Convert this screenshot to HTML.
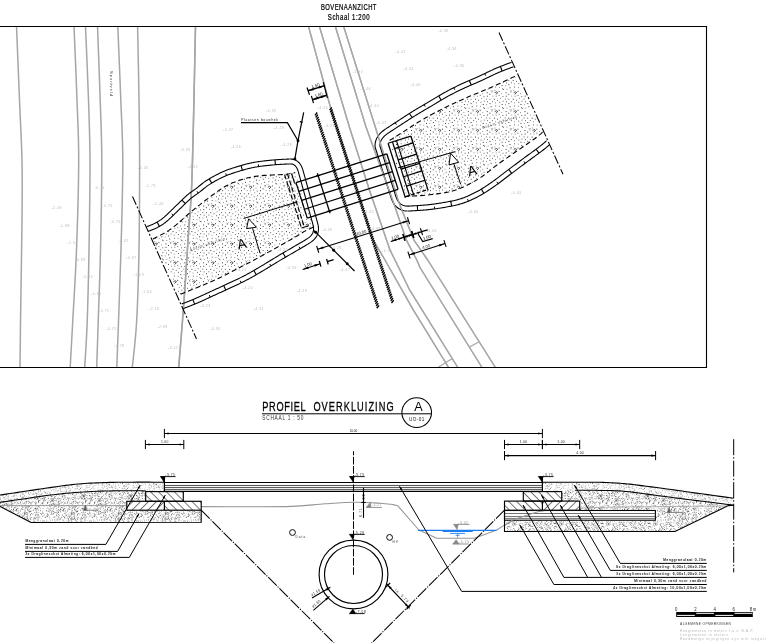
<!DOCTYPE html>
<html lang="nl">
<head>
<meta charset="utf-8">
<title>Bovenaanzicht en profiel overkluizing</title>
<style>
html,body{margin:0;padding:0;background:#fff;}
body{width:766px;height:643px;overflow:hidden;}
svg{display:block;font-family:"Liberation Sans",sans-serif;will-change:transform;}
</style>
</head>
<body>
<svg width="766" height="643" viewBox="0 0 766 643">
<defs>
<pattern id="sand" width="47" height="37" patternUnits="userSpaceOnUse">
<circle cx="7.8" cy="25.5" r=".42" fill="#555"/>
<path d="M10.2 29.3l-0.1 1" stroke="#999" stroke-width=".62"/>
<path d="M0.7 34.5l-0.5 0.4" stroke="#777" stroke-width=".62"/>
<circle cx="10.9" cy="1.6" r=".42" fill="#777"/>
<circle cx="1.6" cy="12.2" r=".42" fill="#777"/>
<path d="M30.5 34.7l-0.5 0.3" stroke="#111" stroke-width=".62"/>
<circle cx="43.6" cy="16.8" r=".42" fill="#999"/>
<circle cx="18.9" cy="5.6" r=".42" fill="#111"/>
<path d="M38.5 2.8l-1 0.1" stroke="#333" stroke-width=".62"/>
<circle cx="35.5" cy="28.2" r=".42" fill="#999"/>
<circle cx="3.3" cy="20.7" r=".42" fill="#999"/>
<circle cx="9.5" cy="34.2" r=".42" fill="#999"/>
<path d="M17.2 16.7l0 0.7" stroke="#777" stroke-width=".62"/>
<path d="M39.2 5.9l0.8 0.2" stroke="#777" stroke-width=".62"/>
<circle cx="24.5" cy="21.1" r=".42" fill="#555"/>
<circle cx="29.3" cy="6.7" r=".42" fill="#333"/>
<circle cx="39.2" cy="12.3" r=".42" fill="#999"/>
<circle cx="11.6" cy="6.2" r=".42" fill="#333"/>
<circle cx="17.6" cy="25.3" r=".42" fill="#999"/>
<circle cx="45" cy="15.1" r=".42" fill="#333"/>
<circle cx="27.8" cy="32.7" r=".42" fill="#777"/>
<circle cx="11.6" cy="20.8" r=".42" fill="#777"/>
<path d="M36.4 17.9l0.5 0.5" stroke="#555" stroke-width=".62"/>
<circle cx="19.7" cy="6.3" r=".42" fill="#111"/>
<circle cx="30.3" cy="5.4" r=".42" fill="#333"/>
<circle cx="22.5" cy="9.3" r=".42" fill="#999"/>
<circle cx="22.5" cy="35.3" r=".42" fill="#555"/>
<circle cx="41.4" cy="22.3" r=".42" fill="#777"/>
<circle cx="42.4" cy="17.6" r=".42" fill="#333"/>
<path d="M13 28.4l0.9 0.4" stroke="#111" stroke-width=".62"/>
<circle cx="12.4" cy="12.1" r=".42" fill="#333"/>
<circle cx="27.5" cy="9.5" r=".42" fill="#777"/>
<path d="M38.2 5.1l0.5 0.1" stroke="#333" stroke-width=".62"/>
<circle cx="21" cy="5.2" r=".42" fill="#111"/>
<path d="M5.9 19.9l-0.8 0.3" stroke="#555" stroke-width=".62"/>
<circle cx="8.5" cy="31.7" r=".42" fill="#333"/>
<circle cx="25.9" cy="1.7" r=".42" fill="#999"/>
<path d="M36.4 29.3l-0.7 0.3" stroke="#111" stroke-width=".62"/>
<path d="M26.6 31.6l-0.4 0.6" stroke="#333" stroke-width=".62"/>
<circle cx="2" cy="14.4" r=".42" fill="#555"/>
<circle cx="46.6" cy="30.3" r=".42" fill="#999"/>
<circle cx="26.9" cy="20.2" r=".42" fill="#111"/>
<path d="M34.5 35.8l-0.4 0.9" stroke="#555" stroke-width=".62"/>
<circle cx="8.9" cy="22.8" r=".42" fill="#555"/>
<path d="M16.7 11.8l0.5 0.1" stroke="#777" stroke-width=".62"/>
<circle cx="38.3" cy="28.1" r=".42" fill="#777"/>
<circle cx="44.5" cy="25.2" r=".42" fill="#777"/>
<path d="M24.1 32.4l0.8 0.1" stroke="#111" stroke-width=".62"/>
<circle cx="11.6" cy="26.1" r=".42" fill="#777"/>
<path d="M21.4 8.7l0.8 0.7" stroke="#777" stroke-width=".62"/>
<circle cx="30.8" cy="1.4" r=".42" fill="#333"/>
<circle cx="33.7" cy="32.9" r=".42" fill="#777"/>
<circle cx="35.7" cy="24.7" r=".42" fill="#999"/>
<path d="M32.1 9.1l-0.4 0.9" stroke="#777" stroke-width=".62"/>
<path d="M45.3 36.6l0.8 0.6" stroke="#111" stroke-width=".62"/>
<path d="M33.7 3.4l0.6 0.9" stroke="#333" stroke-width=".62"/>
<circle cx="34.9" cy="17.1" r=".42" fill="#111"/>
<path d="M7.8 16l-0.2 0.6" stroke="#555" stroke-width=".62"/>
<path d="M3.9 1.1l-0.5 0.3" stroke="#999" stroke-width=".62"/>
<circle cx="32" cy="7.4" r=".42" fill="#999"/>
<circle cx="33.7" cy="5.8" r=".42" fill="#777"/>
<circle cx="20.5" cy="22.8" r=".42" fill="#555"/>
<path d="M31.4 23l-0.5 0.1" stroke="#111" stroke-width=".62"/>
<path d="M38.1 34.6l-0 0.5" stroke="#555" stroke-width=".62"/>
<circle cx="28.6" cy="25.9" r=".42" fill="#333"/>
<path d="M44.3 5.5l0.2 0.5" stroke="#555" stroke-width=".62"/>
<circle cx="7.8" cy="21.1" r=".42" fill="#777"/>
<circle cx="2.3" cy="6.9" r=".42" fill="#777"/>
<circle cx="38.7" cy="21.6" r=".42" fill="#777"/>
<circle cx="0.8" cy="21.5" r=".42" fill="#111"/>
<path d="M39.1 36.6l0 0.8" stroke="#333" stroke-width=".62"/>
<path d="M25.2 18.2l0.6 0.3" stroke="#555" stroke-width=".62"/>
<circle cx="30.1" cy="0.3" r=".42" fill="#111"/>
<path d="M8.8 3.6l0.3 0.5" stroke="#333" stroke-width=".62"/>
<path d="M37.1 14.8l-0.8 0.2" stroke="#111" stroke-width=".62"/>
<circle cx="19.2" cy="25.6" r=".42" fill="#999"/>
<path d="M15.3 8.1l0.4 0.7" stroke="#999" stroke-width=".62"/>
<circle cx="29.5" cy="6.4" r=".42" fill="#555"/>
<path d="M37.9 33.5l-0.8 0.7" stroke="#111" stroke-width=".62"/>
<path d="M25.1 33.6l-1 0.2" stroke="#555" stroke-width=".62"/>
<path d="M37.3 0.4l0.3 0.4" stroke="#555" stroke-width=".62"/>
<circle cx="17.7" cy="27.7" r=".42" fill="#333"/>
<path d="M25.2 32.6l-0 0.7" stroke="#333" stroke-width=".62"/>
<circle cx="21.1" cy="28.4" r=".42" fill="#555"/>
<circle cx="11.3" cy="22.2" r=".42" fill="#555"/>
<circle cx="38.3" cy="13.4" r=".42" fill="#333"/>
<circle cx="42.8" cy="35.3" r=".42" fill="#111"/>
<circle cx="34.8" cy="27.4" r=".42" fill="#333"/>
<circle cx="24.2" cy="4.5" r=".42" fill="#333"/>
<circle cx="28.8" cy="17.2" r=".42" fill="#777"/>
<circle cx="30.6" cy="9.4" r=".42" fill="#777"/>
<circle cx="10.4" cy="17.7" r=".42" fill="#111"/>
<circle cx="21.6" cy="1.3" r=".42" fill="#555"/>
<circle cx="37.7" cy="27.3" r=".42" fill="#333"/>
<circle cx="17.7" cy="14.6" r=".42" fill="#111"/>
<path d="M40.7 11l0.7 0.6" stroke="#777" stroke-width=".62"/>
<path d="M38.2 17.9l-0.6 0.2" stroke="#111" stroke-width=".62"/>
<circle cx="15.7" cy="13.1" r=".42" fill="#999"/>
<circle cx="40.7" cy="27.8" r=".42" fill="#555"/>
<circle cx="5.9" cy="33.1" r=".42" fill="#999"/>
<path d="M41.9 2.9l0.9 0.4" stroke="#555" stroke-width=".62"/>
<path d="M44 3.9l0.5 0.4" stroke="#999" stroke-width=".62"/>
<path d="M23.4 26.4l-1 0.3" stroke="#333" stroke-width=".62"/>
<path d="M24.6 0.3l0.7 0.7" stroke="#333" stroke-width=".62"/>
<circle cx="2.8" cy="28" r=".42" fill="#999"/>
<circle cx="1" cy="26.8" r=".42" fill="#999"/>
<path d="M22.9 19.9l-0.4 0.8" stroke="#999" stroke-width=".62"/>
<circle cx="17.2" cy="12.8" r=".42" fill="#777"/>
<circle cx="21.5" cy="19" r=".42" fill="#333"/>
<circle cx="10.9" cy="31.5" r=".42" fill="#777"/>
<path d="M36.4 33.4l0.4 0.2" stroke="#111" stroke-width=".62"/>
<path d="M12.7 25.6l0.6 0.1" stroke="#555" stroke-width=".62"/>
<path d="M7.1 23.1l0.8 0.3" stroke="#333" stroke-width=".62"/>
<path d="M5.4 15l-0.5 0.7" stroke="#111" stroke-width=".62"/>
<circle cx="4" cy="9" r=".42" fill="#999"/>
<circle cx="11.5" cy="16" r=".42" fill="#999"/>
<circle cx="38.2" cy="14.8" r=".42" fill="#555"/>
<path d="M32.3 32.7l0 1" stroke="#777" stroke-width=".62"/>
<path d="M36.3 21.4l-0.4 0.9" stroke="#333" stroke-width=".62"/>
<circle cx="12.1" cy="17.5" r=".42" fill="#555"/>
<circle cx="7.7" cy="12.6" r=".42" fill="#777"/>
<path d="M18.3 29.6l-0.2 0.8" stroke="#111" stroke-width=".62"/>
<path d="M38.6 5.1l0.2 0.6" stroke="#333" stroke-width=".62"/>
<circle cx="38.9" cy="19" r=".42" fill="#111"/>
<circle cx="17.1" cy="7.3" r=".42" fill="#777"/>
<circle cx="28.6" cy="16.1" r=".42" fill="#111"/>
<path d="M9.4 1.2l-0.5 0.1" stroke="#333" stroke-width=".62"/>
<path d="M36.4 31.5l0.4 0.9" stroke="#777" stroke-width=".62"/>
<circle cx="8.9" cy="25.9" r=".42" fill="#333"/>
<path d="M22.6 12.2l-0.6 0.6" stroke="#333" stroke-width=".62"/>
<path d="M34.5 2.9l-0.7 0" stroke="#111" stroke-width=".62"/>
<circle cx="17.9" cy="36.1" r=".42" fill="#333"/>
<path d="M1.3 21.4l-1 0" stroke="#555" stroke-width=".62"/>
<circle cx="10.8" cy="4.5" r=".42" fill="#111"/>
<circle cx="38.7" cy="36.2" r=".42" fill="#777"/>
<circle cx="31.3" cy="7.8" r=".42" fill="#333"/>
<circle cx="20.2" cy="24.6" r=".42" fill="#555"/>
<circle cx="24.4" cy="1.8" r=".42" fill="#111"/>
<path d="M7.8 4.1l-0.2 0.5" stroke="#777" stroke-width=".62"/>
<circle cx="24" cy="10.9" r=".42" fill="#777"/>
<path d="M13.7 28.4l0.4 0.8" stroke="#999" stroke-width=".62"/>
<circle cx="12.1" cy="23.1" r=".42" fill="#555"/>
<path d="M12.5 12.9l-0.7 0.1" stroke="#999" stroke-width=".62"/>
<circle cx="29.7" cy="30.3" r=".42" fill="#555"/>
<path d="M7.6 35.8l0.3 0.6" stroke="#111" stroke-width=".62"/>
<path d="M1.2 29.7l-0.3 0.5" stroke="#333" stroke-width=".62"/>
<circle cx="6" cy="11.9" r=".42" fill="#333"/>
<circle cx="9.3" cy="6.4" r=".42" fill="#555"/>
<circle cx="15.3" cy="26.9" r=".42" fill="#777"/>
<path d="M34.3 9l-0.8 0.5" stroke="#555" stroke-width=".62"/>
<circle cx="8.9" cy="35.4" r=".42" fill="#999"/>
<path d="M43.2 17.1l-0.4 1" stroke="#333" stroke-width=".62"/>
<circle cx="41.4" cy="33.7" r=".42" fill="#111"/>
<circle cx="26.1" cy="33.5" r=".42" fill="#333"/>
<circle cx="42.7" cy="22.8" r=".42" fill="#111"/>
<circle cx="1.5" cy="11.5" r=".42" fill="#333"/>
<path d="M0.1 32.8l0.3 1" stroke="#777" stroke-width=".62"/>
<circle cx="40.6" cy="29.2" r=".42" fill="#777"/>
<path d="M8.8 11l-0.6 0.1" stroke="#333" stroke-width=".62"/>
<path d="M43.2 24.2l0.4 0.7" stroke="#999" stroke-width=".62"/>
<circle cx="5.5" cy="19.7" r=".42" fill="#111"/>
<path d="M30.1 32.9l0.6 0.8" stroke="#777" stroke-width=".62"/>
<circle cx="30.9" cy="17.5" r=".42" fill="#333"/>
<circle cx="14.8" cy="22.8" r=".42" fill="#777"/>
<path d="M35.4 23.4l0.7 0.4" stroke="#555" stroke-width=".62"/>
<path d="M45.1 6.1l-0.5 0.5" stroke="#333" stroke-width=".62"/>
<path d="M25.1 9.2l-0.3 0.9" stroke="#555" stroke-width=".62"/>
<circle cx="42.8" cy="31.4" r=".42" fill="#999"/>
<circle cx="9.6" cy="19.9" r=".42" fill="#111"/>
<circle cx="26.1" cy="35.9" r=".42" fill="#333"/>
<path d="M32.8 36.9l-0.4 0.6" stroke="#777" stroke-width=".62"/>
<circle cx="31.5" cy="36.7" r=".42" fill="#777"/>
<circle cx="27.6" cy="33.1" r=".42" fill="#111"/>
<circle cx="11.8" cy="35.5" r=".42" fill="#999"/>
<circle cx="2.7" cy="25.1" r=".42" fill="#333"/>
<path d="M4.9 24.2l-0.2 0.7" stroke="#333" stroke-width=".62"/>
<path d="M24.7 34l-1 0.1" stroke="#999" stroke-width=".62"/>
<path d="M22.6 31.8l-0.7 0.1" stroke="#999" stroke-width=".62"/>
<path d="M46.1 5.4l-0.2 0.6" stroke="#999" stroke-width=".62"/>
<circle cx="37.7" cy="14.2" r=".42" fill="#111"/>
<circle cx="15.8" cy="4.3" r=".42" fill="#777"/>
<path d="M15.8 14.8l-0.9 0.6" stroke="#777" stroke-width=".62"/>
<circle cx="2.5" cy="28.3" r=".42" fill="#999"/>
<path d="M6.9 19.1l0.7 0.2" stroke="#111" stroke-width=".62"/>
<circle cx="30.8" cy="30.2" r=".42" fill="#555"/>
<circle cx="37.7" cy="15.2" r=".42" fill="#111"/>
<circle cx="34.8" cy="21.3" r=".42" fill="#333"/>
<path d="M12.8 29.4l-0.9 0.2" stroke="#777" stroke-width=".62"/>
<path d="M20.4 33l-0.6 0.3" stroke="#333" stroke-width=".62"/>
<circle cx="38.7" cy="25.3" r=".42" fill="#111"/>
<circle cx="4.2" cy="10.1" r=".42" fill="#111"/>
<path d="M44.5 17.4l0.5 0.4" stroke="#777" stroke-width=".62"/>
<circle cx="36.8" cy="5.2" r=".42" fill="#999"/>
<circle cx="3.6" cy="13.8" r=".42" fill="#777"/>
<path d="M45.4 19l-0.1 1" stroke="#777" stroke-width=".62"/>
<path d="M4.1 22.9l-0.5 0.4" stroke="#777" stroke-width=".62"/>
<path d="M38.4 0.7l-0.3 0.8" stroke="#333" stroke-width=".62"/>
<circle cx="43.6" cy="10.4" r=".42" fill="#111"/>
<circle cx="43" cy="32.5" r=".42" fill="#111"/>
<circle cx="39.2" cy="9" r=".42" fill="#777"/>
<circle cx="19.9" cy="2.3" r=".42" fill="#777"/>
<path d="M12.8 0.7l0.1 1.1" stroke="#333" stroke-width=".62"/>
<circle cx="18.2" cy="35" r=".42" fill="#777"/>
<circle cx="42.8" cy="21.5" r=".42" fill="#555"/>
<path d="M32.3 9.7l-0.4 0.4" stroke="#555" stroke-width=".62"/>
<circle cx="28.1" cy="6.3" r=".42" fill="#111"/>
<circle cx="24" cy="6" r=".42" fill="#999"/>
<circle cx="37.1" cy="36.2" r=".42" fill="#555"/>
<path d="M30 3.2l0.1 1" stroke="#999" stroke-width=".62"/>
<path d="M11.8 18l-0.3 0.5" stroke="#555" stroke-width=".62"/>
<circle cx="7.4" cy="17.7" r=".42" fill="#777"/>
<path d="M22.6 9.6l0.4 0.4" stroke="#111" stroke-width=".62"/>
<circle cx="30.3" cy="24.3" r=".42" fill="#333"/>
<path d="M9.5 13.5l-0.5 0.2" stroke="#777" stroke-width=".62"/>
<path d="M44.9 11.1l-0.8 0.3" stroke="#777" stroke-width=".62"/>
<path d="M41 32.2l-0.5 0.4" stroke="#999" stroke-width=".62"/>
<path d="M12.2 20.1l-0.2 0.7" stroke="#777" stroke-width=".62"/>
<circle cx="25.9" cy="27.5" r=".42" fill="#111"/>
<circle cx="37.6" cy="5.8" r=".42" fill="#777"/>
<circle cx="24.7" cy="30.8" r=".42" fill="#999"/>
<circle cx="32.2" cy="8.4" r=".42" fill="#999"/>
<path d="M24.3 1.6l-0.1 0.8" stroke="#777" stroke-width=".62"/>
<path d="M15 15.8l0.6 0" stroke="#111" stroke-width=".62"/>
<path d="M22.1 24.9l0.1 0.9" stroke="#111" stroke-width=".62"/>
<path d="M20.8 36.4l-0.5 0.3" stroke="#777" stroke-width=".62"/>
<circle cx="30.6" cy="6.9" r=".42" fill="#999"/>
<path d="M33.9 18.1l0.6 0.4" stroke="#999" stroke-width=".62"/>
<circle cx="7.1" cy="16.5" r=".42" fill="#999"/>
<path d="M22.2 36.3l0.5 0.7" stroke="#111" stroke-width=".62"/>
<path d="M10.5 2.1l-0.5 0.8" stroke="#555" stroke-width=".62"/>
<path d="M28.2 0.8l0.2 1" stroke="#111" stroke-width=".62"/>
<circle cx="34" cy="1.2" r=".42" fill="#333"/>
<circle cx="43.5" cy="2.6" r=".42" fill="#999"/>
<path d="M7.5 7.5l1 0.3" stroke="#777" stroke-width=".62"/>
<circle cx="23.1" cy="22.7" r=".42" fill="#333"/>
<circle cx="20.2" cy="21.8" r=".42" fill="#333"/>
<circle cx="39.9" cy="36.7" r=".42" fill="#999"/>
<path d="M34.5 4.8l-0.3 0.8" stroke="#333" stroke-width=".62"/>
<path d="M46.5 29.1l0.3 0.9" stroke="#111" stroke-width=".62"/>
<circle cx="3.2" cy="21.9" r=".42" fill="#999"/>
<circle cx="19.8" cy="34.8" r=".42" fill="#111"/>
<circle cx="46" cy="4.8" r=".42" fill="#777"/>
<path d="M21.6 2.9l-0.5 0.6" stroke="#999" stroke-width=".62"/>
<path d="M4.2 31.8l0.5 0.6" stroke="#555" stroke-width=".62"/>
<circle cx="4.5" cy="32.9" r=".42" fill="#111"/>
<path d="M7.2 20.4l-0.9 0.3" stroke="#777" stroke-width=".62"/>
<circle cx="6.7" cy="11.6" r=".42" fill="#111"/>
<path d="M4.8 13l0.6 0.4" stroke="#333" stroke-width=".62"/>
<path d="M30.1 29.7l0.1 0.8" stroke="#999" stroke-width=".62"/>
<path d="M6.8 36.1l0.9 0.2" stroke="#555" stroke-width=".62"/>
<path d="M30.3 33.2l0.6 0.5" stroke="#111" stroke-width=".62"/>
<path d="M43.8 6.7l0.4 0.6" stroke="#555" stroke-width=".62"/>
<path d="M36 15.9l-0.9 0.4" stroke="#777" stroke-width=".62"/>
<circle cx="12.6" cy="14.4" r=".42" fill="#777"/>
<circle cx="11" cy="35.3" r=".42" fill="#777"/>
<circle cx="26.6" cy="31.3" r=".42" fill="#555"/>
<path d="M12.6 7.2l1.1 0" stroke="#111" stroke-width=".62"/>
<circle cx="15.9" cy="1.5" r=".42" fill="#777"/>
<circle cx="25.9" cy="12.2" r=".42" fill="#999"/>
<path d="M43.6 4.6l-1 0.2" stroke="#333" stroke-width=".62"/>
<circle cx="0.2" cy="26.8" r=".42" fill="#777"/>
<circle cx="1.3" cy="30.7" r=".42" fill="#333"/>
<circle cx="40.9" cy="29.8" r=".42" fill="#333"/>
<circle cx="6.3" cy="7.6" r=".42" fill="#333"/>
<path d="M17.5 26.9l-0 1" stroke="#999" stroke-width=".62"/>
<circle cx="11.5" cy="21.1" r=".42" fill="#111"/>
<circle cx="16.9" cy="13.3" r=".42" fill="#333"/>
<path d="M27.4 28.8l0.3 0.8" stroke="#777" stroke-width=".62"/>
<path d="M18 0.3l-0.5 0.4" stroke="#333" stroke-width=".62"/>
<circle cx="32.9" cy="10.7" r=".42" fill="#999"/>
<path d="M11.5 33.2l0.3 0.8" stroke="#555" stroke-width=".62"/>
<circle cx="17.5" cy="22.3" r=".42" fill="#777"/>
<circle cx="4.7" cy="19.5" r=".42" fill="#111"/>
<circle cx="15.2" cy="33.8" r=".42" fill="#777"/>
<path d="M13.4 8.2l1 0" stroke="#111" stroke-width=".62"/>
<circle cx="3.4" cy="17.9" r=".42" fill="#777"/>
<circle cx="44.5" cy="33.9" r=".42" fill="#777"/>
<path d="M19 16l-0.6 0.1" stroke="#333" stroke-width=".62"/>
<circle cx="9.4" cy="34.6" r=".42" fill="#111"/>
<path d="M23.4 9l0.6 0.1" stroke="#111" stroke-width=".62"/>
<circle cx="40.3" cy="12" r=".42" fill="#777"/>
<circle cx="37.2" cy="5.7" r=".42" fill="#111"/>
<path d="M29.3 8.6l-0.6 0.1" stroke="#999" stroke-width=".62"/>
<path d="M23.1 34.6l0 1.1" stroke="#111" stroke-width=".62"/>
<path d="M0 27.9l-0.7 0.7" stroke="#111" stroke-width=".62"/>
<circle cx="34.5" cy="31.4" r=".42" fill="#555"/>
<path d="M24.8 8.5l-0.5 0.4" stroke="#111" stroke-width=".62"/>
<circle cx="42.3" cy="22.5" r=".42" fill="#777"/>
<circle cx="31.8" cy="24.1" r=".42" fill="#999"/>
<path d="M27.7 34.2l0.1 0.9" stroke="#555" stroke-width=".62"/>
<circle cx="26.5" cy="18.3" r=".42" fill="#111"/>
<circle cx="35.5" cy="7.5" r=".42" fill="#555"/>
<path d="M38.9 11.4l-0.5 0.3" stroke="#777" stroke-width=".62"/>
<circle cx="43.1" cy="34.1" r=".42" fill="#333"/>
<path d="M23.2 13.8l1 0.3" stroke="#999" stroke-width=".62"/>
<path d="M1.1 33.1l-0.3 0.7" stroke="#333" stroke-width=".62"/>
<path d="M20.1 21.2l0.6 0.1" stroke="#777" stroke-width=".62"/>
<circle cx="24.9" cy="3.3" r=".42" fill="#777"/>
<circle cx="4.9" cy="30.8" r=".42" fill="#111"/>
<circle cx="2.5" cy="7.1" r=".42" fill="#999"/>
<circle cx="3.3" cy="9.3" r=".42" fill="#555"/>
<circle cx="40.4" cy="2.8" r=".42" fill="#777"/>
<path d="M42.3 6.1l0.6 0.4" stroke="#111" stroke-width=".62"/>
<circle cx="34.9" cy="17.4" r=".42" fill="#111"/>
<circle cx="21.2" cy="1.7" r=".42" fill="#999"/>
<circle cx="13.4" cy="27.5" r=".42" fill="#777"/>
<path d="M4.8 17.6l0.3 0.9" stroke="#333" stroke-width=".62"/>
<circle cx="26.5" cy="7.2" r=".42" fill="#999"/>
<path d="M17.8 32.8l0.8 0.1" stroke="#555" stroke-width=".62"/>
<circle cx="0.6" cy="35.6" r=".42" fill="#555"/>
<path d="M45.6 6.2l0.2 0.9" stroke="#999" stroke-width=".62"/>
<circle cx="22" cy="6.9" r=".42" fill="#555"/>
<path d="M21.9 33.5l-0.3 0.7" stroke="#111" stroke-width=".62"/>
<circle cx="27.5" cy="25.1" r=".42" fill="#111"/>
<circle cx="38.6" cy="8.2" r=".42" fill="#111"/>
<circle cx="16.4" cy="27.4" r=".42" fill="#999"/>
<circle cx="33.1" cy="28.5" r=".42" fill="#777"/>
<circle cx="44.3" cy="3" r=".42" fill="#333"/>
<circle cx="16.2" cy="29" r=".42" fill="#333"/>
<circle cx="15.1" cy="21.5" r=".42" fill="#333"/>
<path d="M38.3 1.9l-0.9 0.3" stroke="#999" stroke-width=".62"/>
<circle cx="31.8" cy="4.5" r=".42" fill="#777"/>
<path d="M24.2 31.5l-0.2 0.9" stroke="#111" stroke-width=".62"/>
<circle cx="35.5" cy="34.1" r=".42" fill="#111"/>
<circle cx="8.5" cy="15.3" r=".42" fill="#333"/>
<circle cx="8.3" cy="25" r=".42" fill="#777"/>
<circle cx="17.9" cy="4.9" r=".42" fill="#777"/>
<path d="M6.4 22.1l0.1 1" stroke="#111" stroke-width=".62"/>
<circle cx="42.9" cy="31.3" r=".42" fill="#777"/>
<path d="M16.1 8.2l0.3 0.5" stroke="#999" stroke-width=".62"/>
<circle cx="21.3" cy="17.8" r=".42" fill="#333"/>
<circle cx="43.1" cy="7.4" r=".42" fill="#777"/>
<path d="M34.9 21.9l0.8 0.6" stroke="#111" stroke-width=".62"/>
<circle cx="7.6" cy="23.6" r=".42" fill="#777"/>
<circle cx="11.7" cy="12.7" r=".42" fill="#111"/>
<circle cx="38.6" cy="20.5" r=".42" fill="#111"/>
<circle cx="31" cy="15.2" r=".42" fill="#555"/>
<circle cx="9.4" cy="27.1" r=".42" fill="#333"/>
<circle cx="5.2" cy="29.5" r=".42" fill="#999"/>
<circle cx="38.7" cy="33.9" r=".42" fill="#333"/>
<circle cx="26.4" cy="25.8" r=".42" fill="#111"/>
<circle cx="9.6" cy="31.8" r=".42" fill="#333"/>
<path d="M45.2 36.8l-0.9 0.4" stroke="#555" stroke-width=".62"/>
<circle cx="9.3" cy="25.7" r=".42" fill="#999"/>
<circle cx="44.8" cy="24.4" r=".42" fill="#333"/>
<circle cx="37.8" cy="17.5" r=".42" fill="#111"/>
<circle cx="43.2" cy="3.1" r=".42" fill="#777"/>
<circle cx="25.5" cy="16.1" r=".42" fill="#555"/>
<circle cx="2.5" cy="11.8" r=".42" fill="#999"/>
<circle cx="6.3" cy="36.7" r=".42" fill="#777"/>
<circle cx="24.5" cy="27.9" r=".42" fill="#777"/>
<path d="M23.5 1.7l0.4 0.4" stroke="#333" stroke-width=".62"/>
<path d="M17.7 25.5l-0.6 0.8" stroke="#999" stroke-width=".62"/>
<circle cx="25.3" cy="23.5" r=".42" fill="#999"/>
<circle cx="33.2" cy="6.3" r=".42" fill="#555"/>
<path d="M9 23.1l-0.3 0.5" stroke="#777" stroke-width=".62"/>
<circle cx="15.6" cy="34.8" r=".42" fill="#777"/>
<path d="M25.7 10.6l0.7 0.4" stroke="#777" stroke-width=".62"/>
<path d="M6.7 11.3l-0.4 0.5" stroke="#111" stroke-width=".62"/>
<circle cx="10.3" cy="23.6" r=".42" fill="#777"/>
<circle cx="43.8" cy="19.5" r=".42" fill="#333"/>
<path d="M23.8 3.7l-0.6 0.6" stroke="#999" stroke-width=".62"/>
<circle cx="19.3" cy="4.7" r=".42" fill="#333"/>
<circle cx="5.6" cy="8.3" r=".42" fill="#333"/>
<circle cx="26.9" cy="32.1" r=".42" fill="#555"/>
<circle cx="16.9" cy="18.7" r=".42" fill="#333"/>
<path d="M35.8 31.5l0.2 0.7" stroke="#555" stroke-width=".62"/>
<path d="M2.9 0.8l-0.7 0.3" stroke="#999" stroke-width=".62"/>
<path d="M21.2 13.5l0.5 0.2" stroke="#555" stroke-width=".62"/>
<circle cx="46.3" cy="3.1" r=".42" fill="#111"/>
<circle cx="36" cy="28.4" r=".42" fill="#777"/>
<circle cx="47" cy="27.6" r=".42" fill="#555"/>
<path d="M4.1 13.7l-0.6 0.8" stroke="#999" stroke-width=".62"/>
<path d="M4.9 10.1l0.4 0.5" stroke="#111" stroke-width=".62"/>
<circle cx="25.5" cy="1.8" r=".42" fill="#999"/>
<path d="M2.2 30.6l0.3 0.9" stroke="#999" stroke-width=".62"/>
<circle cx="13.4" cy="30.6" r=".42" fill="#333"/>
<path d="M14.9 8.3l0.3 0.6" stroke="#333" stroke-width=".62"/>
<circle cx="35.3" cy="13.5" r=".42" fill="#555"/>
<circle cx="39" cy="19.6" r=".42" fill="#555"/>
<circle cx="43.1" cy="15.2" r=".42" fill="#777"/>
<circle cx="42.1" cy="12.5" r=".42" fill="#777"/>
<circle cx="20.4" cy="21.6" r=".42" fill="#777"/>
<circle cx="15.1" cy="26.2" r=".42" fill="#777"/>
<circle cx="20.2" cy="5.1" r=".42" fill="#111"/>
<circle cx="5" cy="33.6" r=".42" fill="#333"/>
<path d="M44.6 17.9l-0.5 1" stroke="#111" stroke-width=".62"/>
<path d="M36.6 30.6l0.4 1" stroke="#333" stroke-width=".62"/>
<path d="M12.9 22.2l-0.2 0.8" stroke="#111" stroke-width=".62"/>
<circle cx="45.7" cy="16.6" r=".42" fill="#111"/>
<path d="M25.2 9.7l0.2 1.1" stroke="#111" stroke-width=".62"/>
<circle cx="19.5" cy="0.8" r=".42" fill="#999"/>
<circle cx="27.1" cy="14.1" r=".42" fill="#111"/>
<path d="M7.4 31.3l-0.4 1" stroke="#111" stroke-width=".62"/>
<path d="M34.9 34.1l0.7 0.4" stroke="#999" stroke-width=".62"/>
<circle cx="5.2" cy="17.9" r=".42" fill="#555"/>
<path d="M10.7 1.4l0.5 0.2" stroke="#333" stroke-width=".62"/>
<circle cx="27.2" cy="0.8" r=".42" fill="#999"/>
<circle cx="42.5" cy="14.2" r=".42" fill="#555"/>
<circle cx="17.6" cy="28.8" r=".42" fill="#999"/>
<circle cx="39.2" cy="14.6" r=".42" fill="#777"/>
<circle cx="46.2" cy="6.3" r=".42" fill="#999"/>
<circle cx="4.6" cy="20.8" r=".42" fill="#333"/>
<circle cx="24.8" cy="6.3" r=".42" fill="#999"/>
<circle cx="44.1" cy="5.6" r=".42" fill="#111"/>
<circle cx="30.8" cy="8.3" r=".42" fill="#999"/>
<circle cx="13.6" cy="18.9" r=".42" fill="#999"/>
<circle cx="3.6" cy="25.3" r=".42" fill="#111"/>
<circle cx="35.5" cy="27" r=".42" fill="#999"/>
<circle cx="2.3" cy="23.3" r=".42" fill="#333"/>
<path d="M17.2 20l-0.8 0.6" stroke="#999" stroke-width=".62"/>
<path d="M10.9 12.9l0.7 0.7" stroke="#333" stroke-width=".62"/>
<circle cx="6.4" cy="28" r=".42" fill="#111"/>
<path d="M17.2 3l-0.7 0.1" stroke="#555" stroke-width=".62"/>
<circle cx="29.7" cy="30.7" r=".42" fill="#333"/>
<path d="M36.3 18.2l0 0.6" stroke="#555" stroke-width=".62"/>
<path d="M12.7 7.5l-0.7 0.2" stroke="#111" stroke-width=".62"/>
<circle cx="40.7" cy="29.8" r=".42" fill="#999"/>
<path d="M26.1 0.8l0.8 0.7" stroke="#555" stroke-width=".62"/>
<circle cx="42.9" cy="22.6" r=".42" fill="#111"/>
<circle cx="6.2" cy="20.6" r=".42" fill="#999"/>
<path d="M0.7 2.6l0.8 0.8" stroke="#777" stroke-width=".62"/>
<circle cx="15.9" cy="13.6" r=".42" fill="#999"/>
<path d="M7.1 1.2l0.8 0.7" stroke="#777" stroke-width=".62"/>
<circle cx="41.1" cy="24.4" r=".42" fill="#777"/>
<path d="M22.9 34.1l0.4 0.7" stroke="#999" stroke-width=".62"/>
<circle cx="5" cy="5.3" r=".42" fill="#777"/>
<circle cx="24.9" cy="31" r=".42" fill="#555"/>
<path d="M6.6 17.4l-0.1 0.9" stroke="#333" stroke-width=".62"/>
<path d="M27.9 27.1l-0.3 1" stroke="#777" stroke-width=".62"/>
<path d="M20.3 27.9l0.5 0.6" stroke="#999" stroke-width=".62"/>
<circle cx="23.8" cy="1.9" r=".42" fill="#999"/>
<circle cx="30.7" cy="21.8" r=".42" fill="#111"/>
<circle cx="28.7" cy="22.7" r=".42" fill="#555"/>
<path d="M23.2 6.7l-0.4 0.3" stroke="#555" stroke-width=".62"/>
<circle cx="14.9" cy="13" r=".42" fill="#111"/>
<circle cx="26.1" cy="20.6" r=".42" fill="#111"/>
<circle cx="31.1" cy="26.3" r=".42" fill="#555"/>
<path d="M7.2 26.3l-0.5 0.9" stroke="#999" stroke-width=".62"/>
<path d="M15 29.1l0.8 0.6" stroke="#555" stroke-width=".62"/>
<path d="M6.6 23.2l0.8 0.6" stroke="#999" stroke-width=".62"/>
<circle cx="3.5" cy="29.2" r=".42" fill="#999"/>
<path d="M3.9 17.2l0.3 0.6" stroke="#333" stroke-width=".62"/>
<path d="M17.6 16l-0.9 0" stroke="#999" stroke-width=".62"/>
<circle cx="2.1" cy="12.7" r=".42" fill="#777"/>
<circle cx="33.4" cy="29.3" r=".42" fill="#111"/>
<path d="M14.3 0l-0.9 0.3" stroke="#111" stroke-width=".62"/>
<circle cx="26.8" cy="22.7" r=".42" fill="#777"/>
<circle cx="37.6" cy="5.3" r=".42" fill="#111"/>
<path d="M24.5 24.2l0.2 1" stroke="#111" stroke-width=".62"/>
<circle cx="43" cy="27.2" r=".42" fill="#111"/>
<circle cx="18.8" cy="22.4" r=".42" fill="#333"/>
<path d="M21.4 27.1l0.2 0.7" stroke="#555" stroke-width=".62"/>
<circle cx="45.6" cy="13" r=".42" fill="#111"/>
<path d="M24.1 22.5l-0.3 0.6" stroke="#333" stroke-width=".62"/>
<path d="M3.7 2.9l-0.7 0.2" stroke="#333" stroke-width=".62"/>
<path d="M9.9 29.5l0.3 1" stroke="#777" stroke-width=".62"/>
<path d="M39.3 25.5l0.7 0.8" stroke="#777" stroke-width=".62"/>
<path d="M28.1 29.8l0.8 0.2" stroke="#333" stroke-width=".62"/>
<circle cx="36.5" cy="16.2" r=".42" fill="#999"/>
<circle cx="28.4" cy="2.4" r=".42" fill="#555"/>
<circle cx="35.9" cy="35.4" r=".42" fill="#999"/>
<circle cx="28.5" cy="20.6" r=".42" fill="#333"/>
<path d="M0.5 35.7l-0.7 0.6" stroke="#777" stroke-width=".62"/>
<path d="M0.4 22.4l-0.6 0.7" stroke="#111" stroke-width=".62"/>
<circle cx="37.9" cy="17.5" r=".42" fill="#111"/>
<path d="M15.2 8.3l-0.5 0.7" stroke="#333" stroke-width=".62"/>
<circle cx="45.7" cy="36.1" r=".42" fill="#333"/>
<circle cx="34.2" cy="16" r=".42" fill="#111"/>
<circle cx="26.1" cy="13.2" r=".42" fill="#777"/>
<circle cx="32.5" cy="21.1" r=".42" fill="#333"/>
<path d="M25.6 25.3l0.6 0.5" stroke="#333" stroke-width=".62"/>
<path d="M12.7 6l-0.9 0.2" stroke="#333" stroke-width=".62"/>
<circle cx="9.5" cy="4.9" r=".42" fill="#333"/>
<path d="M46.9 34.9l-0.6 0.5" stroke="#111" stroke-width=".62"/>
<circle cx="25" cy="0.9" r=".42" fill="#111"/>
<path d="M27.9 36.6l-1 0.4" stroke="#777" stroke-width=".62"/>
<circle cx="4.2" cy="30.7" r=".42" fill="#999"/>
<circle cx="28.5" cy="14.4" r=".42" fill="#777"/>
<circle cx="22.2" cy="17" r=".42" fill="#333"/>
<circle cx="40.7" cy="32.3" r=".42" fill="#999"/>
<circle cx="38.8" cy="5.7" r=".42" fill="#777"/>
<path d="M31.1 29.8l-0.6 0.2" stroke="#555" stroke-width=".62"/>
<circle cx="21.4" cy="2.1" r=".42" fill="#111"/>
<circle cx="26.7" cy="21.6" r=".42" fill="#555"/>
<path d="M27.7 19.8l1 0.2" stroke="#777" stroke-width=".62"/>
<path d="M26.5 7.3l0.9 0.2" stroke="#999" stroke-width=".62"/>
<path d="M20.5 29.6l-0.1 0.9" stroke="#111" stroke-width=".62"/>
<circle cx="31.5" cy="32.6" r=".42" fill="#111"/>
<path d="M3.8 13.3l0.4 0.5" stroke="#777" stroke-width=".62"/>
<path d="M10.4 32.2l-0.5 0.9" stroke="#555" stroke-width=".62"/>
<circle cx="0.6" cy="14.9" r=".42" fill="#111"/>
<path d="M9.9 23.2l-0.5 0.5" stroke="#777" stroke-width=".62"/>
<circle cx="3.9" cy="20.5" r=".42" fill="#777"/>
<path d="M25.4 21.6l-0.7 0.8" stroke="#333" stroke-width=".62"/>
<circle cx="15.7" cy="16.1" r=".42" fill="#555"/>
<path d="M35.9 36.6l1 0.3" stroke="#555" stroke-width=".62"/>
<circle cx="16.3" cy="35.6" r=".42" fill="#333"/>
<circle cx="8" cy="6" r=".42" fill="#999"/>
<circle cx="36.5" cy="14.3" r=".42" fill="#333"/>
<circle cx="18.9" cy="14.6" r=".42" fill="#777"/>
<circle cx="46.1" cy="32.3" r=".42" fill="#999"/>
<path d="M29.1 12.2l0.7 0" stroke="#333" stroke-width=".62"/>
<circle cx="17.5" cy="32.4" r=".42" fill="#555"/>
<path d="M34.6 13.2l-0.2 0.5" stroke="#999" stroke-width=".62"/>
<path d="M25.4 29.2l-0.4 0.7" stroke="#333" stroke-width=".62"/>
<circle cx="16.4" cy="28.9" r=".42" fill="#555"/>
<circle cx="11.5" cy="25.3" r=".42" fill="#333"/>
<circle cx="9.7" cy="14.7" r=".42" fill="#777"/>
<circle cx="3.5" cy="21.6" r=".42" fill="#777"/>
<circle cx="25.1" cy="18.4" r=".42" fill="#333"/>
<path d="M39.1 8.2l0.6 0.4" stroke="#333" stroke-width=".62"/>
<path d="M42.5 17.8l-0.9 0.2" stroke="#555" stroke-width=".62"/>
<path d="M9.5 27.6l-0.7 0.8" stroke="#999" stroke-width=".62"/>
<circle cx="28.5" cy="26.3" r=".42" fill="#777"/>
<circle cx="21.1" cy="35.7" r=".42" fill="#777"/>
<circle cx="19.9" cy="12.2" r=".42" fill="#555"/>
<circle cx="5.1" cy="17" r=".42" fill="#777"/>
<path d="M27.3 35.5l-0.5 0" stroke="#333" stroke-width=".62"/>
<path d="M32.8 0.6l0.7 0.4" stroke="#555" stroke-width=".62"/>
<circle cx="19.3" cy="34.4" r=".42" fill="#333"/>
<path d="M26.2 31.7l-0.7 0.8" stroke="#555" stroke-width=".62"/>
<path d="M3.5 26.9l-0.7 0.6" stroke="#777" stroke-width=".62"/>
<circle cx="24.3" cy="33.2" r=".42" fill="#555"/>
<circle cx="40.5" cy="18.9" r=".42" fill="#999"/>
<path d="M3.3 14.8l0.9 0.3" stroke="#333" stroke-width=".62"/>
<path d="M36.7 22.6l-0.6 0" stroke="#777" stroke-width=".62"/>
<circle cx="1.3" cy="27.9" r=".42" fill="#555"/>
<circle cx="20.5" cy="7.3" r=".42" fill="#333"/>
<circle cx="3.8" cy="5.3" r=".42" fill="#555"/>
<path d="M0.1 11.9l-0 1.1" stroke="#333" stroke-width=".62"/>
<circle cx="20.2" cy="16.4" r=".42" fill="#333"/>
<circle cx="40.8" cy="23.6" r=".42" fill="#999"/>
<circle cx="26.7" cy="12.2" r=".42" fill="#777"/>
<path d="M6 26.4l0.7 0.9" stroke="#777" stroke-width=".62"/>
<path d="M11.4 5.7l-0.2 0.6" stroke="#111" stroke-width=".62"/>
<circle cx="10.8" cy="21.8" r=".42" fill="#777"/>
<path d="M7.4 25.7l0.5 0.1" stroke="#999" stroke-width=".62"/>
<circle cx="33.4" cy="12.2" r=".42" fill="#111"/>
<circle cx="12" cy="17.8" r=".42" fill="#777"/>
<path d="M2.6 6.8l0.1 1.1" stroke="#555" stroke-width=".62"/>
<circle cx="11.8" cy="30.2" r=".42" fill="#111"/>
<path d="M1.6 13.7l-0.6 0.8" stroke="#777" stroke-width=".62"/>
<path d="M37 1.4l0.2 0.5" stroke="#999" stroke-width=".62"/>
<circle cx="19.6" cy="18.8" r=".42" fill="#333"/>
<circle cx="17.7" cy="36.6" r=".42" fill="#111"/>
<circle cx="21.9" cy="3.2" r=".42" fill="#999"/>
<circle cx="39.3" cy="25" r=".42" fill="#999"/>
<path d="M30.3 10.9l0.4 0.3" stroke="#999" stroke-width=".62"/>
<circle cx="27.3" cy="0.5" r=".42" fill="#111"/>
<path d="M14.9 13.3l0.9 0" stroke="#555" stroke-width=".62"/>
<circle cx="4.9" cy="31.9" r=".42" fill="#777"/>
<circle cx="39.3" cy="35.5" r=".42" fill="#999"/>
<circle cx="37.8" cy="16.6" r=".42" fill="#333"/>
<path d="M13.1 31.1l0.8 0.4" stroke="#777" stroke-width=".62"/>
<circle cx="31.2" cy="7.6" r=".42" fill="#555"/>
<path d="M46.1 18.5l-0.2 0.5" stroke="#333" stroke-width=".62"/>
<circle cx="30.2" cy="27.3" r=".42" fill="#555"/>
<path d="M35.8 33.9l-0.8 0.5" stroke="#555" stroke-width=".62"/>
<circle cx="46.1" cy="14.1" r=".42" fill="#999"/>
<circle cx="25.4" cy="26.3" r=".42" fill="#111"/>
<path d="M8.4 8.8l0.6 0.5" stroke="#333" stroke-width=".62"/>
<circle cx="13.2" cy="19.4" r=".42" fill="#555"/>
<circle cx="18.5" cy="27.6" r=".42" fill="#999"/>
<path d="M20.7 20.5l0.3 0.5" stroke="#555" stroke-width=".62"/>
<path d="M21.4 11.5l-0.4 0.8" stroke="#333" stroke-width=".62"/>
<circle cx="27.7" cy="15.9" r=".42" fill="#777"/>
<path d="M8.6 6.3l-0.7 0.2" stroke="#111" stroke-width=".62"/>
<circle cx="5.1" cy="23" r=".42" fill="#777"/>
<path d="M3 29.7l-0.7 0.3" stroke="#555" stroke-width=".62"/>
<circle cx="16.6" cy="29" r=".42" fill="#333"/>
<path d="M40.7 17.3l0.3 0.4" stroke="#333" stroke-width=".62"/>
<path d="M14.8 24l0.1 1" stroke="#999" stroke-width=".62"/>
<circle cx="37.3" cy="29" r=".42" fill="#999"/>
<path d="M33.1 20.5l-0.3 0.4" stroke="#333" stroke-width=".62"/>
<circle cx="42" cy="5.2" r=".42" fill="#999"/>
<circle cx="22.7" cy="28.1" r=".42" fill="#333"/>
<path d="M3.1 32.9l0.2 0.5" stroke="#333" stroke-width=".62"/>
<circle cx="33" cy="10.5" r=".42" fill="#111"/>
<circle cx="5" cy="27.4" r=".42" fill="#333"/>
<path d="M44.8 12.4l0.5 0.2" stroke="#555" stroke-width=".62"/>
<path d="M25.1 32.3l-0.6 0.4" stroke="#999" stroke-width=".62"/>
<circle cx="24.5" cy="10.6" r=".42" fill="#555"/>
<path d="M36 4.6l0.7 0.1" stroke="#999" stroke-width=".62"/>
<circle cx="43.2" cy="20.7" r=".42" fill="#555"/>
<circle cx="43.6" cy="14.9" r=".42" fill="#333"/>
<circle cx="12.8" cy="4" r=".42" fill="#333"/>
<circle cx="5" cy="18.2" r=".42" fill="#999"/>
<path d="M27.2 31.3l0.4 0.4" stroke="#333" stroke-width=".62"/>
<circle cx="5.8" cy="20.4" r=".42" fill="#999"/>
<path d="M44.2 19.7l0.5 0.6" stroke="#111" stroke-width=".62"/>
<circle cx="8.8" cy="4.4" r=".42" fill="#555"/>
<circle cx="11.7" cy="26.2" r=".42" fill="#555"/>
<path d="M35.3 27.3l1.1 0.2" stroke="#555" stroke-width=".62"/>
<circle cx="21.1" cy="0.4" r=".42" fill="#333"/>
<circle cx="40" cy="9.8" r=".42" fill="#999"/>
<path d="M37.8 12.7l-0.6 0.4" stroke="#111" stroke-width=".62"/>
<circle cx="39.1" cy="26.8" r=".42" fill="#555"/>
<circle cx="44.1" cy="16.6" r=".42" fill="#777"/>
<circle cx="43.1" cy="24.1" r=".42" fill="#111"/>
<path d="M28.1 10.1l0.8 0.7" stroke="#999" stroke-width=".62"/>
<circle cx="26.4" cy="16.5" r=".42" fill="#555"/>
<path d="M24.8 3l-0.8 0.5" stroke="#777" stroke-width=".62"/>
<path d="M32.6 16l0.7 0.2" stroke="#999" stroke-width=".62"/>
<circle cx="25.6" cy="13.1" r=".42" fill="#777"/>
<path d="M36.8 15.2l-0.1 0.7" stroke="#111" stroke-width=".62"/>
<path d="M2.3 5.6l-0.5 0.8" stroke="#111" stroke-width=".62"/>
<circle cx="38.8" cy="20" r=".42" fill="#111"/>
<path d="M10.2 0.5l0.5 0.2" stroke="#999" stroke-width=".62"/>
<circle cx="42" cy="32.7" r=".42" fill="#777"/>
<circle cx="29.7" cy="35.8" r=".42" fill="#999"/>
<path d="M1.8 19.1l0.4 0.4" stroke="#111" stroke-width=".62"/>
<path d="M17.9 31.8l0.4 0.7" stroke="#999" stroke-width=".62"/>
<circle cx="45" cy="16.2" r=".42" fill="#333"/>
<path d="M9.7 18.5l-0.1 0.9" stroke="#777" stroke-width=".62"/>
<path d="M31.6 21.5l-0.5 0.1" stroke="#333" stroke-width=".62"/>
<path d="M2.2 35.7l0.5 0.3" stroke="#555" stroke-width=".62"/>
<circle cx="40.5" cy="32.5" r=".42" fill="#555"/>
<circle cx="4.4" cy="15.3" r=".42" fill="#111"/>
<circle cx="5.5" cy="2" r=".42" fill="#555"/>
<circle cx="42.5" cy="14.5" r=".42" fill="#111"/>
<path d="M13.8 20.8l0.9 0.5" stroke="#333" stroke-width=".62"/>
<path d="M15.1 36.1l-0.7 0.4" stroke="#999" stroke-width=".62"/>
<circle cx="11.3" cy="31.8" r=".42" fill="#111"/>
<circle cx="29.1" cy="28.5" r=".42" fill="#777"/>
<circle cx="16.1" cy="30.7" r=".42" fill="#555"/>
<circle cx="29.2" cy="21.7" r=".42" fill="#555"/>
<circle cx="15.4" cy="10.3" r=".42" fill="#555"/>
<path d="M46.8 1.5l0.2 0.8" stroke="#999" stroke-width=".62"/>
<circle cx="16" cy="2.6" r=".42" fill="#333"/>
<circle cx="18.1" cy="17.3" r=".42" fill="#777"/>
<path d="M11.4 33.2l0.3 0.5" stroke="#555" stroke-width=".62"/>
<circle cx="13.9" cy="29.6" r=".42" fill="#555"/>
<circle cx="22" cy="21.3" r=".42" fill="#999"/>
<circle cx="38.6" cy="5" r=".42" fill="#333"/>
<path d="M9.9 28.9l0.7 0.6" stroke="#777" stroke-width=".62"/>
<circle cx="30.6" cy="11.5" r=".42" fill="#333"/>
<circle cx="29.6" cy="3.2" r=".42" fill="#111"/>
<circle cx="7.3" cy="15.9" r=".42" fill="#111"/>
<circle cx="17.8" cy="15.9" r=".42" fill="#777"/>
<circle cx="45.5" cy="7.3" r=".42" fill="#999"/>
<circle cx="35.7" cy="0.8" r=".42" fill="#333"/>
<circle cx="7.7" cy="2.2" r=".42" fill="#555"/>
<circle cx="14.7" cy="15" r=".42" fill="#999"/>
<circle cx="16.6" cy="28.6" r=".42" fill="#111"/>
<circle cx="9.8" cy="10.2" r=".42" fill="#333"/>
<circle cx="17.9" cy="11.8" r=".42" fill="#333"/>
<path d="M46.8 23.4l0.1 0.6" stroke="#777" stroke-width=".62"/>
<circle cx="13.5" cy="4.7" r=".42" fill="#777"/>
<path d="M30.8 1.1l-0.5 0.3" stroke="#777" stroke-width=".62"/>
<circle cx="11.7" cy="23.7" r=".42" fill="#333"/>
<circle cx="39.8" cy="16.5" r=".42" fill="#333"/>
<circle cx="42.8" cy="11.9" r=".42" fill="#999"/>
<circle cx="4.6" cy="11" r=".42" fill="#555"/>
<circle cx="41.1" cy="21.9" r=".42" fill="#999"/>
<circle cx="34.2" cy="12.7" r=".42" fill="#111"/>
<circle cx="35" cy="3.4" r=".42" fill="#333"/>
<path d="M0.6 35.1l-0.9 0.6" stroke="#111" stroke-width=".62"/>
<path d="M6.3 18.5l-0.3 1" stroke="#111" stroke-width=".62"/>
<path d="M27.7 4.9l1 0.4" stroke="#111" stroke-width=".62"/>
<circle cx="44.4" cy="6.6" r=".42" fill="#333"/>
<circle cx="15.7" cy="15.6" r=".42" fill="#555"/>
<path d="M15.3 26.2l-0.7 0.5" stroke="#555" stroke-width=".62"/>
<circle cx="41.1" cy="8.9" r=".42" fill="#777"/>
<circle cx="23.6" cy="5.8" r=".42" fill="#111"/>
<circle cx="25.6" cy="31" r=".42" fill="#777"/>
<circle cx="12.7" cy="24.2" r=".42" fill="#777"/>
<path d="M25.3 36.5l0.6 0.6" stroke="#999" stroke-width=".62"/>
<path d="M25.6 29.1l-0.9 0.4" stroke="#999" stroke-width=".62"/>
<circle cx="30.9" cy="27.3" r=".42" fill="#111"/>
<path d="M17.8 3.7l0.5 0.6" stroke="#777" stroke-width=".62"/>
<circle cx="21.6" cy="24" r=".42" fill="#999"/>
<path d="M45.4 14.6l0.9 0.1" stroke="#777" stroke-width=".62"/>
<circle cx="39.8" cy="19.8" r=".42" fill="#333"/>
<circle cx="38.7" cy="33.9" r=".42" fill="#555"/>
<path d="M12.9 19.7l-0.6 0.8" stroke="#777" stroke-width=".62"/>
<path d="M12.4 11.2l0.8 0.4" stroke="#111" stroke-width=".62"/>
<path d="M13.2 17.2l-0.3 0.4" stroke="#333" stroke-width=".62"/>
<circle cx="1.7" cy="34.1" r=".42" fill="#111"/>
<path d="M37.8 35.7l-0.4 0.4" stroke="#333" stroke-width=".62"/>
<path d="M40.5 17.6l0.6 0.6" stroke="#777" stroke-width=".62"/>
<circle cx="23.9" cy="11" r=".42" fill="#999"/>
<circle cx="43.6" cy="8.2" r=".42" fill="#999"/>
<path d="M29.5 10.3l-0.5 0.2" stroke="#555" stroke-width=".62"/>
<circle cx="23.8" cy="0.7" r=".42" fill="#111"/>
<circle cx="12.4" cy="7.1" r=".42" fill="#333"/>
<path d="M5.7 22.7l-0.7 0.4" stroke="#777" stroke-width=".62"/>
<circle cx="35.4" cy="27.4" r=".42" fill="#111"/>
<circle cx="0.1" cy="22.7" r=".42" fill="#333"/>
<circle cx="30.8" cy="36.5" r=".42" fill="#777"/>
<circle cx="3.7" cy="12.6" r=".42" fill="#111"/>
<circle cx="25.5" cy="13.7" r=".42" fill="#111"/>
<circle cx="25.3" cy="5.1" r=".42" fill="#999"/>
<path d="M27 26.5l-0.4 0.5" stroke="#111" stroke-width=".62"/>
<circle cx="2.1" cy="10.5" r=".42" fill="#777"/>
<circle cx="24.8" cy="22.4" r=".42" fill="#999"/>
<path d="M13 1.7l-0.4 0.5" stroke="#555" stroke-width=".62"/>
<path d="M21.1 18.9l0.6 0.7" stroke="#777" stroke-width=".62"/>
<circle cx="44.5" cy="17.8" r=".42" fill="#555"/>
<path d="M29.2 31.5l0.5 0.6" stroke="#111" stroke-width=".62"/>
<circle cx="25.9" cy="12.3" r=".42" fill="#777"/>
<path d="M40.2 14.2l0.3 1" stroke="#777" stroke-width=".62"/>
<path d="M46.5 4.2l0.8 0" stroke="#555" stroke-width=".62"/>
<path d="M16.7 35.2l0.1 0.6" stroke="#777" stroke-width=".62"/>
<circle cx="8.1" cy="10.2" r=".42" fill="#999"/>
<path d="M24.1 24.8l0.2 0.6" stroke="#555" stroke-width=".62"/>
<circle cx="32.8" cy="14.9" r=".42" fill="#777"/>
<path d="M37.2 15.1l-0.9 0.1" stroke="#111" stroke-width=".62"/>
<path d="M28.2 25.4l1.1 0.2" stroke="#555" stroke-width=".62"/>
<path d="M27.2 28.4l1 0.2" stroke="#111" stroke-width=".62"/>
<path d="M32.5 17.2l0.7 0.5" stroke="#111" stroke-width=".62"/>
<path d="M38.3 8.8l-0.5 0.3" stroke="#333" stroke-width=".62"/>
<circle cx="11.6" cy="31.5" r=".42" fill="#555"/>
<path d="M36.9 9.5l0.4 0.6" stroke="#555" stroke-width=".62"/>
<path d="M44.6 5.2l0.7 0.7" stroke="#333" stroke-width=".62"/>
<circle cx="5.6" cy="6" r=".42" fill="#777"/>
<circle cx="14.1" cy="36.2" r=".42" fill="#111"/>
<path d="M0.1 32.3l0.2 0.7" stroke="#333" stroke-width=".62"/>
<circle cx="34.8" cy="0.1" r=".42" fill="#111"/>
<path d="M18.2 21.6l-0.9 0.1" stroke="#333" stroke-width=".62"/>
<circle cx="1.3" cy="9.9" r=".42" fill="#555"/>
<circle cx="29.3" cy="25.7" r=".42" fill="#333"/>
<circle cx="34.9" cy="14.7" r=".42" fill="#111"/>
<path d="M29.8 7.2l-0.7 0.8" stroke="#777" stroke-width=".62"/>
<path d="M29.1 11.4l-0.5 0" stroke="#333" stroke-width=".62"/>
<circle cx="8.3" cy="24.6" r=".42" fill="#999"/>
<circle cx="4.6" cy="23.5" r=".42" fill="#111"/>
<circle cx="21.6" cy="0.4" r=".42" fill="#999"/>
<circle cx="34.7" cy="36.6" r=".42" fill="#999"/>
<path d="M31.1 12l0.2 0.8" stroke="#555" stroke-width=".62"/>
<circle cx="29.3" cy="29.9" r=".42" fill="#555"/>
<path d="M34.3 11.6l-0.6 0.3" stroke="#111" stroke-width=".62"/>
<circle cx="9.7" cy="33.3" r=".42" fill="#999"/>
<path d="M22.8 17.5l0.8 0.6" stroke="#999" stroke-width=".62"/>
<circle cx="6.8" cy="30.7" r=".42" fill="#111"/>
<circle cx="12.1" cy="23.4" r=".42" fill="#999"/>
<circle cx="36.7" cy="28.1" r=".42" fill="#111"/>
<path d="M13.2 10.5l-0.2 1" stroke="#111" stroke-width=".62"/>
<path d="M31.3 21.9l-0.9 0.6" stroke="#555" stroke-width=".62"/>
<circle cx="30.8" cy="30.5" r=".42" fill="#111"/>
<path d="M22.7 28.2l0.1 0.6" stroke="#111" stroke-width=".62"/>
<circle cx="23.1" cy="9.8" r=".42" fill="#777"/>
<circle cx="19.3" cy="7.8" r=".42" fill="#999"/>
<circle cx="31.5" cy="18" r=".42" fill="#777"/>
<path d="M42.6 7l-0.4 0.7" stroke="#999" stroke-width=".62"/>
<path d="M3.9 27.1l0.2 0.6" stroke="#555" stroke-width=".62"/>
<path d="M6.1 32.5l1 0.5" stroke="#333" stroke-width=".62"/>
<circle cx="29.3" cy="21" r=".42" fill="#333"/>
<path d="M0.3 17l0.4 0.4" stroke="#555" stroke-width=".62"/>
<path d="M33.4 5.8l1 0.3" stroke="#555" stroke-width=".62"/>
<circle cx="27.7" cy="17" r=".42" fill="#111"/>
<circle cx="37" cy="26" r=".42" fill="#111"/>
<path d="M16.3 25.7l-0.9 0.5" stroke="#999" stroke-width=".62"/>
<circle cx="22.5" cy="12.4" r=".42" fill="#999"/>
<path d="M35.8 13.9l-0.2 0.9" stroke="#555" stroke-width=".62"/>
<circle cx="16.6" cy="14.1" r=".42" fill="#777"/>
<circle cx="11.1" cy="0.5" r=".42" fill="#777"/>
<path d="M29.1 12.9l0.2 0.7" stroke="#111" stroke-width=".62"/>
<circle cx="27.5" cy="36" r=".42" fill="#555"/>
<circle cx="1.6" cy="17.5" r=".42" fill="#111"/>
<circle cx="11.3" cy="28.5" r=".42" fill="#111"/>
<path d="M15.6 33.8l-0.7 0.2" stroke="#777" stroke-width=".62"/>
<circle cx="41.3" cy="0.9" r=".42" fill="#999"/>
<circle cx="14.4" cy="26.4" r=".42" fill="#111"/>
<circle cx="8.6" cy="19.7" r=".42" fill="#777"/>
<path d="M39 21.3l-0.7 0.4" stroke="#555" stroke-width=".62"/>
<circle cx="16.3" cy="23.2" r=".42" fill="#999"/>
<circle cx="11.9" cy="36.6" r=".42" fill="#333"/>
<path d="M3 8.3l0.8 0.7" stroke="#111" stroke-width=".62"/>
<path d="M8.8 17l-0.2 1" stroke="#777" stroke-width=".62"/>
<path d="M4.6 31.1l-0.8 0.2" stroke="#777" stroke-width=".62"/>
<circle cx="42.4" cy="30.8" r=".42" fill="#555"/>
<path d="M22.4 2.7l-0.4 0.6" stroke="#111" stroke-width=".62"/>
<path d="M24.4 31.6l0.7 0.4" stroke="#777" stroke-width=".62"/>
<circle cx="22.8" cy="7.8" r=".42" fill="#333"/>
<circle cx="6.4" cy="23.2" r=".42" fill="#555"/>
<path d="M24.8 35.8l-0.2 0.7" stroke="#111" stroke-width=".62"/>
<path d="M18.6 31.3l0.8 0.2" stroke="#333" stroke-width=".62"/>
<path d="M15.2 5.5l0.5 0.1" stroke="#999" stroke-width=".62"/>
<path d="M10.2 34.5l-0.2 1.1" stroke="#999" stroke-width=".62"/>
<circle cx="13.4" cy="28.4" r=".42" fill="#333"/>
<circle cx="14" cy="18" r=".42" fill="#333"/>
<path d="M26.1 1.3l0.6 0.8" stroke="#555" stroke-width=".62"/>
<circle cx="3.8" cy="29.5" r=".42" fill="#777"/>
<path d="M4.1 11.3l0.6 0.9" stroke="#999" stroke-width=".62"/>
<circle cx="16.7" cy="10.8" r=".42" fill="#111"/>
<circle cx="36.9" cy="13.5" r=".42" fill="#777"/>
<path d="M1 15.2l0.6 0" stroke="#555" stroke-width=".62"/>
<path d="M11.6 8.3l-0.5 0.7" stroke="#111" stroke-width=".62"/>
<circle cx="34.1" cy="0.5" r=".42" fill="#777"/>
<path d="M4.3 28.2l-0.5 0.6" stroke="#777" stroke-width=".62"/>
<path d="M24.8 16.9l-1 0.3" stroke="#777" stroke-width=".62"/>
<circle cx="32.8" cy="25.9" r=".42" fill="#777"/>
<circle cx="5.3" cy="24.5" r=".42" fill="#999"/>
<circle cx="1" cy="20.1" r=".42" fill="#555"/>
<circle cx="11.6" cy="20.2" r=".42" fill="#555"/>
<path d="M37.8 27.4l0.1 0.6" stroke="#777" stroke-width=".62"/>
<circle cx="37.8" cy="8.5" r=".42" fill="#555"/>
<circle cx="33.7" cy="15.8" r=".42" fill="#111"/>
<path d="M12.3 34.4l0.6 0.1" stroke="#333" stroke-width=".62"/>
<circle cx="3" cy="36.7" r=".42" fill="#777"/>
<path d="M44.4 12.3l1 0.3" stroke="#111" stroke-width=".62"/>
<path d="M26.1 20.1l-0.1 0.7" stroke="#999" stroke-width=".62"/>
<path d="M28.7 18l0.3 0.5" stroke="#555" stroke-width=".62"/>
<path d="M35.4 0.3l0.5 0.3" stroke="#111" stroke-width=".62"/>
<circle cx="27.3" cy="5.1" r=".42" fill="#555"/>
<circle cx="21" cy="17.5" r=".42" fill="#111"/>
<circle cx="35.2" cy="17.6" r=".42" fill="#111"/>
<circle cx="35.9" cy="20.1" r=".42" fill="#555"/>
<path d="M7.1 9.2l-1 0.4" stroke="#777" stroke-width=".62"/>
<path d="M38.3 31.1l0.5 0.6" stroke="#111" stroke-width=".62"/>
<circle cx="29.2" cy="2.3" r=".42" fill="#999"/>
<path d="M21.1 3.8l-0.5 0.4" stroke="#333" stroke-width=".62"/>
<circle cx="43.2" cy="21.7" r=".42" fill="#999"/>
<circle cx="37.5" cy="10.6" r=".42" fill="#111"/>
<circle cx="38.2" cy="29.8" r=".42" fill="#333"/>
<circle cx="20.3" cy="9.7" r=".42" fill="#111"/>
<circle cx="0.3" cy="12.5" r=".42" fill="#111"/>
<path d="M6 29.9l0.1 0.8" stroke="#111" stroke-width=".62"/>
<path d="M16.9 18.1l-0.6 0.4" stroke="#111" stroke-width=".62"/>
</pattern>
<pattern id="gran" width="47" height="23" patternUnits="userSpaceOnUse">
<path d="M21.8 8.6l-0.5 0.8" stroke="#555" stroke-width=".5"/>
<circle cx="15.9" cy="10.7" r=".36" fill="#333"/>
<path d="M44 16.1l-0.9 0.2" stroke="#999" stroke-width=".5"/>
<path d="M44.7 9.7l0.8 0.3" stroke="#555" stroke-width=".5"/>
<circle cx="23.8" cy="21.2" r=".36" fill="#333"/>
<circle cx="18" cy="17.2" r=".36" fill="#333"/>
<circle cx="9.6" cy="5.2" r=".36" fill="#999"/>
<path d="M36.3 21l-0.7 0.5" stroke="#999" stroke-width=".5"/>
<path d="M9.4 20.4l0.3 0.8" stroke="#999" stroke-width=".5"/>
<circle cx="23.1" cy="0.5" r=".36" fill="#999"/>
<path d="M40 22.2l-0.2 0.9" stroke="#333" stroke-width=".5"/>
<circle cx="42.1" cy="4.7" r=".36" fill="#333"/>
<circle cx="6.3" cy="21.1" r=".36" fill="#333"/>
<circle cx="25.3" cy="4.6" r=".36" fill="#333"/>
<path d="M30 2.1l-0.3 0.8" stroke="#555" stroke-width=".5"/>
<circle cx="45" cy="1.2" r=".36" fill="#555"/>
<path d="M34.6 13.2l-0.5 0.7" stroke="#333" stroke-width=".5"/>
<circle cx="44.7" cy="5.4" r=".36" fill="#333"/>
<circle cx="39.7" cy="12" r=".36" fill="#333"/>
<circle cx="5.2" cy="20.3" r=".36" fill="#777"/>
<circle cx="18.9" cy="22.7" r=".36" fill="#333"/>
<path d="M28.6 0l0.2 0.9" stroke="#333" stroke-width=".5"/>
<path d="M15.3 2l-0.7 0.6" stroke="#777" stroke-width=".5"/>
<circle cx="1.2" cy="18" r=".36" fill="#999"/>
<circle cx="33.3" cy="5.7" r=".36" fill="#333"/>
<circle cx="10.9" cy="22.2" r=".36" fill="#999"/>
<circle cx="44.9" cy="12.9" r=".36" fill="#555"/>
<path d="M8 19.4l-0.9 0.2" stroke="#777" stroke-width=".5"/>
<circle cx="38.1" cy="6" r=".36" fill="#555"/>
<circle cx="28.5" cy="0.3" r=".36" fill="#333"/>
<circle cx="37" cy="6.8" r=".36" fill="#333"/>
<path d="M16.7 3.2l0.9 0.2" stroke="#777" stroke-width=".5"/>
<circle cx="26.1" cy="16" r=".36" fill="#333"/>
<circle cx="6.7" cy="12.9" r=".36" fill="#999"/>
<circle cx="37.7" cy="15.3" r=".36" fill="#777"/>
<circle cx="41.4" cy="11.4" r=".36" fill="#333"/>
<path d="M13 3l-0.7 0.6" stroke="#333" stroke-width=".5"/>
<circle cx="40.4" cy="4.7" r=".36" fill="#999"/>
<circle cx="26.3" cy="8.9" r=".36" fill="#555"/>
<circle cx="27.9" cy="6" r=".36" fill="#333"/>
<circle cx="1.4" cy="22.8" r=".36" fill="#999"/>
<circle cx="24.6" cy="12.4" r=".36" fill="#333"/>
<circle cx="27" cy="22" r=".36" fill="#333"/>
<circle cx="33.9" cy="2.4" r=".36" fill="#999"/>
<circle cx="23" cy="14.6" r=".36" fill="#333"/>
<path d="M1.4 5.6l-0.8 0.5" stroke="#999" stroke-width=".5"/>
<path d="M34.3 14.4l-0.3 0.9" stroke="#555" stroke-width=".5"/>
<circle cx="28.8" cy="15.6" r=".36" fill="#999"/>
<path d="M3.8 0.8l0.9 0.1" stroke="#555" stroke-width=".5"/>
<path d="M29.4 12.6l-0.7 0.6" stroke="#999" stroke-width=".5"/>
<circle cx="15.7" cy="18" r=".36" fill="#333"/>
<circle cx="21.1" cy="3.4" r=".36" fill="#999"/>
<circle cx="39.1" cy="2.4" r=".36" fill="#777"/>
<path d="M21.2 3l0.9 0.1" stroke="#555" stroke-width=".5"/>
<circle cx="3.5" cy="14.8" r=".36" fill="#333"/>
<circle cx="34.8" cy="10.8" r=".36" fill="#555"/>
<circle cx="29.8" cy="5.4" r=".36" fill="#777"/>
<circle cx="32.1" cy="0.4" r=".36" fill="#777"/>
<path d="M1 2.4l0.6 0.6" stroke="#999" stroke-width=".5"/>
<circle cx="40" cy="13.9" r=".36" fill="#555"/>
<circle cx="32" cy="3" r=".36" fill="#333"/>
<circle cx="45.9" cy="18.1" r=".36" fill="#999"/>
<path d="M41.2 21.2l0.2 0.9" stroke="#333" stroke-width=".5"/>
<circle cx="19.6" cy="7.4" r=".36" fill="#777"/>
<path d="M41.9 9.9l0.1 0.9" stroke="#333" stroke-width=".5"/>
<circle cx="28.7" cy="13.1" r=".36" fill="#999"/>
<path d="M15.5 1.4l-0.1 0.9" stroke="#333" stroke-width=".5"/>
<circle cx="8.9" cy="16.4" r=".36" fill="#555"/>
<path d="M4 22.4l-0.1 0.9" stroke="#999" stroke-width=".5"/>
<circle cx="15.8" cy="0.4" r=".36" fill="#999"/>
<circle cx="40.7" cy="7.4" r=".36" fill="#333"/>
<path d="M0.2 21.1l0.9 0" stroke="#555" stroke-width=".5"/>
<circle cx="43.3" cy="1" r=".36" fill="#555"/>
<circle cx="32.6" cy="11.7" r=".36" fill="#999"/>
<circle cx="18.6" cy="20.4" r=".36" fill="#555"/>
<circle cx="16.8" cy="21.8" r=".36" fill="#555"/>
<circle cx="18.1" cy="4.2" r=".36" fill="#555"/>
<path d="M0.4 15.7l-0.1 0.9" stroke="#333" stroke-width=".5"/>
<path d="M35.5 9.8l0.8 0.4" stroke="#333" stroke-width=".5"/>
<path d="M21.2 15.6l0.8 0.4" stroke="#555" stroke-width=".5"/>
<circle cx="31.9" cy="17.1" r=".36" fill="#333"/>
<circle cx="43.7" cy="0.6" r=".36" fill="#555"/>
<path d="M44.7 17.5l0.7 0.6" stroke="#999" stroke-width=".5"/>
<circle cx="25.5" cy="20.8" r=".36" fill="#555"/>
<circle cx="39.4" cy="13.1" r=".36" fill="#333"/>
<circle cx="47" cy="21.5" r=".36" fill="#777"/>
<circle cx="2.9" cy="18.6" r=".36" fill="#999"/>
<circle cx="20.6" cy="16.7" r=".36" fill="#555"/>
<circle cx="43.1" cy="22.2" r=".36" fill="#333"/>
<circle cx="12.2" cy="5.7" r=".36" fill="#999"/>
<circle cx="8.8" cy="12.2" r=".36" fill="#777"/>
<circle cx="45.8" cy="4" r=".36" fill="#333"/>
<path d="M27.6 22.3l0.8 0.4" stroke="#777" stroke-width=".5"/>
<circle cx="14" cy="0.8" r=".36" fill="#999"/>
<circle cx="11.5" cy="10.7" r=".36" fill="#333"/>
<circle cx="39.4" cy="20.3" r=".36" fill="#555"/>
<circle cx="37.4" cy="21.3" r=".36" fill="#999"/>
<circle cx="37.1" cy="21.2" r=".36" fill="#555"/>
<path d="M1.6 23l0.1 0.9" stroke="#555" stroke-width=".5"/>
<circle cx="8.5" cy="19.5" r=".36" fill="#333"/>
<circle cx="23.4" cy="6" r=".36" fill="#777"/>
<circle cx="44.6" cy="8" r=".36" fill="#333"/>
<circle cx="34.7" cy="14.9" r=".36" fill="#999"/>
<path d="M40 4.7l-0.6 0.7" stroke="#333" stroke-width=".5"/>
<path d="M12 6.8l-0.4 0.8" stroke="#333" stroke-width=".5"/>
<circle cx="44" cy="8.5" r=".36" fill="#777"/>
<path d="M43 12.7l-0.9 0.1" stroke="#333" stroke-width=".5"/>
<circle cx="4.2" cy="4.8" r=".36" fill="#777"/>
<path d="M33.4 8.2l0.3 0.9" stroke="#333" stroke-width=".5"/>
<circle cx="20" cy="4.1" r=".36" fill="#555"/>
<circle cx="23.9" cy="19.5" r=".36" fill="#777"/>
<path d="M9 14.7l-0.9 0.1" stroke="#999" stroke-width=".5"/>
<circle cx="14.7" cy="10.5" r=".36" fill="#777"/>
<path d="M46 9.7l0.4 0.8" stroke="#333" stroke-width=".5"/>
<path d="M34.2 15.1l0.1 0.9" stroke="#999" stroke-width=".5"/>
<circle cx="3.1" cy="21.9" r=".36" fill="#999"/>
<circle cx="34.3" cy="1.5" r=".36" fill="#333"/>
<circle cx="30.3" cy="9.7" r=".36" fill="#333"/>
<circle cx="3.7" cy="6" r=".36" fill="#555"/>
<circle cx="45" cy="22.5" r=".36" fill="#555"/>
<circle cx="11.4" cy="16.3" r=".36" fill="#333"/>
<circle cx="0.3" cy="10.1" r=".36" fill="#333"/>
<circle cx="12.9" cy="22.3" r=".36" fill="#555"/>
<path d="M3.5 12.1l-0.6 0.6" stroke="#777" stroke-width=".5"/>
<path d="M41.8 4.6l-0.6 0.7" stroke="#999" stroke-width=".5"/>
<circle cx="38" cy="11.6" r=".36" fill="#777"/>
<circle cx="23.8" cy="19.8" r=".36" fill="#333"/>
<path d="M29.8 11l-0.6 0.6" stroke="#333" stroke-width=".5"/>
<path d="M39.5 7.8l-0.9 0.1" stroke="#999" stroke-width=".5"/>
<circle cx="28.7" cy="22.8" r=".36" fill="#999"/>
<circle cx="25.2" cy="21.6" r=".36" fill="#333"/>
<circle cx="20.6" cy="13.4" r=".36" fill="#777"/>
<circle cx="8" cy="0.2" r=".36" fill="#777"/>
<circle cx="20.8" cy="11.9" r=".36" fill="#777"/>
<circle cx="8.3" cy="16" r=".36" fill="#777"/>
<circle cx="15" cy="11" r=".36" fill="#777"/>
<circle cx="13.3" cy="2.2" r=".36" fill="#777"/>
<path d="M2.8 9.1l0.2 0.9" stroke="#999" stroke-width=".5"/>
<circle cx="21.2" cy="18.7" r=".36" fill="#999"/>
<circle cx="46.4" cy="3.8" r=".36" fill="#333"/>
<path d="M3.7 17.8l-0.8 0.3" stroke="#777" stroke-width=".5"/>
<path d="M36.5 10.3l0.9 0.2" stroke="#555" stroke-width=".5"/>
<path d="M42.7 2.2l0.4 0.8" stroke="#555" stroke-width=".5"/>
<circle cx="10.5" cy="16.3" r=".36" fill="#555"/>
<circle cx="25.3" cy="9.4" r=".36" fill="#777"/>
<circle cx="19" cy="2" r=".36" fill="#777"/>
<circle cx="34.2" cy="4.2" r=".36" fill="#333"/>
<circle cx="17.9" cy="10.5" r=".36" fill="#333"/>
<path d="M38 8.9l0.4 0.8" stroke="#777" stroke-width=".5"/>
<path d="M38 8.2l0.9 0" stroke="#333" stroke-width=".5"/>
<circle cx="26.5" cy="21.8" r=".36" fill="#555"/>
<circle cx="25.6" cy="15" r=".36" fill="#333"/>
<circle cx="12.1" cy="13.4" r=".36" fill="#555"/>
<circle cx="13.8" cy="4.8" r=".36" fill="#555"/>
<circle cx="39.5" cy="0.6" r=".36" fill="#555"/>
<circle cx="0.8" cy="15.9" r=".36" fill="#333"/>
<circle cx="18.9" cy="9.6" r=".36" fill="#777"/>
<path d="M22.5 9.6l-0 0.9" stroke="#777" stroke-width=".5"/>
<circle cx="6.7" cy="12.2" r=".36" fill="#333"/>
<circle cx="41.9" cy="13" r=".36" fill="#777"/>
<circle cx="0.1" cy="18" r=".36" fill="#555"/>
<path d="M39.7 21.7l-0.5 0.8" stroke="#777" stroke-width=".5"/>
<path d="M31.3 17.1l-0.7 0.6" stroke="#333" stroke-width=".5"/>
<circle cx="33.3" cy="16.7" r=".36" fill="#333"/>
<path d="M33.5 1.2l-0.8 0.4" stroke="#555" stroke-width=".5"/>
<circle cx="14.3" cy="1.7" r=".36" fill="#555"/>
<path d="M24.1 2.1l0.9 0.1" stroke="#333" stroke-width=".5"/>
<circle cx="39" cy="4.3" r=".36" fill="#777"/>
<circle cx="4.6" cy="20.8" r=".36" fill="#777"/>
<circle cx="12.1" cy="1.3" r=".36" fill="#777"/>
<circle cx="40.1" cy="17.6" r=".36" fill="#333"/>
<path d="M43.5 13l0.9 0.1" stroke="#555" stroke-width=".5"/>
<path d="M0.2 14.8l-0.9 0" stroke="#333" stroke-width=".5"/>
<circle cx="30.8" cy="13" r=".36" fill="#999"/>
<circle cx="14.9" cy="16.8" r=".36" fill="#999"/>
<circle cx="10.5" cy="10.8" r=".36" fill="#777"/>
<path d="M22.1 4.8l0.8 0.3" stroke="#999" stroke-width=".5"/>
<circle cx="17.6" cy="4.3" r=".36" fill="#999"/>
<path d="M31.5 3.1l0.6 0.7" stroke="#777" stroke-width=".5"/>
<circle cx="39.1" cy="2.7" r=".36" fill="#777"/>
<path d="M10 18.1l-0.4 0.8" stroke="#999" stroke-width=".5"/>
<circle cx="39" cy="11.8" r=".36" fill="#777"/>
<circle cx="9.3" cy="20.2" r=".36" fill="#333"/>
<circle cx="41.9" cy="21.3" r=".36" fill="#999"/>
<circle cx="19.5" cy="8.3" r=".36" fill="#333"/>
<path d="M8.6 16.8l-0.9 0.1" stroke="#999" stroke-width=".5"/>
<path d="M36.5 10.5l-0.9 0.2" stroke="#333" stroke-width=".5"/>
<circle cx="18.7" cy="4.8" r=".36" fill="#333"/>
<circle cx="30.7" cy="2.6" r=".36" fill="#333"/>
<circle cx="13.8" cy="5.7" r=".36" fill="#999"/>
<circle cx="19.4" cy="1.1" r=".36" fill="#777"/>
<circle cx="16.8" cy="12.8" r=".36" fill="#333"/>
<circle cx="44.6" cy="16.5" r=".36" fill="#777"/>
<path d="M22.8 7.2l0.3 0.8" stroke="#555" stroke-width=".5"/>
<circle cx="16.6" cy="9" r=".36" fill="#333"/>
<circle cx="22.7" cy="15.6" r=".36" fill="#555"/>
<circle cx="17.3" cy="8.9" r=".36" fill="#777"/>
<circle cx="5.4" cy="6.7" r=".36" fill="#999"/>
<circle cx="14.5" cy="13.1" r=".36" fill="#555"/>
<circle cx="23.8" cy="7.4" r=".36" fill="#777"/>
<circle cx="8.5" cy="1.4" r=".36" fill="#333"/>
<circle cx="15.9" cy="4.6" r=".36" fill="#333"/>
<circle cx="10.4" cy="3.2" r=".36" fill="#777"/>
<circle cx="26.9" cy="13.7" r=".36" fill="#777"/>
<circle cx="7.9" cy="2.8" r=".36" fill="#555"/>
<circle cx="0.9" cy="21.8" r=".36" fill="#555"/>
<path d="M35.7 15.2l0.9 0.2" stroke="#999" stroke-width=".5"/>
<circle cx="40.6" cy="8.8" r=".36" fill="#777"/>
<path d="M40.1 18.4l0.4 0.8" stroke="#555" stroke-width=".5"/>
<circle cx="35.5" cy="1.1" r=".36" fill="#777"/>
<circle cx="30.7" cy="14.7" r=".36" fill="#333"/>
<circle cx="4.7" cy="7.2" r=".36" fill="#333"/>
<circle cx="46.8" cy="17.1" r=".36" fill="#777"/>
<path d="M45.9 19.6l-0 0.9" stroke="#999" stroke-width=".5"/>
<circle cx="26.4" cy="15.5" r=".36" fill="#333"/>
<circle cx="2.4" cy="12.3" r=".36" fill="#333"/>
<circle cx="5" cy="16.3" r=".36" fill="#333"/>
<circle cx="5.5" cy="21.5" r=".36" fill="#555"/>
<circle cx="25.8" cy="9.1" r=".36" fill="#555"/>
<path d="M12.5 22.8l0.8 0.5" stroke="#333" stroke-width=".5"/>
<circle cx="9" cy="2" r=".36" fill="#333"/>
<path d="M41.9 11.4l0.6 0.7" stroke="#999" stroke-width=".5"/>
<circle cx="1.2" cy="0.3" r=".36" fill="#777"/>
<circle cx="33.6" cy="5.7" r=".36" fill="#333"/>
<circle cx="0.8" cy="13.9" r=".36" fill="#999"/>
<path d="M5.7 16.8l0.6 0.6" stroke="#555" stroke-width=".5"/>
<circle cx="37.9" cy="22.5" r=".36" fill="#333"/>
<path d="M3.5 10.8l0.4 0.8" stroke="#333" stroke-width=".5"/>
<circle cx="14.2" cy="16.2" r=".36" fill="#999"/>
<circle cx="41.1" cy="21.9" r=".36" fill="#333"/>
<circle cx="5" cy="15.7" r=".36" fill="#555"/>
<circle cx="32.1" cy="3" r=".36" fill="#555"/>
<circle cx="24.1" cy="13.4" r=".36" fill="#555"/>
<circle cx="3.6" cy="11.2" r=".36" fill="#555"/>
<circle cx="4.6" cy="18.4" r=".36" fill="#333"/>
<circle cx="28.6" cy="5.6" r=".36" fill="#555"/>
<circle cx="4.8" cy="2.1" r=".36" fill="#555"/>
<circle cx="1.7" cy="17.8" r=".36" fill="#777"/>
<path d="M29.4 3.4l-0.5 0.7" stroke="#333" stroke-width=".5"/>
<circle cx="31.8" cy="10" r=".36" fill="#777"/>
<circle cx="32" cy="10.9" r=".36" fill="#777"/>
<circle cx="36.5" cy="12.8" r=".36" fill="#555"/>
<path d="M23.5 10.7l-0.1 0.9" stroke="#555" stroke-width=".5"/>
<circle cx="44.4" cy="0.9" r=".36" fill="#555"/>
<circle cx="7.2" cy="20.4" r=".36" fill="#999"/>
<circle cx="6.9" cy="6.2" r=".36" fill="#333"/>
<path d="M20 16.5l-0.2 0.9" stroke="#999" stroke-width=".5"/>
<path d="M30.6 4.7l-0 0.9" stroke="#333" stroke-width=".5"/>
<circle cx="40.2" cy="16.5" r=".36" fill="#555"/>
<circle cx="21.3" cy="0.8" r=".36" fill="#555"/>
<path d="M43 19.3l0.3 0.9" stroke="#777" stroke-width=".5"/>
<circle cx="14.6" cy="15.6" r=".36" fill="#777"/>
<path d="M4.3 20.9l-0.9 0.3" stroke="#999" stroke-width=".5"/>
<circle cx="8.9" cy="7.4" r=".36" fill="#333"/>
<circle cx="21.1" cy="10" r=".36" fill="#777"/>
<circle cx="40.5" cy="12.6" r=".36" fill="#777"/>
<circle cx="19.1" cy="17.8" r=".36" fill="#555"/>
<circle cx="31.7" cy="6.2" r=".36" fill="#999"/>
<circle cx="36.9" cy="17.2" r=".36" fill="#555"/>
<circle cx="12.9" cy="0.8" r=".36" fill="#555"/>
<circle cx="15.8" cy="8.1" r=".36" fill="#777"/>
<circle cx="7.1" cy="15.1" r=".36" fill="#333"/>
<circle cx="39.7" cy="10" r=".36" fill="#999"/>
<circle cx="11" cy="15.8" r=".36" fill="#999"/>
<circle cx="21.7" cy="5.1" r=".36" fill="#555"/>
<circle cx="28" cy="19.7" r=".36" fill="#999"/>
<circle cx="23.5" cy="9.2" r=".36" fill="#999"/>
<circle cx="31.7" cy="21.6" r=".36" fill="#333"/>
<path d="M13.6 11.8l0 0.9" stroke="#555" stroke-width=".5"/>
<path d="M7.8 4.5l0.5 0.8" stroke="#777" stroke-width=".5"/>
<circle cx="5.6" cy="13.9" r=".36" fill="#777"/>
<circle cx="4.9" cy="20.9" r=".36" fill="#555"/>
<circle cx="4.9" cy="21.2" r=".36" fill="#999"/>
<circle cx="20.3" cy="13.1" r=".36" fill="#555"/>
<path d="M13 0.2l0.6 0.7" stroke="#999" stroke-width=".5"/>
<path d="M21.7 8.6l0.9 0.3" stroke="#555" stroke-width=".5"/>
<circle cx="46.9" cy="12.1" r=".36" fill="#555"/>
<circle cx="44.7" cy="16" r=".36" fill="#777"/>
<circle cx="47" cy="12.6" r=".36" fill="#777"/>
<path d="M3 21.5l-0.8 0.4" stroke="#555" stroke-width=".5"/>
<circle cx="28.7" cy="17.3" r=".36" fill="#333"/>
<circle cx="26.7" cy="0.7" r=".36" fill="#555"/>
<circle cx="31.6" cy="1.5" r=".36" fill="#999"/>
<circle cx="23.9" cy="6" r=".36" fill="#333"/>
<circle cx="37.2" cy="15.4" r=".36" fill="#999"/>
<circle cx="11.3" cy="17.2" r=".36" fill="#777"/>
<circle cx="38.2" cy="15.2" r=".36" fill="#555"/>
<circle cx="40.3" cy="11.6" r=".36" fill="#999"/>
<path d="M2.5 19.9l0.3 0.8" stroke="#555" stroke-width=".5"/>
<circle cx="33.5" cy="10.9" r=".36" fill="#333"/>
<path d="M28.3 8.8l-0 0.9" stroke="#555" stroke-width=".5"/>
<circle cx="34.3" cy="0.8" r=".36" fill="#333"/>
<circle cx="22.2" cy="14.5" r=".36" fill="#333"/>
<path d="M42.5 22.7l-0.2 0.9" stroke="#777" stroke-width=".5"/>
<circle cx="6.1" cy="12.5" r=".36" fill="#333"/>
<path d="M46.1 8.6l-0.3 0.8" stroke="#999" stroke-width=".5"/>
<path d="M46.7 15.5l-0.8 0.5" stroke="#777" stroke-width=".5"/>
<circle cx="42" cy="14.9" r=".36" fill="#333"/>
<path d="M26.2 17.1l0.9 0.1" stroke="#777" stroke-width=".5"/>
<circle cx="21.2" cy="5.5" r=".36" fill="#555"/>
<circle cx="46.8" cy="14.5" r=".36" fill="#999"/>
<path d="M45.2 9.2l0.1 0.9" stroke="#333" stroke-width=".5"/>
<path d="M41.8 19.2l-0.9 0" stroke="#555" stroke-width=".5"/>
<path d="M16.9 15.3l0.9 0.2" stroke="#333" stroke-width=".5"/>
<circle cx="39.4" cy="12.3" r=".36" fill="#999"/>
<path d="M8.1 20.6l0.8 0.3" stroke="#333" stroke-width=".5"/>
<circle cx="2.6" cy="2" r=".36" fill="#777"/>
<circle cx="37.7" cy="15.4" r=".36" fill="#999"/>
<circle cx="36.7" cy="12.6" r=".36" fill="#555"/>
<circle cx="18.9" cy="6.3" r=".36" fill="#555"/>
<circle cx="46" cy="18.3" r=".36" fill="#999"/>
<path d="M0.7 2.3l-0.7 0.6" stroke="#777" stroke-width=".5"/>
<circle cx="37" cy="20.2" r=".36" fill="#777"/>
<circle cx="32.8" cy="19.2" r=".36" fill="#555"/>
<path d="M6.6 7.8l-0.7 0.6" stroke="#999" stroke-width=".5"/>
<circle cx="39.1" cy="20.8" r=".36" fill="#333"/>
<circle cx="22.1" cy="10.2" r=".36" fill="#999"/>
<circle cx="10.5" cy="17.3" r=".36" fill="#333"/>
<circle cx="18.7" cy="17.5" r=".36" fill="#777"/>
<path d="M3.8 12.6l-0.3 0.8" stroke="#777" stroke-width=".5"/>
<circle cx="12.7" cy="0.3" r=".36" fill="#333"/>
<circle cx="4.2" cy="14.4" r=".36" fill="#555"/>
<circle cx="36.9" cy="11.8" r=".36" fill="#333"/>
<circle cx="11.2" cy="20.6" r=".36" fill="#333"/>
<circle cx="7.5" cy="9.2" r=".36" fill="#555"/>
<circle cx="46.3" cy="5.4" r=".36" fill="#777"/>
<path d="M36.9 22l-0.7 0.6" stroke="#333" stroke-width=".5"/>
<circle cx="13.7" cy="13.7" r=".36" fill="#555"/>
<path d="M36.7 15.3l-0.5 0.7" stroke="#999" stroke-width=".5"/>
<circle cx="20.7" cy="12.5" r=".36" fill="#555"/>
<circle cx="9.3" cy="19.9" r=".36" fill="#777"/>
<circle cx="1.7" cy="12.7" r=".36" fill="#777"/>
<circle cx="30.5" cy="3.5" r=".36" fill="#333"/>
<circle cx="44.4" cy="12.8" r=".36" fill="#333"/>
<path d="M10 2.3l0.4 0.8" stroke="#777" stroke-width=".5"/>
<circle cx="4.9" cy="21.7" r=".36" fill="#333"/>
<circle cx="17.1" cy="2.5" r=".36" fill="#777"/>
<circle cx="40.5" cy="19.9" r=".36" fill="#777"/>
<path d="M30.4 21.9l-0.6 0.7" stroke="#999" stroke-width=".5"/>
<circle cx="41.7" cy="0.7" r=".36" fill="#777"/>
<circle cx="22.3" cy="17.4" r=".36" fill="#777"/>
<circle cx="16" cy="15.3" r=".36" fill="#999"/>
<path d="M10.1 7.6l0 0.9" stroke="#777" stroke-width=".5"/>
<circle cx="17.1" cy="4.1" r=".36" fill="#777"/>
<path d="M3.1 9.3l-0.7 0.5" stroke="#777" stroke-width=".5"/>
<circle cx="22.2" cy="11.6" r=".36" fill="#333"/>
<circle cx="42.3" cy="18.2" r=".36" fill="#333"/>
<path d="M7.4 21.9l-0.4 0.8" stroke="#333" stroke-width=".5"/>
<circle cx="25.9" cy="18" r=".36" fill="#777"/>
<path d="M8.8 3.8l-0.4 0.8" stroke="#777" stroke-width=".5"/>
<path d="M21.9 17.7l-0 0.9" stroke="#555" stroke-width=".5"/>
<circle cx="45" cy="16.3" r=".36" fill="#555"/>
<path d="M7.5 13.2l0.4 0.8" stroke="#999" stroke-width=".5"/>
<circle cx="32.3" cy="6.4" r=".36" fill="#333"/>
<path d="M41.6 15.5l0.8 0.4" stroke="#999" stroke-width=".5"/>
<circle cx="4.5" cy="14.5" r=".36" fill="#777"/>
<circle cx="40.1" cy="3.1" r=".36" fill="#555"/>
<circle cx="33.7" cy="11.1" r=".36" fill="#999"/>
<circle cx="13.2" cy="8.4" r=".36" fill="#555"/>
<circle cx="18.7" cy="8.9" r=".36" fill="#777"/>
<circle cx="40.2" cy="8.4" r=".36" fill="#777"/>
<circle cx="13.7" cy="6.9" r=".36" fill="#555"/>
<path d="M38.5 20.3l-0.4 0.8" stroke="#555" stroke-width=".5"/>
<circle cx="28.3" cy="10.5" r=".36" fill="#333"/>
<circle cx="3.3" cy="18.2" r=".36" fill="#333"/>
<circle cx="10.4" cy="4" r=".36" fill="#333"/>
<circle cx="14.2" cy="8.2" r=".36" fill="#333"/>
<circle cx="2.7" cy="10.1" r=".36" fill="#999"/>
<circle cx="28.4" cy="10.7" r=".36" fill="#555"/>
<circle cx="32.9" cy="11.2" r=".36" fill="#999"/>
<circle cx="28.6" cy="22.3" r=".36" fill="#555"/>
<circle cx="39.6" cy="22.9" r=".36" fill="#999"/>
<path d="M22.6 13.5l0.7 0.6" stroke="#333" stroke-width=".5"/>
<circle cx="43.6" cy="21.8" r=".36" fill="#555"/>
<circle cx="39.9" cy="19.7" r=".36" fill="#999"/>
<path d="M21.7 14.2l0.5 0.7" stroke="#555" stroke-width=".5"/>
<circle cx="8.9" cy="13.8" r=".36" fill="#333"/>
<circle cx="13.5" cy="5.3" r=".36" fill="#999"/>
<path d="M40.3 12.1l0.8 0.4" stroke="#999" stroke-width=".5"/>
<circle cx="15.4" cy="4.8" r=".36" fill="#777"/>
<path d="M1 8.1l0.5 0.7" stroke="#777" stroke-width=".5"/>
<circle cx="43.1" cy="6.4" r=".36" fill="#333"/>
<path d="M18.3 3l-0.8 0.3" stroke="#555" stroke-width=".5"/>
<path d="M45.6 15.2l0.9 0.3" stroke="#777" stroke-width=".5"/>
<circle cx="19.8" cy="8.7" r=".36" fill="#777"/>
<circle cx="21.8" cy="16.4" r=".36" fill="#555"/>
<circle cx="14.9" cy="12.2" r=".36" fill="#555"/>
<circle cx="33.3" cy="22.4" r=".36" fill="#555"/>
<circle cx="10.9" cy="8.1" r=".36" fill="#999"/>
<circle cx="16.2" cy="15.5" r=".36" fill="#555"/>
<circle cx="16.5" cy="20.8" r=".36" fill="#333"/>
<circle cx="23.7" cy="16" r=".36" fill="#999"/>
<circle cx="36" cy="21.4" r=".36" fill="#999"/>
<circle cx="15.2" cy="1.7" r=".36" fill="#333"/>
<circle cx="8.9" cy="6" r=".36" fill="#333"/>
<circle cx="29.2" cy="19.3" r=".36" fill="#333"/>
<circle cx="23.9" cy="14.5" r=".36" fill="#333"/>
<circle cx="35.3" cy="19.4" r=".36" fill="#555"/>
<circle cx="5.9" cy="18.8" r=".36" fill="#777"/>
<circle cx="36.8" cy="15.7" r=".36" fill="#999"/>
</pattern>
<pattern id="hR" width="5.6" height="5.6" patternUnits="userSpaceOnUse" patternTransform="rotate(45)"><path d="M0 0.5H5.6" stroke="#111" stroke-width="0.58"/></pattern>
<pattern id="hL" width="5.6" height="5.6" patternUnits="userSpaceOnUse" patternTransform="rotate(-45)"><path d="M0 0.5H5.6" stroke="#111" stroke-width="0.58"/></pattern>
</defs>
<rect x="0" y="0" width="766" height="643" fill="#fff"/>
<g id="bovenaanzicht">
<text transform="translate(348.7 10.1) scale(0.7 1)" x="-39.64" y="0" font-size="8.4" fill="#000" textLength="79.29" lengthAdjust="spacing" stroke="#000" stroke-width="0.25">BOVENAANZICHT</text>
<text transform="translate(348.7 20.3) scale(0.72 1)" x="-28.96" y="0" font-size="8.4" fill="#000" textLength="57.92" lengthAdjust="spacing" stroke="#000" stroke-width="0.25">Schaal 1:200</text>
<path d="M16.5 26C17 38.33 18.58 77.5 19.5 100C20.42 122.5 21.58 141 22 161C22.42 181 22.25 193.17 22 220C21.75 246.83 20.83 297.42 20.5 322C20.17 346.58 20.08 359.92 20 367.5" fill="none" stroke="#a6a6a6" stroke-width="1.5"/>
<path d="M74 26C74.5 38.33 76.22 77.5 77 100C77.78 122.5 78.78 136 78.7 161C78.62 186 77.5 223.17 76.5 250C75.5 276.83 73.75 302.42 72.7 322C71.65 341.58 70.62 359.92 70.2 367.5" fill="none" stroke="#a6a6a6" stroke-width="1.5"/>
<path d="M85.5 26C86 38.33 87.75 77.5 88.5 100C89.25 122.5 89.92 136 90 161C90.08 186 89.47 223.17 89 250C88.53 276.83 87.92 302.42 87.2 322C86.48 341.58 85.12 359.92 84.7 367.5" fill="none" stroke="#a6a6a6" stroke-width="1.5"/>
<path d="M97.5 26C97.95 38.33 99.48 77.5 100.2 100C100.92 122.5 101.75 136 101.8 161C101.85 186 101.1 223.17 100.5 250C99.9 276.83 98.83 302.42 98.2 322C97.57 341.58 96.95 359.92 96.7 367.5" fill="none" stroke="#a6a6a6" stroke-width="1.5"/>
<path d="M117.8 26C118.3 38.33 119.97 77.5 120.8 100C121.63 122.5 122.77 136 122.8 161C122.83 186 121.72 223.17 121 250C120.28 276.83 119.2 302.42 118.5 322C117.8 341.58 117.08 359.92 116.8 367.5" fill="none" stroke="#a6a6a6" stroke-width="1.5"/>
<path d="M137.6 26C137.83 38.33 138.67 77.5 139 100C139.33 122.5 139.6 136 139.6 161C139.6 186 139.5 223.17 139 250C138.5 276.83 137.72 302.42 136.6 322C135.48 341.58 133.02 359.92 132.3 367.5" fill="none" stroke="#a6a6a6" stroke-width="1.5"/>
<path d="M195.5 26C195.17 41.67 194.17 92.67 193.5 120C192.83 147.33 192.33 171.17 191.5 190C190.67 208.83 189.75 214.5 188.5 233C187.25 251.5 185.63 278.58 184 301C182.37 323.42 179.58 356.42 178.7 367.5" fill="none" stroke="#a6a6a6" stroke-width="1.5"/>
<path d="M308.4 26L330.6 107.8L372.6 238.9L385 260L413.4 310.2L448.6 367.5" fill="none" stroke="#a8a8a8" stroke-width="1.35" stroke-linejoin="round"/>
<path d="M319.3 26L349.4 127L369.4 190L390 250L395 260L409.3 289.3L457.8 367.5" fill="none" stroke="#a8a8a8" stroke-width="1.35" stroke-linejoin="round"/>
<path d="M335.2 26L366 127L392.6 200L406.4 240.1L416.8 260L420 267.5L482 367.5" fill="none" stroke="#a8a8a8" stroke-width="1.35" stroke-linejoin="round"/>
<path d="M343.5 26L375.3 127L398.9 202.5L413.9 240.1L427.7 260L495.4 367.5" fill="none" stroke="#a8a8a8" stroke-width="1.35" stroke-linejoin="round"/>
<path d="M469.5 347L478.7 342" fill="none" stroke="#a8a8a8" stroke-width="1.35"/>
<path d="M438.5 367L452 358.7" fill="none" stroke="#a8a8a8" stroke-width="1.35"/>
<path d="M443.8 359.5L447.5 365.5" fill="none" stroke="#a8a8a8" stroke-width="1.35"/>
<path d="M168.7 235.9h.01M169.8 239h.01M161.9 236.8h.01M158.9 242.6h.01M168.7 254.8h.01M165.9 243.9h.01M166 247.4h.01M169.8 257.9h.01M168.6 245.5h.01M161.9 255.7h.01M165.9 262.8h.01M168.6 264.4h.01M187.6 217h.01M188.7 220.1h.01M177.8 223.7h.01M187.6 235.9h.01M184.8 225h.01M184.9 228.5h.01M188.7 239h.01M187.5 226.6h.01M180.8 236.8h.01M173 231.6h.01M177.8 242.6h.01M187.6 254.8h.01M184.8 243.9h.01M184.9 247.4h.01M188.7 257.9h.01M187.5 245.5h.01M180.8 255.7h.01M173 250.5h.01M177.8 261.5h.01M187.6 273.7h.01M184.8 262.8h.01M184.9 266.3h.01M188.7 276.8h.01M187.5 264.4h.01M180.8 274.6h.01M173 269.4h.01M177.8 280.4h.01M184.8 281.7h.01M184.9 285.2h.01M187.5 283.3h.01M180.8 293.5h.01M207.6 201.2h.01M206.5 217h.01M203.7 206.1h.01M203.8 209.6h.01M207.6 220.1h.01M206.4 207.7h.01M199.7 217.9h.01M191.9 212.7h.01M196.7 223.7h.01M206.5 235.9h.01M203.7 225h.01M203.8 228.5h.01M207.6 239h.01M206.4 226.6h.01M199.7 236.8h.01M191.9 231.6h.01M196.7 242.6h.01M206.5 254.8h.01M203.7 243.9h.01M203.8 247.4h.01M207.6 257.9h.01M206.4 245.5h.01M199.7 255.7h.01M191.9 250.5h.01M196.7 261.5h.01M206.5 273.7h.01M203.7 262.8h.01M203.8 266.3h.01M207.6 276.8h.01M206.4 264.4h.01M199.7 274.6h.01M191.9 269.4h.01M196.7 280.4h.01M203.7 281.7h.01M206.4 283.3h.01M191.9 288.3h.01M225.4 198.1h.01M222.7 190.7h.01M226.5 201.2h.01M225.3 188.8h.01M218.6 199h.01M215.6 204.8h.01M225.4 217h.01M222.6 206.1h.01M222.7 209.6h.01M226.5 220.1h.01M225.3 207.7h.01M218.6 217.9h.01M210.8 212.7h.01M215.6 223.7h.01M225.4 235.9h.01M222.6 225h.01M222.7 228.5h.01M226.5 239h.01M225.3 226.6h.01M218.6 236.8h.01M210.8 231.6h.01M215.6 242.6h.01M225.4 254.8h.01M222.6 243.9h.01M222.7 247.4h.01M226.5 257.9h.01M225.3 245.5h.01M218.6 255.7h.01M210.8 250.5h.01M215.6 261.5h.01M225.4 273.7h.01M222.6 262.8h.01M222.7 266.3h.01M225.3 264.4h.01M218.6 274.6h.01M210.8 269.4h.01M244.3 179.2h.01M245.4 182.3h.01M234.5 185.9h.01M244.3 198.1h.01M241.5 187.2h.01M241.6 190.7h.01M245.4 201.2h.01M244.2 188.8h.01M237.5 199h.01M229.7 193.8h.01M234.5 204.8h.01M244.3 217h.01M241.5 206.1h.01M241.6 209.6h.01M245.4 220.1h.01M244.2 207.7h.01M237.5 217.9h.01M229.7 212.7h.01M234.5 223.7h.01M244.3 235.9h.01M241.5 225h.01M241.6 228.5h.01M245.4 239h.01M244.2 226.6h.01M237.5 236.8h.01M229.7 231.6h.01M234.5 242.6h.01M244.3 254.8h.01M241.5 243.9h.01M241.6 247.4h.01M245.4 257.9h.01M244.2 245.5h.01M237.5 255.7h.01M229.7 250.5h.01M234.5 261.5h.01M241.5 262.8h.01M241.6 266.3h.01M244.2 264.4h.01M229.7 269.4h.01M263.2 179.2h.01M264.3 182.3h.01M256.4 180.1h.01M253.4 185.9h.01M263.2 198.1h.01M260.4 187.2h.01M260.5 190.7h.01M264.3 201.2h.01M263.1 188.8h.01M256.4 199h.01M248.6 193.8h.01M253.4 204.8h.01M263.2 217h.01M260.4 206.1h.01M260.5 209.6h.01M264.3 220.1h.01M263.1 207.7h.01M256.4 217.9h.01M248.6 212.7h.01M253.4 223.7h.01M263.2 235.9h.01M260.4 225h.01M260.5 228.5h.01M264.3 239h.01M263.1 226.6h.01M256.4 236.8h.01M248.6 231.6h.01M253.4 242.6h.01M263.2 254.8h.01M260.4 243.9h.01M260.5 247.4h.01M263.1 245.5h.01M256.4 255.7h.01M248.6 250.5h.01M282.1 179.2h.01M283.2 182.3h.01M275.3 180.1h.01M272.3 185.9h.01M282.1 198.1h.01M279.3 187.2h.01M279.4 190.7h.01M283.2 201.2h.01M282 188.8h.01M275.3 199h.01M267.5 193.8h.01M272.3 204.8h.01M282.1 217h.01M279.3 206.1h.01M279.4 209.6h.01M283.2 220.1h.01M282 207.7h.01M275.3 217.9h.01M267.5 212.7h.01M272.3 223.7h.01M282.1 235.9h.01M279.3 225h.01M279.4 228.5h.01M283.2 239h.01M282 226.6h.01M275.3 236.8h.01M267.5 231.6h.01M272.3 242.6h.01M279.3 243.9h.01M267.5 250.5h.01M294.2 180.1h.01M286.4 174.9h.01M291.2 185.9h.01M301 198.1h.01M298.2 187.2h.01M298.3 190.7h.01M302.1 201.2h.01M294.2 199h.01M286.4 193.8h.01M291.2 204.8h.01M301 217h.01M298.2 206.1h.01M298.3 209.6h.01M302.1 220.1h.01M300.9 207.7h.01M294.2 217.9h.01M286.4 212.7h.01M291.2 223.7h.01M298.2 225h.01M298.3 228.5h.01M300.9 226.6h.01M294.2 236.8h.01M286.4 231.6h.01M305.3 212.7h.01M310.1 223.7h.01" fill="none" stroke="#111" stroke-width="1" stroke-linecap="round"/>
<path d="M155.5 238.3h.01M168.6 231.6h.01M166.3 234.1h.01M162.9 252.4h.01M168.6 250.5h.01M162.7 247.8h.01M166.3 253h.01M158.9 246.6h.01M165 250.3h.01M168.6 269.4h.01M174.4 238.3h.01M176.2 232.6h.01M181.8 233.5h.01M187.5 231.6h.01M181.6 228.9h.01M171.1 234h.01M185.2 234.1h.01M178.6 234.6h.01M177.8 227.7h.01M183.9 231.4h.01M174.4 257.2h.01M176.2 251.5h.01M181.8 252.4h.01M187.5 250.5h.01M181.6 247.8h.01M171.1 252.9h.01M185.2 253h.01M178.6 253.5h.01M177.8 246.6h.01M183.9 250.3h.01M174.4 276.1h.01M176.2 270.4h.01M181.8 271.3h.01M187.5 269.4h.01M181.6 266.7h.01M171.1 271.8h.01M185.2 271.9h.01M178.6 272.4h.01M177.8 265.5h.01M183.9 269.2h.01M181.8 290.2h.01M187.5 288.3h.01M181.6 285.6h.01M185.2 290.8h.01M178.6 291.3h.01M177.8 284.4h.01M183.9 288.1h.01M193.3 219.4h.01M195.1 213.7h.01M200.7 214.6h.01M206.4 212.7h.01M200.5 210h.01M190 215.1h.01M204.1 215.2h.01M197.5 215.7h.01M196.7 208.8h.01M202.8 212.5h.01M193.3 238.3h.01M195.1 232.6h.01M200.7 233.5h.01M206.4 231.6h.01M200.5 228.9h.01M190 234h.01M204.1 234.1h.01M197.5 234.6h.01M196.7 227.7h.01M202.8 231.4h.01M193.3 257.2h.01M195.1 251.5h.01M200.7 252.4h.01M206.4 250.5h.01M200.5 247.8h.01M190 252.9h.01M204.1 253h.01M197.5 253.5h.01M196.7 246.6h.01M202.8 250.3h.01M193.3 276.1h.01M195.1 270.4h.01M200.7 271.3h.01M206.4 269.4h.01M200.5 266.7h.01M190 271.8h.01M204.1 271.9h.01M197.5 272.4h.01M196.7 265.5h.01M202.8 269.2h.01M200.5 285.6h.01M196.7 284.4h.01M212.2 200.5h.01M214 194.8h.01M219.6 195.7h.01M225.3 193.8h.01M219.4 191.1h.01M223 196.3h.01M216.4 196.8h.01M221.7 193.6h.01M212.2 219.4h.01M214 213.7h.01M219.6 214.6h.01M225.3 212.7h.01M219.4 210h.01M208.9 215.1h.01M223 215.2h.01M216.4 215.7h.01M215.6 208.8h.01M221.7 212.5h.01M212.2 238.3h.01M214 232.6h.01M219.6 233.5h.01M225.3 231.6h.01M219.4 228.9h.01M208.9 234h.01M223 234.1h.01M216.4 234.6h.01M215.6 227.7h.01M221.7 231.4h.01M212.2 257.2h.01M214 251.5h.01M219.6 252.4h.01M225.3 250.5h.01M219.4 247.8h.01M208.9 252.9h.01M223 253h.01M216.4 253.5h.01M215.6 246.6h.01M221.7 250.3h.01M212.2 276.1h.01M214 270.4h.01M219.6 271.3h.01M225.3 269.4h.01M219.4 266.7h.01M208.9 271.8h.01M223 271.9h.01M216.4 272.4h.01M215.6 265.5h.01M221.7 269.2h.01M231.1 200.5h.01M232.9 194.8h.01M238.5 195.7h.01M244.2 193.8h.01M238.3 191.1h.01M227.8 196.2h.01M241.9 196.3h.01M235.3 196.8h.01M234.5 189.9h.01M240.6 193.6h.01M231.1 219.4h.01M232.9 213.7h.01M238.5 214.6h.01M244.2 212.7h.01M238.3 210h.01M227.8 215.1h.01M241.9 215.2h.01M235.3 215.7h.01M234.5 208.8h.01M240.6 212.5h.01M231.1 238.3h.01M232.9 232.6h.01M238.5 233.5h.01M244.2 231.6h.01M238.3 228.9h.01M227.8 234h.01M241.9 234.1h.01M235.3 234.6h.01M234.5 227.7h.01M240.6 231.4h.01M231.1 257.2h.01M232.9 251.5h.01M238.5 252.4h.01M244.2 250.5h.01M238.3 247.8h.01M227.8 252.9h.01M241.9 253h.01M235.3 253.5h.01M234.5 246.6h.01M240.6 250.3h.01M232.9 270.4h.01M238.3 266.7h.01M227.8 271.8h.01M234.5 265.5h.01M250 181.6h.01M257.4 176.8h.01M260.8 177.4h.01M254.2 177.9h.01M250 200.5h.01M251.8 194.8h.01M257.4 195.7h.01M263.1 193.8h.01M257.2 191.1h.01M246.7 196.2h.01M260.8 196.3h.01M254.2 196.8h.01M253.4 189.9h.01M259.5 193.6h.01M250 219.4h.01M251.8 213.7h.01M257.4 214.6h.01M263.1 212.7h.01M257.2 210h.01M246.7 215.1h.01M260.8 215.2h.01M254.2 215.7h.01M253.4 208.8h.01M259.5 212.5h.01M250 238.3h.01M251.8 232.6h.01M257.4 233.5h.01M263.1 231.6h.01M257.2 228.9h.01M246.7 234h.01M260.8 234.1h.01M254.2 234.6h.01M253.4 227.7h.01M259.5 231.4h.01M250 257.2h.01M251.8 251.5h.01M257.4 252.4h.01M263.1 250.5h.01M257.2 247.8h.01M246.7 252.9h.01M260.8 253h.01M254.2 253.5h.01M253.4 246.6h.01M259.5 250.3h.01M268.9 181.6h.01M270.7 175.9h.01M276.3 176.8h.01M282 174.9h.01M265.6 177.3h.01M279.7 177.4h.01M273.1 177.9h.01M268.9 200.5h.01M270.7 194.8h.01M276.3 195.7h.01M282 193.8h.01M276.1 191.1h.01M265.6 196.2h.01M279.7 196.3h.01M273.1 196.8h.01M272.3 189.9h.01M278.4 193.6h.01M268.9 219.4h.01M270.7 213.7h.01M276.3 214.6h.01M282 212.7h.01M276.1 210h.01M265.6 215.1h.01M279.7 215.2h.01M273.1 215.7h.01M272.3 208.8h.01M278.4 212.5h.01M268.9 238.3h.01M270.7 232.6h.01M276.3 233.5h.01M282 231.6h.01M276.1 228.9h.01M265.6 234h.01M279.7 234.1h.01M273.1 234.6h.01M272.3 227.7h.01M278.4 231.4h.01M276.1 247.8h.01M265.6 252.9h.01M272.3 246.6h.01M287.8 181.6h.01M289.6 175.9h.01M295.2 176.8h.01M284.5 177.3h.01M292 177.9h.01M287.8 200.5h.01M289.6 194.8h.01M295.2 195.7h.01M300.9 193.8h.01M295 191.1h.01M284.5 196.2h.01M298.6 196.3h.01M292 196.8h.01M291.2 189.9h.01M297.3 193.6h.01M287.8 219.4h.01M289.6 213.7h.01M295.2 214.6h.01M300.9 212.7h.01M295 210h.01M284.5 215.1h.01M298.6 215.2h.01M292 215.7h.01M291.2 208.8h.01M297.3 212.5h.01M287.8 238.3h.01M289.6 232.6h.01M295.2 233.5h.01M300.9 231.6h.01M295 228.9h.01M284.5 234h.01M298.6 234.1h.01M292 234.6h.01M291.2 227.7h.01M297.3 231.4h.01M306.7 219.4h.01M308.5 213.7h.01M303.4 215.1h.01M310.1 227.7h.01" fill="none" stroke="#444" stroke-width="1" stroke-linecap="round"/>
<path d="M165.2 237h.01M159.2 238.6h.01M161.5 244.9h.01M165.2 255.9h.01M166.8 240.5h.01M160.3 249.6h.01M154.7 241.5h.01M166.8 259.4h.01M184.1 218.1h.01M180.4 226h.01M184.1 237h.01M185.7 221.6h.01M178.1 238.6h.01M174.9 228.6h.01M179.2 230.7h.01M174.2 235.2h.01M171.6 247.3h.01M180.4 244.9h.01M184.1 255.9h.01M185.7 240.5h.01M178.1 257.5h.01M174.9 247.5h.01M179.2 249.6h.01M173.6 241.5h.01M174.2 254.1h.01M171.6 266.2h.01M180.4 263.8h.01M184.1 274.8h.01M185.7 259.4h.01M178.1 276.4h.01M174.9 266.4h.01M179.2 268.5h.01M173.6 260.4h.01M174.2 273h.01M180.4 282.7h.01M185.7 278.3h.01M179.2 287.4h.01M173.6 279.3h.01M199.3 207.1h.01M203 218.1h.01M204.6 202.7h.01M197 219.7h.01M193.8 209.7h.01M198.1 211.8h.01M193.1 216.3h.01M190.5 228.4h.01M199.3 226h.01M203 237h.01M204.6 221.6h.01M197 238.6h.01M193.8 228.6h.01M198.1 230.7h.01M192.5 222.6h.01M193.1 235.2h.01M190.5 247.3h.01M199.3 244.9h.01M203 255.9h.01M204.6 240.5h.01M197 257.5h.01M193.8 247.5h.01M198.1 249.6h.01M192.5 241.5h.01M193.1 254.1h.01M190.5 266.2h.01M199.3 263.8h.01M203 274.8h.01M204.6 259.4h.01M197 276.4h.01M193.8 266.4h.01M198.1 268.5h.01M192.5 260.4h.01M193.1 273h.01M190.5 285.1h.01M199.3 282.7h.01M204.6 278.3h.01M193.8 285.3h.01M192.5 279.3h.01M221.9 199.2h.01M215.9 200.8h.01M217 192.9h.01M212 197.4h.01M209.4 209.5h.01M218.2 207.1h.01M221.9 218.1h.01M223.5 202.7h.01M215.9 219.7h.01M212.7 209.7h.01M217 211.8h.01M211.4 203.7h.01M212 216.3h.01M209.4 228.4h.01M218.2 226h.01M221.9 237h.01M223.5 221.6h.01M215.9 238.6h.01M212.7 228.6h.01M217 230.7h.01M211.4 222.6h.01M212 235.2h.01M209.4 247.3h.01M218.2 244.9h.01M221.9 255.9h.01M223.5 240.5h.01M215.9 257.5h.01M212.7 247.5h.01M217 249.6h.01M211.4 241.5h.01M212 254.1h.01M209.4 266.2h.01M218.2 263.8h.01M221.9 274.8h.01M223.5 259.4h.01M215.9 276.4h.01M212.7 266.4h.01M217 268.5h.01M211.4 260.4h.01M212 273h.01M211.4 279.3h.01M240.8 180.3h.01M228.3 190.6h.01M237.1 188.2h.01M240.8 199.2h.01M242.4 183.8h.01M234.8 200.8h.01M231.6 190.8h.01M235.9 192.9h.01M230.3 184.8h.01M230.9 197.4h.01M228.3 209.5h.01M237.1 207.1h.01M240.8 218.1h.01M242.4 202.7h.01M234.8 219.7h.01M231.6 209.7h.01M235.9 211.8h.01M230.3 203.7h.01M230.9 216.3h.01M228.3 228.4h.01M237.1 226h.01M240.8 237h.01M242.4 221.6h.01M234.8 238.6h.01M231.6 228.6h.01M235.9 230.7h.01M230.3 222.6h.01M230.9 235.2h.01M228.3 247.3h.01M237.1 244.9h.01M240.8 255.9h.01M242.4 240.5h.01M234.8 257.5h.01M231.6 247.5h.01M235.9 249.6h.01M230.3 241.5h.01M230.9 254.1h.01M228.3 266.2h.01M237.1 263.8h.01M242.4 259.4h.01M231.6 266.4h.01M235.9 268.5h.01M230.3 260.4h.01M259.7 180.3h.01M253.7 181.9h.01M249.8 178.5h.01M247.2 190.6h.01M256 188.2h.01M259.7 199.2h.01M261.3 183.8h.01M253.7 200.8h.01M250.5 190.8h.01M254.8 192.9h.01M249.2 184.8h.01M249.8 197.4h.01M247.2 209.5h.01M256 207.1h.01M259.7 218.1h.01M261.3 202.7h.01M253.7 219.7h.01M250.5 209.7h.01M254.8 211.8h.01M249.2 203.7h.01M249.8 216.3h.01M247.2 228.4h.01M256 226h.01M259.7 237h.01M261.3 221.6h.01M253.7 238.6h.01M250.5 228.6h.01M254.8 230.7h.01M249.2 222.6h.01M249.8 235.2h.01M247.2 247.3h.01M256 244.9h.01M259.7 255.9h.01M261.3 240.5h.01M253.7 257.5h.01M250.5 247.5h.01M254.8 249.6h.01M249.2 241.5h.01M249.8 254.1h.01M249.2 260.4h.01M278.6 180.3h.01M272.6 181.9h.01M268.7 178.5h.01M266.1 190.6h.01M274.9 188.2h.01M278.6 199.2h.01M280.2 183.8h.01M272.6 200.8h.01M269.4 190.8h.01M273.7 192.9h.01M268.1 184.8h.01M268.7 197.4h.01M266.1 209.5h.01M274.9 207.1h.01M278.6 218.1h.01M280.2 202.7h.01M272.6 219.7h.01M269.4 209.7h.01M273.7 211.8h.01M268.1 203.7h.01M268.7 216.3h.01M266.1 228.4h.01M274.9 226h.01M278.6 237h.01M280.2 221.6h.01M272.6 238.6h.01M269.4 228.6h.01M273.7 230.7h.01M268.1 222.6h.01M268.7 235.2h.01M266.1 247.3h.01M274.9 244.9h.01M280.2 240.5h.01M269.4 247.5h.01M268.1 241.5h.01M297.5 180.3h.01M291.5 181.9h.01M292.6 174h.01M287.6 178.5h.01M285 190.6h.01M293.8 188.2h.01M297.5 199.2h.01M291.5 200.8h.01M288.3 190.8h.01M292.6 192.9h.01M287 184.8h.01M287.6 197.4h.01M285 209.5h.01M293.8 207.1h.01M297.5 218.1h.01M299.1 202.7h.01M291.5 219.7h.01M288.3 209.7h.01M292.6 211.8h.01M287 203.7h.01M287.6 216.3h.01M285 228.4h.01M293.8 226h.01M299.1 221.6h.01M291.5 238.6h.01M288.3 228.6h.01M292.6 230.7h.01M287 222.6h.01M287.6 235.2h.01M287 241.5h.01M303.9 209.5h.01M310.4 219.7h.01M307.2 209.7h.01M306.5 216.3h.01M303.9 228.4h.01M312.7 226h.01M307.2 228.6h.01M305.9 222.6h.01" fill="none" stroke="#777" stroke-width="1" stroke-linecap="round"/>
<path d="M154.5 244q1.6 -1.9 3.1 -.2l-2 1.9M173.4 244q1.6 -1.9 3.1 -.2l-2 1.9M173.4 262.9q1.6 -1.9 3.1 -.2l-2 1.9M173.4 281.8q1.6 -1.9 3.1 -.2l-2 1.9M192.3 225.1q1.6 -1.9 3.1 -.2l-2 1.9M192.3 244q1.6 -1.9 3.1 -.2l-2 1.9M192.3 262.9q1.6 -1.9 3.1 -.2l-2 1.9M192.3 281.8q1.6 -1.9 3.1 -.2l-2 1.9M211.2 206.2q1.6 -1.9 3.1 -.2l-2 1.9M211.2 225.1q1.6 -1.9 3.1 -.2l-2 1.9M211.2 244q1.6 -1.9 3.1 -.2l-2 1.9M211.2 262.9q1.6 -1.9 3.1 -.2l-2 1.9M230.1 187.3q1.6 -1.9 3.1 -.2l-2 1.9M230.1 206.2q1.6 -1.9 3.1 -.2l-2 1.9M230.1 225.1q1.6 -1.9 3.1 -.2l-2 1.9M230.1 244q1.6 -1.9 3.1 -.2l-2 1.9M230.1 262.9q1.6 -1.9 3.1 -.2l-2 1.9M249 187.3q1.6 -1.9 3.1 -.2l-2 1.9M249 206.2q1.6 -1.9 3.1 -.2l-2 1.9M249 225.1q1.6 -1.9 3.1 -.2l-2 1.9M249 244q1.6 -1.9 3.1 -.2l-2 1.9M267.9 187.3q1.6 -1.9 3.1 -.2l-2 1.9M267.9 206.2q1.6 -1.9 3.1 -.2l-2 1.9M267.9 225.1q1.6 -1.9 3.1 -.2l-2 1.9M267.9 244q1.6 -1.9 3.1 -.2l-2 1.9M286.8 187.3q1.6 -1.9 3.1 -.2l-2 1.9M286.8 206.2q1.6 -1.9 3.1 -.2l-2 1.9M286.8 225.1q1.6 -1.9 3.1 -.2l-2 1.9M305.7 225.1q1.6 -1.9 3.1 -.2l-2 1.9" fill="none" stroke="#3a3a3a" stroke-width="0.9" stroke-linejoin="round"/>
<path d="M169.7 241.6l1 1.1l1 -1.1m-1 1.1v1.2M169.7 260.5l1 1.1l1 -1.1m-1 1.1v1.2M188.6 222.7l1 1.1l1 -1.1m-1 1.1v1.2M188.6 241.6l1 1.1l1 -1.1m-1 1.1v1.2M188.6 260.5l1 1.1l1 -1.1m-1 1.1v1.2M188.6 279.4l1 1.1l1 -1.1m-1 1.1v1.2M207.5 203.8l1 1.1l1 -1.1m-1 1.1v1.2M207.5 222.7l1 1.1l1 -1.1m-1 1.1v1.2M207.5 241.6l1 1.1l1 -1.1m-1 1.1v1.2M207.5 260.5l1 1.1l1 -1.1m-1 1.1v1.2M207.5 279.4l1 1.1l1 -1.1m-1 1.1v1.2M226.4 184.9l1 1.1l1 -1.1m-1 1.1v1.2M226.4 203.8l1 1.1l1 -1.1m-1 1.1v1.2M226.4 222.7l1 1.1l1 -1.1m-1 1.1v1.2M226.4 241.6l1 1.1l1 -1.1m-1 1.1v1.2M226.4 260.5l1 1.1l1 -1.1m-1 1.1v1.2M245.3 184.9l1 1.1l1 -1.1m-1 1.1v1.2M245.3 203.8l1 1.1l1 -1.1m-1 1.1v1.2M245.3 222.7l1 1.1l1 -1.1m-1 1.1v1.2M245.3 241.6l1 1.1l1 -1.1m-1 1.1v1.2M245.3 260.5l1 1.1l1 -1.1m-1 1.1v1.2M264.2 184.9l1 1.1l1 -1.1m-1 1.1v1.2M264.2 203.8l1 1.1l1 -1.1m-1 1.1v1.2M264.2 222.7l1 1.1l1 -1.1m-1 1.1v1.2M264.2 241.6l1 1.1l1 -1.1m-1 1.1v1.2M283.1 184.9l1 1.1l1 -1.1m-1 1.1v1.2M283.1 203.8l1 1.1l1 -1.1m-1 1.1v1.2M283.1 222.7l1 1.1l1 -1.1m-1 1.1v1.2M302 203.8l1 1.1l1 -1.1m-1 1.1v1.2M302 222.7l1 1.1l1 -1.1m-1 1.1v1.2" fill="none" stroke="#777" stroke-width="0.7"/>
<path d="M161.9 239.8l1.8 1.1M161.9 258.7l1.8 1.1M180.8 220.9l1.8 1.1M180.8 239.8l1.8 1.1M180.8 258.7l1.8 1.1M180.8 277.6l1.8 1.1M199.7 220.9l1.8 1.1M199.7 239.8l1.8 1.1M199.7 258.7l1.8 1.1M199.7 277.6l1.8 1.1M218.6 202l1.8 1.1M218.6 220.9l1.8 1.1M218.6 239.8l1.8 1.1M218.6 258.7l1.8 1.1M237.5 183.1l1.8 1.1M237.5 202l1.8 1.1M237.5 220.9l1.8 1.1M237.5 239.8l1.8 1.1M237.5 258.7l1.8 1.1M256.4 183.1l1.8 1.1M256.4 202l1.8 1.1M256.4 220.9l1.8 1.1M256.4 239.8l1.8 1.1M275.3 183.1l1.8 1.1M275.3 202l1.8 1.1M275.3 220.9l1.8 1.1M275.3 239.8l1.8 1.1M294.2 183.1l1.8 1.1M294.2 202l1.8 1.1M294.2 220.9l1.8 1.1" fill="none" stroke="#444" stroke-width="0.9"/>
<path d="M395.5 141.4h.01M396.6 144.5h.01M392.7 149.4h.01M396.6 163.4h.01M395.4 151h.01M415.5 125.6h.01M414.4 141.4h.01M411.6 130.5h.01M411.7 134h.01M415.5 144.5h.01M414.3 132.1h.01M407.6 142.3h.01M399.8 137.1h.01M404.6 148.1h.01M414.4 160.3h.01M411.6 149.4h.01M411.7 152.9h.01M415.5 163.4h.01M414.3 151h.01M407.6 161.2h.01M399.8 156h.01M404.6 167h.01M414.4 179.2h.01M411.6 168.3h.01M411.7 171.8h.01M415.5 182.3h.01M414.3 169.9h.01M407.6 180.1h.01M404.6 185.9h.01M411.6 187.2h.01M411.7 190.7h.01M414.3 188.8h.01M433.3 122.5h.01M430.6 115.1h.01M434.4 125.6h.01M426.5 123.4h.01M423.5 129.2h.01M433.3 141.4h.01M430.5 130.5h.01M430.6 134h.01M434.4 144.5h.01M433.2 132.1h.01M426.5 142.3h.01M418.7 137.1h.01M423.5 148.1h.01M433.3 160.3h.01M430.5 149.4h.01M430.6 152.9h.01M434.4 163.4h.01M433.2 151h.01M426.5 161.2h.01M418.7 156h.01M423.5 167h.01M433.3 179.2h.01M430.5 168.3h.01M430.6 171.8h.01M434.4 182.3h.01M433.2 169.9h.01M426.5 180.1h.01M418.7 174.9h.01M423.5 185.9h.01M430.5 187.2h.01M430.6 190.7h.01M433.2 188.8h.01M418.7 193.8h.01M453.3 106.7h.01M442.4 110.3h.01M452.2 122.5h.01M449.4 111.6h.01M449.5 115.1h.01M453.3 125.6h.01M452.1 113.2h.01M445.4 123.4h.01M437.6 118.2h.01M442.4 129.2h.01M452.2 141.4h.01M449.4 130.5h.01M449.5 134h.01M453.3 144.5h.01M452.1 132.1h.01M445.4 142.3h.01M437.6 137.1h.01M442.4 148.1h.01M452.2 160.3h.01M449.4 149.4h.01M449.5 152.9h.01M453.3 163.4h.01M452.1 151h.01M445.4 161.2h.01M437.6 156h.01M442.4 167h.01M452.2 179.2h.01M449.4 168.3h.01M449.5 171.8h.01M453.3 182.3h.01M452.1 169.9h.01M445.4 180.1h.01M437.6 174.9h.01M442.4 185.9h.01M449.4 187.2h.01M449.5 190.7h.01M452.1 188.8h.01M437.6 193.8h.01M471.1 103.6h.01M472.2 106.7h.01M464.3 104.5h.01M461.3 110.3h.01M471.1 122.5h.01M468.3 111.6h.01M468.4 115.1h.01M472.2 125.6h.01M471 113.2h.01M464.3 123.4h.01M456.5 118.2h.01M461.3 129.2h.01M471.1 141.4h.01M468.3 130.5h.01M468.4 134h.01M472.2 144.5h.01M471 132.1h.01M464.3 142.3h.01M456.5 137.1h.01M461.3 148.1h.01M471.1 160.3h.01M468.3 149.4h.01M468.4 152.9h.01M472.2 163.4h.01M471 151h.01M464.3 161.2h.01M456.5 156h.01M461.3 167h.01M471.1 179.2h.01M468.3 168.3h.01M468.4 171.8h.01M472.2 182.3h.01M471 169.9h.01M464.3 180.1h.01M456.5 174.9h.01M461.3 185.9h.01M491.1 87.8h.01M490 103.6h.01M487.2 92.7h.01M487.3 96.2h.01M491.1 106.7h.01M489.9 94.3h.01M483.2 104.5h.01M475.4 99.3h.01M480.2 110.3h.01M490 122.5h.01M487.2 111.6h.01M487.3 115.1h.01M491.1 125.6h.01M489.9 113.2h.01M483.2 123.4h.01M475.4 118.2h.01M480.2 129.2h.01M490 141.4h.01M487.2 130.5h.01M487.3 134h.01M491.1 144.5h.01M489.9 132.1h.01M483.2 142.3h.01M475.4 137.1h.01M480.2 148.1h.01M490 160.3h.01M487.2 149.4h.01M487.3 152.9h.01M491.1 163.4h.01M489.9 151h.01M483.2 161.2h.01M475.4 156h.01M480.2 167h.01M487.2 168.3h.01M487.3 171.8h.01M489.9 169.9h.01M475.4 174.9h.01M508.9 84.7h.01M510 87.8h.01M502.1 85.6h.01M499.1 91.4h.01M508.9 103.6h.01M506.1 92.7h.01M506.2 96.2h.01M510 106.7h.01M508.8 94.3h.01M502.1 104.5h.01M494.3 99.3h.01M499.1 110.3h.01M508.9 122.5h.01M506.1 111.6h.01M506.2 115.1h.01M510 125.6h.01M508.8 113.2h.01M502.1 123.4h.01M494.3 118.2h.01M499.1 129.2h.01M508.9 141.4h.01M506.1 130.5h.01M506.2 134h.01M510 144.5h.01M508.8 132.1h.01M502.1 142.3h.01M494.3 137.1h.01M499.1 148.1h.01M506.1 149.4h.01M506.2 152.9h.01M508.8 151h.01M502.1 161.2h.01M494.3 156h.01M513.2 80.4h.01M518 91.4h.01M527.8 103.6h.01M525.1 96.2h.01M528.9 106.7h.01M521 104.5h.01M513.2 99.3h.01M518 110.3h.01M527.8 122.5h.01M525 111.6h.01M525.1 115.1h.01M528.9 125.6h.01M527.7 113.2h.01M521 123.4h.01M513.2 118.2h.01M518 129.2h.01M527.8 141.4h.01M525 130.5h.01M525.1 134h.01M527.7 132.1h.01M521 142.3h.01M513.2 137.1h.01M518 148.1h.01M532.1 118.2h.01M536.9 129.2h.01M532.1 137.1h.01" fill="none" stroke="#111" stroke-width="1" stroke-linecap="round"/>
<path d="M395.4 137.1h.01M393.1 139.6h.01M395.4 156h.01M401.2 143.8h.01M403 138.1h.01M408.6 139h.01M414.3 137.1h.01M408.4 134.4h.01M397.9 139.5h.01M412 139.6h.01M405.4 140.1h.01M404.6 133.2h.01M410.7 136.9h.01M401.2 162.7h.01M403 157h.01M408.6 157.9h.01M414.3 156h.01M408.4 153.3h.01M397.9 158.4h.01M412 158.5h.01M405.4 159h.01M404.6 152.1h.01M410.7 155.8h.01M403 175.9h.01M408.6 176.8h.01M414.3 174.9h.01M408.4 172.2h.01M412 177.4h.01M405.4 177.9h.01M404.6 171h.01M410.7 174.7h.01M408.6 195.7h.01M414.3 193.8h.01M408.4 191.1h.01M404.6 189.9h.01M410.7 193.6h.01M420.1 124.9h.01M427.5 120.1h.01M433.2 118.2h.01M430.9 120.7h.01M424.3 121.2h.01M429.6 118h.01M420.1 143.8h.01M421.9 138.1h.01M427.5 139h.01M433.2 137.1h.01M427.3 134.4h.01M416.8 139.5h.01M430.9 139.6h.01M424.3 140.1h.01M423.5 133.2h.01M429.6 136.9h.01M420.1 162.7h.01M421.9 157h.01M427.5 157.9h.01M433.2 156h.01M427.3 153.3h.01M416.8 158.4h.01M430.9 158.5h.01M424.3 159h.01M423.5 152.1h.01M429.6 155.8h.01M420.1 181.6h.01M421.9 175.9h.01M427.5 176.8h.01M433.2 174.9h.01M427.3 172.2h.01M416.8 177.3h.01M430.9 177.4h.01M424.3 177.9h.01M423.5 171h.01M429.6 174.7h.01M421.9 194.8h.01M433.2 193.8h.01M427.3 191.1h.01M423.5 189.9h.01M429.6 193.6h.01M439 124.9h.01M440.8 119.2h.01M446.4 120.1h.01M452.1 118.2h.01M446.2 115.5h.01M435.7 120.6h.01M449.8 120.7h.01M443.2 121.2h.01M442.4 114.3h.01M448.5 118h.01M439 143.8h.01M440.8 138.1h.01M446.4 139h.01M452.1 137.1h.01M446.2 134.4h.01M435.7 139.5h.01M449.8 139.6h.01M443.2 140.1h.01M442.4 133.2h.01M448.5 136.9h.01M439 162.7h.01M440.8 157h.01M446.4 157.9h.01M452.1 156h.01M446.2 153.3h.01M435.7 158.4h.01M449.8 158.5h.01M443.2 159h.01M442.4 152.1h.01M448.5 155.8h.01M439 181.6h.01M440.8 175.9h.01M446.4 176.8h.01M452.1 174.9h.01M446.2 172.2h.01M435.7 177.3h.01M449.8 177.4h.01M443.2 177.9h.01M442.4 171h.01M448.5 174.7h.01M446.2 191.1h.01M442.4 189.9h.01M457.9 106h.01M465.3 101.2h.01M471 99.3h.01M468.7 101.8h.01M462.1 102.3h.01M467.4 99.1h.01M457.9 124.9h.01M459.7 119.2h.01M465.3 120.1h.01M471 118.2h.01M465.1 115.5h.01M454.6 120.6h.01M468.7 120.7h.01M462.1 121.2h.01M461.3 114.3h.01M467.4 118h.01M457.9 143.8h.01M459.7 138.1h.01M465.3 139h.01M471 137.1h.01M465.1 134.4h.01M454.6 139.5h.01M468.7 139.6h.01M462.1 140.1h.01M461.3 133.2h.01M467.4 136.9h.01M457.9 162.7h.01M459.7 157h.01M465.3 157.9h.01M471 156h.01M465.1 153.3h.01M454.6 158.4h.01M468.7 158.5h.01M462.1 159h.01M461.3 152.1h.01M467.4 155.8h.01M457.9 181.6h.01M459.7 175.9h.01M465.3 176.8h.01M471 174.9h.01M465.1 172.2h.01M454.6 177.3h.01M468.7 177.4h.01M462.1 177.9h.01M461.3 171h.01M467.4 174.7h.01M476.8 106h.01M478.6 100.3h.01M484.2 101.2h.01M489.9 99.3h.01M484 96.6h.01M473.5 101.7h.01M487.6 101.8h.01M481 102.3h.01M480.2 95.4h.01M486.3 99.1h.01M476.8 124.9h.01M478.6 119.2h.01M484.2 120.1h.01M489.9 118.2h.01M484 115.5h.01M473.5 120.6h.01M487.6 120.7h.01M481 121.2h.01M480.2 114.3h.01M486.3 118h.01M476.8 143.8h.01M478.6 138.1h.01M484.2 139h.01M489.9 137.1h.01M484 134.4h.01M473.5 139.5h.01M487.6 139.6h.01M481 140.1h.01M480.2 133.2h.01M486.3 136.9h.01M476.8 162.7h.01M478.6 157h.01M484.2 157.9h.01M489.9 156h.01M484 153.3h.01M473.5 158.4h.01M487.6 158.5h.01M481 159h.01M480.2 152.1h.01M486.3 155.8h.01M478.6 175.9h.01M484 172.2h.01M473.5 177.3h.01M480.2 171h.01M495.7 87.1h.01M503.1 82.3h.01M508.8 80.4h.01M506.5 82.9h.01M499.9 83.4h.01M495.7 106h.01M497.5 100.3h.01M503.1 101.2h.01M508.8 99.3h.01M502.9 96.6h.01M492.4 101.7h.01M506.5 101.8h.01M499.9 102.3h.01M499.1 95.4h.01M505.2 99.1h.01M495.7 124.9h.01M497.5 119.2h.01M503.1 120.1h.01M508.8 118.2h.01M502.9 115.5h.01M492.4 120.6h.01M506.5 120.7h.01M499.9 121.2h.01M499.1 114.3h.01M505.2 118h.01M495.7 143.8h.01M497.5 138.1h.01M503.1 139h.01M508.8 137.1h.01M502.9 134.4h.01M492.4 139.5h.01M506.5 139.6h.01M499.9 140.1h.01M499.1 133.2h.01M505.2 136.9h.01M495.7 162.7h.01M497.5 157h.01M503.1 157.9h.01M508.8 156h.01M502.9 153.3h.01M492.4 158.4h.01M499.9 159h.01M499.1 152.1h.01M505.2 155.8h.01M514.6 87.1h.01M516.4 81.4h.01M511.3 82.8h.01M518.8 83.4h.01M514.6 106h.01M516.4 100.3h.01M522 101.2h.01M521.8 96.6h.01M511.3 101.7h.01M525.4 101.8h.01M518.8 102.3h.01M518 95.4h.01M524.1 99.1h.01M514.6 124.9h.01M516.4 119.2h.01M522 120.1h.01M527.7 118.2h.01M521.8 115.5h.01M511.3 120.6h.01M525.4 120.7h.01M518.8 121.2h.01M518 114.3h.01M524.1 118h.01M514.6 143.8h.01M516.4 138.1h.01M522 139h.01M527.7 137.1h.01M521.8 134.4h.01M511.3 139.5h.01M525.4 139.6h.01M518.8 140.1h.01M518 133.2h.01M524.1 136.9h.01M533.5 124.9h.01M535.3 119.2h.01M530.2 120.6h.01M535.3 138.1h.01M530.2 139.5h.01M536.9 133.2h.01" fill="none" stroke="#444" stroke-width="1" stroke-linecap="round"/>
<path d="M392 142.5h.01M393.6 146h.01M407.2 131.5h.01M410.9 142.5h.01M412.5 127.1h.01M404.9 144.1h.01M401.7 134.1h.01M406 136.2h.01M401 140.7h.01M398.4 152.8h.01M407.2 150.4h.01M410.9 161.4h.01M412.5 146h.01M404.9 163h.01M401.7 153h.01M406 155.1h.01M400.4 147h.01M401 159.6h.01M407.2 169.3h.01M410.9 180.3h.01M412.5 164.9h.01M404.9 181.9h.01M401.7 171.9h.01M406 174h.01M400.4 165.9h.01M407.2 188.2h.01M412.5 183.8h.01M406 192.9h.01M429.8 123.6h.01M423.8 125.2h.01M419.9 121.8h.01M417.3 133.9h.01M426.1 131.5h.01M429.8 142.5h.01M431.4 127.1h.01M423.8 144.1h.01M420.6 134.1h.01M424.9 136.2h.01M419.3 128.1h.01M419.9 140.7h.01M417.3 152.8h.01M426.1 150.4h.01M429.8 161.4h.01M431.4 146h.01M423.8 163h.01M420.6 153h.01M424.9 155.1h.01M419.3 147h.01M419.9 159.6h.01M417.3 171.7h.01M426.1 169.3h.01M429.8 180.3h.01M431.4 164.9h.01M423.8 181.9h.01M420.6 171.9h.01M424.9 174h.01M419.3 165.9h.01M419.9 178.5h.01M417.3 190.6h.01M426.1 188.2h.01M431.4 183.8h.01M420.6 190.8h.01M424.9 192.9h.01M419.3 184.8h.01M436.2 115h.01M445 112.6h.01M448.7 123.6h.01M450.3 108.2h.01M442.7 125.2h.01M439.5 115.2h.01M443.8 117.3h.01M438.8 121.8h.01M436.2 133.9h.01M445 131.5h.01M448.7 142.5h.01M450.3 127.1h.01M442.7 144.1h.01M439.5 134.1h.01M443.8 136.2h.01M438.2 128.1h.01M438.8 140.7h.01M436.2 152.8h.01M445 150.4h.01M448.7 161.4h.01M450.3 146h.01M442.7 163h.01M439.5 153h.01M443.8 155.1h.01M438.2 147h.01M438.8 159.6h.01M436.2 171.7h.01M445 169.3h.01M448.7 180.3h.01M450.3 164.9h.01M442.7 181.9h.01M439.5 171.9h.01M443.8 174h.01M438.2 165.9h.01M438.8 178.5h.01M436.2 190.6h.01M445 188.2h.01M450.3 183.8h.01M439.5 190.8h.01M438.2 184.8h.01M467.6 104.7h.01M461.6 106.3h.01M457.7 102.9h.01M455.1 115h.01M463.9 112.6h.01M467.6 123.6h.01M469.2 108.2h.01M461.6 125.2h.01M458.4 115.2h.01M462.7 117.3h.01M457.1 109.2h.01M457.7 121.8h.01M455.1 133.9h.01M463.9 131.5h.01M467.6 142.5h.01M469.2 127.1h.01M461.6 144.1h.01M458.4 134.1h.01M462.7 136.2h.01M457.1 128.1h.01M457.7 140.7h.01M455.1 152.8h.01M463.9 150.4h.01M467.6 161.4h.01M469.2 146h.01M461.6 163h.01M458.4 153h.01M462.7 155.1h.01M457.1 147h.01M457.7 159.6h.01M455.1 171.7h.01M463.9 169.3h.01M467.6 180.3h.01M469.2 164.9h.01M461.6 181.9h.01M458.4 171.9h.01M462.7 174h.01M457.1 165.9h.01M457.7 178.5h.01M469.2 183.8h.01M457.1 184.8h.01M474 96.1h.01M482.8 93.7h.01M486.5 104.7h.01M488.1 89.3h.01M480.5 106.3h.01M477.3 96.3h.01M481.6 98.4h.01M476.6 102.9h.01M474 115h.01M482.8 112.6h.01M486.5 123.6h.01M488.1 108.2h.01M480.5 125.2h.01M477.3 115.2h.01M481.6 117.3h.01M476 109.2h.01M476.6 121.8h.01M474 133.9h.01M482.8 131.5h.01M486.5 142.5h.01M488.1 127.1h.01M480.5 144.1h.01M477.3 134.1h.01M481.6 136.2h.01M476 128.1h.01M476.6 140.7h.01M474 152.8h.01M482.8 150.4h.01M486.5 161.4h.01M488.1 146h.01M480.5 163h.01M477.3 153h.01M481.6 155.1h.01M476 147h.01M476.6 159.6h.01M474 171.7h.01M482.8 169.3h.01M488.1 164.9h.01M477.3 171.9h.01M481.6 174h.01M476 165.9h.01M476.6 178.5h.01M505.4 85.8h.01M499.4 87.4h.01M492.9 96.1h.01M501.7 93.7h.01M505.4 104.7h.01M507 89.3h.01M499.4 106.3h.01M496.2 96.3h.01M500.5 98.4h.01M494.9 90.3h.01M495.5 102.9h.01M492.9 115h.01M501.7 112.6h.01M505.4 123.6h.01M507 108.2h.01M499.4 125.2h.01M496.2 115.2h.01M500.5 117.3h.01M494.9 109.2h.01M495.5 121.8h.01M492.9 133.9h.01M501.7 131.5h.01M505.4 142.5h.01M507 127.1h.01M499.4 144.1h.01M496.2 134.1h.01M500.5 136.2h.01M494.9 128.1h.01M495.5 140.7h.01M492.9 152.8h.01M501.7 150.4h.01M507 146h.01M499.4 163h.01M496.2 153h.01M500.5 155.1h.01M494.9 147h.01M495.5 159.6h.01M494.9 165.9h.01M518.3 87.4h.01M515.1 77.4h.01M514.4 84h.01M511.8 96.1h.01M520.6 93.7h.01M524.3 104.7h.01M518.3 106.3h.01M515.1 96.3h.01M519.4 98.4h.01M513.8 90.3h.01M514.4 102.9h.01M511.8 115h.01M520.6 112.6h.01M524.3 123.6h.01M525.9 108.2h.01M518.3 125.2h.01M515.1 115.2h.01M519.4 117.3h.01M513.8 109.2h.01M514.4 121.8h.01M511.8 133.9h.01M520.6 131.5h.01M524.3 142.5h.01M525.9 127.1h.01M518.3 144.1h.01M515.1 134.1h.01M519.4 136.2h.01M513.8 128.1h.01M514.4 140.7h.01M511.8 152.8h.01M513.8 147h.01M530.7 115h.01M537.2 125.2h.01M534 115.2h.01M533.3 121.8h.01M530.7 133.9h.01M539.5 131.5h.01M534 134.1h.01M532.7 128.1h.01" fill="none" stroke="#777" stroke-width="1" stroke-linecap="round"/>
<path d="M400.2 149.5q1.6 -1.9 3.1 -.2l-2 1.9M400.2 168.4q1.6 -1.9 3.1 -.2l-2 1.9M419.1 130.6q1.6 -1.9 3.1 -.2l-2 1.9M419.1 149.5q1.6 -1.9 3.1 -.2l-2 1.9M419.1 168.4q1.6 -1.9 3.1 -.2l-2 1.9M419.1 187.3q1.6 -1.9 3.1 -.2l-2 1.9M438 111.7q1.6 -1.9 3.1 -.2l-2 1.9M438 130.6q1.6 -1.9 3.1 -.2l-2 1.9M438 149.5q1.6 -1.9 3.1 -.2l-2 1.9M438 168.4q1.6 -1.9 3.1 -.2l-2 1.9M438 187.3q1.6 -1.9 3.1 -.2l-2 1.9M456.9 111.7q1.6 -1.9 3.1 -.2l-2 1.9M456.9 130.6q1.6 -1.9 3.1 -.2l-2 1.9M456.9 149.5q1.6 -1.9 3.1 -.2l-2 1.9M456.9 168.4q1.6 -1.9 3.1 -.2l-2 1.9M456.9 187.3q1.6 -1.9 3.1 -.2l-2 1.9M475.8 111.7q1.6 -1.9 3.1 -.2l-2 1.9M475.8 130.6q1.6 -1.9 3.1 -.2l-2 1.9M475.8 149.5q1.6 -1.9 3.1 -.2l-2 1.9M475.8 168.4q1.6 -1.9 3.1 -.2l-2 1.9M494.7 92.8q1.6 -1.9 3.1 -.2l-2 1.9M494.7 111.7q1.6 -1.9 3.1 -.2l-2 1.9M494.7 130.6q1.6 -1.9 3.1 -.2l-2 1.9M494.7 149.5q1.6 -1.9 3.1 -.2l-2 1.9M513.6 92.8q1.6 -1.9 3.1 -.2l-2 1.9M513.6 111.7q1.6 -1.9 3.1 -.2l-2 1.9M513.6 130.6q1.6 -1.9 3.1 -.2l-2 1.9M513.6 149.5q1.6 -1.9 3.1 -.2l-2 1.9M532.5 130.6q1.6 -1.9 3.1 -.2l-2 1.9" fill="none" stroke="#3a3a3a" stroke-width="0.9" stroke-linejoin="round"/>
<path d="M396.5 147.1l1 1.1l1 -1.1m-1 1.1v1.2M415.4 128.2l1 1.1l1 -1.1m-1 1.1v1.2M415.4 147.1l1 1.1l1 -1.1m-1 1.1v1.2M415.4 166l1 1.1l1 -1.1m-1 1.1v1.2M415.4 184.9l1 1.1l1 -1.1m-1 1.1v1.2M434.3 128.2l1 1.1l1 -1.1m-1 1.1v1.2M434.3 147.1l1 1.1l1 -1.1m-1 1.1v1.2M434.3 166l1 1.1l1 -1.1m-1 1.1v1.2M434.3 184.9l1 1.1l1 -1.1m-1 1.1v1.2M453.2 109.3l1 1.1l1 -1.1m-1 1.1v1.2M453.2 128.2l1 1.1l1 -1.1m-1 1.1v1.2M453.2 147.1l1 1.1l1 -1.1m-1 1.1v1.2M453.2 166l1 1.1l1 -1.1m-1 1.1v1.2M453.2 184.9l1 1.1l1 -1.1m-1 1.1v1.2M472.1 109.3l1 1.1l1 -1.1m-1 1.1v1.2M472.1 128.2l1 1.1l1 -1.1m-1 1.1v1.2M472.1 147.1l1 1.1l1 -1.1m-1 1.1v1.2M472.1 166l1 1.1l1 -1.1m-1 1.1v1.2M491 90.4l1 1.1l1 -1.1m-1 1.1v1.2M491 109.3l1 1.1l1 -1.1m-1 1.1v1.2M491 128.2l1 1.1l1 -1.1m-1 1.1v1.2M491 147.1l1 1.1l1 -1.1m-1 1.1v1.2M509.9 90.4l1 1.1l1 -1.1m-1 1.1v1.2M509.9 109.3l1 1.1l1 -1.1m-1 1.1v1.2M509.9 128.2l1 1.1l1 -1.1m-1 1.1v1.2M509.9 147.1l1 1.1l1 -1.1m-1 1.1v1.2M528.8 128.2l1 1.1l1 -1.1m-1 1.1v1.2" fill="none" stroke="#777" stroke-width="0.7"/>
<path d="M407.6 145.3l1.8 1.1M407.6 164.2l1.8 1.1M407.6 183.1l1.8 1.1M426.5 126.4l1.8 1.1M426.5 145.3l1.8 1.1M426.5 164.2l1.8 1.1M426.5 183.1l1.8 1.1M445.4 107.5l1.8 1.1M445.4 126.4l1.8 1.1M445.4 145.3l1.8 1.1M445.4 164.2l1.8 1.1M445.4 183.1l1.8 1.1M464.3 107.5l1.8 1.1M464.3 126.4l1.8 1.1M464.3 145.3l1.8 1.1M464.3 164.2l1.8 1.1M464.3 183.1l1.8 1.1M483.2 107.5l1.8 1.1M483.2 126.4l1.8 1.1M483.2 145.3l1.8 1.1M483.2 164.2l1.8 1.1M502.1 88.6l1.8 1.1M502.1 107.5l1.8 1.1M502.1 126.4l1.8 1.1M502.1 145.3l1.8 1.1M521 107.5l1.8 1.1M521 126.4l1.8 1.1M521 145.3l1.8 1.1" fill="none" stroke="#444" stroke-width="0.9"/>
<path d="M195.5 26C195.17 41.67 194.17 92.67 193.5 120C192.83 147.33 192.33 171.17 191.5 190C190.67 208.83 189.75 214.5 188.5 233C187.25 251.5 185.63 278.58 184 301C182.37 323.42 179.58 356.42 178.7 367.5" fill="none" stroke="#a6a6a6" stroke-width="1.5"/>
<path d="M153 239L154.41 238.25L156.27 237.29L158.5 236.15L160.97 234.86L163.59 233.45L166.25 231.93L168.86 230.34L171.3 228.7L173.68 226.91L176.13 224.92L178.62 222.78L181.11 220.58L183.55 218.38L185.91 216.25L188.14 214.27L190.2 212.5L192.07 210.95L193.77 209.55L195.36 208.27L196.85 207.07L198.29 205.93L199.72 204.81L201.18 203.68L202.7 202.5L204.27 201.28L205.86 200.05L207.46 198.83L209.06 197.62L210.64 196.43L212.19 195.27L213.72 194.16L215.2 193.1L216.61 192.09L217.94 191.14L219.23 190.22L220.51 189.33L221.79 188.47L223.11 187.64L224.51 186.81L226 186L227.57 185.19L229.18 184.4L230.84 183.62L232.55 182.86L234.32 182.13L236.14 181.42L238.04 180.74L240 180.1L242 179.48L244 178.89L246.05 178.33L248.18 177.79L250.4 177.28L252.76 176.81L255.28 176.39L258 176L261.08 175.67L264.56 175.41L268.28 175.19L272.1 175L275.86 174.83L279.39 174.67L282.56 174.5L285.2 174.3L287.34 174.08L289.14 173.84L290.65 173.59L291.9 173.34L292.94 173.11L293.81 172.91L294.55 172.73L295.2 172.6" fill="none" stroke="#000" stroke-width="1.08" stroke-dasharray="5 3"/>
<path d="M313.5 227.2L312.86 227.48L312 227.84L310.97 228.26L309.84 228.74L308.64 229.26L307.43 229.8L306.27 230.35L305.2 230.9L304.35 231.38L303.72 231.77L303.19 232.14L302.62 232.54L301.89 233.05L300.86 233.72L299.41 234.62L297.4 235.8L294.74 237.33L291.52 239.17L287.87 241.25L283.92 243.49L279.83 245.8L275.72 248.11L271.73 250.34L268 252.4L264.48 254.34L261.01 256.23L257.58 258.1L254.18 259.93L250.79 261.74L247.4 263.54L244.01 265.32L240.6 267.1L237.22 268.86L233.89 270.6L230.58 272.31L227.27 274.01L223.91 275.71L220.46 277.4L216.91 279.09L213.2 280.8L209.09 282.61L204.51 284.55L199.68 286.54L194.84 288.51L190.21 290.37L186.02 292.04L182.51 293.44L179.9 294.5" fill="none" stroke="#000" stroke-width="1.08" stroke-dasharray="5 3"/>
<path d="M389.6 140.4L390.28 139.98L391.09 139.48L392.04 138.89L393.16 138.21L394.44 137.41L395.9 136.5L397.55 135.47L399.4 134.3L401.51 132.94L403.91 131.39L406.52 129.68L409.29 127.86L412.18 126L415.11 124.13L418.04 122.32L420.9 120.6L423.74 118.95L426.63 117.31L429.57 115.68L432.53 114.07L435.5 112.48L438.48 110.92L441.45 109.39L444.4 107.9L447.34 106.45L450.27 105.04L453.21 103.67L456.15 102.32L459.09 100.99L462.02 99.69L464.96 98.39L467.9 97.1L470.83 95.84L473.76 94.61L476.68 93.42L479.61 92.23L482.54 91.04L485.48 89.83L488.43 88.59L491.4 87.3L494.56 85.88L497.97 84.32L501.49 82.68L504.97 81.04L508.27 79.48L511.24 78.07L513.73 76.88L515.6 76" fill="none" stroke="#000" stroke-width="1.08" stroke-dasharray="5 3"/>
<path d="M542.6 132L542.27 132.32L541.94 132.67L541.56 133.09L541.08 133.59L540.44 134.2L539.6 134.94L538.5 135.83L537.1 136.9L535.32 138.19L533.19 139.71L530.78 141.39L528.18 143.2L525.47 145.08L522.73 146.97L520.05 148.83L517.5 150.6L515.05 152.31L512.6 154L510.15 155.69L507.7 157.39L505.25 159.09L502.8 160.8L500.35 162.54L497.9 164.3L495.48 166.11L493.09 167.98L490.72 169.89L488.34 171.8L485.94 173.69L483.47 175.54L480.94 177.32L478.3 179L475.56 180.62L472.74 182.22L469.86 183.79L466.91 185.29L463.92 186.71L460.9 188.03L457.86 189.24L454.8 190.3L451.7 191.21L448.53 191.97L445.3 192.61L442.06 193.16L438.83 193.62L435.62 194.04L432.47 194.42L429.4 194.8L426.26 195.15L422.96 195.44L419.62 195.68L416.36 195.88L413.3 196.04L410.56 196.18L408.25 196.3L406.5 196.4" fill="none" stroke="#000" stroke-width="1.08" stroke-dasharray="5 3"/>
<path d="M132.5 196.5L196.5 339" fill="none" stroke="#000" stroke-width="1.05" stroke-dasharray="9 2 2 2"/>
<path d="M499 32.5L563 174.3" fill="none" stroke="#000" stroke-width="1.05" stroke-dasharray="9 2 2 2"/>
<path d="M148.23 231.37L148.54 231.24L148.91 231.09L149.35 230.92L149.85 230.73L150.4 230.51L150.99 230.29L151.62 230.04L152.27 229.78L152.95 229.51L153.63 229.23L154.33 228.93L155.02 228.63L155.7 228.32L156.38 228.01L157.03 227.69L157.65 227.36L158.21 227.06L158.75 226.77L159.27 226.48L159.79 226.19L160.31 225.89L160.83 225.59L161.35 225.27L161.88 224.94L162.42 224.59L162.97 224.22L163.53 223.82L164.11 223.4L164.71 222.95L165.34 222.46L165.99 221.94L166.67 221.38L167.4 220.76L168.16 220.1L168.94 219.39L169.76 218.64L170.59 217.86L171.43 217.06L172.29 216.24L173.16 215.4L174.03 214.56L174.9 213.72L175.76 212.88L176.6 212.05L177.44 211.24L178.25 210.45L179.03 209.7L179.79 208.97L180.54 208.26L181.28 207.54L182.01 206.83L182.73 206.13L183.44 205.43L184.14 204.74L184.83 204.06L185.51 203.4L186.18 202.74L186.84 202.1L187.49 201.48L188.13 200.88L188.76 200.29L189.38 199.73L189.99 199.18L190.59 198.66L191.17 198.17L191.74 197.71L192.29 197.28L192.83 196.87L193.36 196.48L193.88 196.1L194.41 195.72L194.93 195.36L195.46 194.99L196 194.62L196.55 194.25L197.1 193.86L197.67 193.47L198.25 193.05L198.85 192.62L199.47 192.16L200.1 191.68L200.71 191.19L201.31 190.71L201.9 190.22L202.48 189.74L203.06 189.25L203.64 188.76L204.22 188.28L204.82 187.8L205.43 187.31L206.05 186.83L206.7 186.34L207.37 185.85L208.07 185.37L208.81 184.88L209.6 184.38L210.44 183.86L211.32 183.33L212.24 182.78L213.19 182.22L214.17 181.66L215.18 181.09L216.21 180.53L217.25 179.96L218.31 179.39L219.39 178.84L220.48 178.29L221.57 177.75L222.67 177.22L223.76 176.72L224.86 176.23L225.95 175.76L227.05 175.31L228.2 174.86L229.37 174.42L230.57 173.98L231.79 173.55L233.03 173.13L234.28 172.72L235.52 172.32L236.76 171.93L238 171.56L239.22 171.19L240.41 170.84L241.58 170.49L242.72 170.17L243.81 169.86L244.86 169.56L245.86 169.28L246.79 169.03L247.68 168.79L248.53 168.57L249.35 168.36L250.14 168.17L250.91 168L251.68 167.83L252.44 167.67L253.21 167.51L253.99 167.36L254.8 167.21L255.63 167.07L256.5 166.92L257.41 166.77L258.37 166.62L259.38 166.47L260.43 166.32L261.53 166.17L262.66 166.03L263.81 165.89L264.99 165.75L266.19 165.62L267.39 165.49L268.59 165.37L269.78 165.25L270.96 165.13L272.12 165.02L273.25 164.92L274.35 164.82L275.4 164.73L276.41 164.64L277.38 164.56L278.36 164.49L279.34 164.42L280.33 164.36L281.3 164.31L282.25 164.26L283.19 164.21L284.09 164.17L284.97 164.14L285.8 164.1L286.58 164.07L287.32 164.04L288 164.02L288.61 163.99L289.15 163.97L289.62 163.95" fill="none" stroke="#000" stroke-width="1.08" stroke-linejoin="round"/>
<path d="M146.37 226.83L146.71 226.7L147.12 226.53L147.58 226.35L148.08 226.16L148.63 225.94L149.21 225.72L149.82 225.48L150.45 225.23L151.1 224.97L151.75 224.7L152.4 224.43L153.04 224.15L153.66 223.87L154.25 223.59L154.82 223.32L155.35 223.04L155.88 222.75L156.4 222.47L156.9 222.19L157.38 221.92L157.86 221.65L158.32 221.38L158.78 221.1L159.24 220.81L159.71 220.51L160.19 220.18L160.68 219.84L161.2 219.46L161.73 219.06L162.3 218.62L162.9 218.14L163.53 217.62L164.19 217.06L164.9 216.43L165.65 215.76L166.42 215.05L167.23 214.3L168.06 213.51L168.9 212.71L169.75 211.88L170.61 211.05L171.48 210.21L172.33 209.37L173.18 208.54L174.02 207.73L174.84 206.93L175.64 206.16L176.41 205.43L177.15 204.72L177.87 204.02L178.59 203.32L179.3 202.63L180.01 201.93L180.71 201.25L181.4 200.57L182.09 199.89L182.77 199.23L183.44 198.57L184.12 197.93L184.78 197.3L185.44 196.69L186.1 196.09L186.76 195.5L187.41 194.94L188.05 194.4L188.68 193.89L189.29 193.41L189.88 192.96L190.46 192.52L191.03 192.11L191.59 191.72L192.14 191.33L192.69 190.95L193.23 190.58L193.77 190.21L194.3 189.84L194.85 189.46L195.4 189.07L195.96 188.67L196.53 188.24L197.09 187.81L197.65 187.37L198.21 186.92L198.77 186.45L199.33 185.98L199.91 185.49L200.5 185L201.11 184.49L201.74 183.98L202.4 183.46L203.08 182.93L203.79 182.4L204.54 181.86L205.32 181.31L206.14 180.77L207 180.22L207.89 179.68L208.8 179.12L209.76 178.56L210.74 177.98L211.75 177.4L212.79 176.82L213.85 176.23L214.94 175.64L216.04 175.06L217.16 174.48L218.29 173.9L219.43 173.34L220.58 172.79L221.73 172.26L222.89 171.74L224.05 171.24L225.23 170.76L226.44 170.28L227.67 169.82L228.93 169.36L230.2 168.92L231.48 168.49L232.76 168.06L234.04 167.65L235.31 167.25L236.57 166.87L237.81 166.49L239.03 166.13L240.22 165.79L241.37 165.46L242.47 165.14L243.54 164.84L244.55 164.56L245.51 164.29L246.44 164.05L247.32 163.82L248.18 163.61L249.01 163.4L249.83 163.22L250.65 163.04L251.46 162.87L252.27 162.7L253.09 162.54L253.94 162.39L254.8 162.24L255.7 162.09L256.64 161.93L257.63 161.78L258.67 161.62L259.76 161.47L260.89 161.32L262.05 161.17L263.24 161.02L264.44 160.89L265.66 160.75L266.87 160.62L268.09 160.49L269.3 160.37L270.49 160.26L271.66 160.15L272.81 160.04L273.91 159.94L274.98 159.85L275.99 159.76L277 159.68L278.02 159.6L279.03 159.53L280.04 159.47L281.03 159.42L282.01 159.36L282.96 159.32L283.88 159.28L284.76 159.24L285.6 159.21L286.4 159.18L287.13 159.15L287.8 159.12L288.41 159.1L288.93 159.07L289.38 159.05" fill="none" stroke="#000" stroke-width="1.08" stroke-linejoin="round"/>
<path d="M159.45 226.38L157.06 222.1" fill="none" stroke="#000" stroke-width="1.1"/>
<path d="M173.17 215.39L171.61 213.78" fill="none" stroke="#000" stroke-width="1"/>
<path d="M185.37 203.53L181.94 200.03" fill="none" stroke="#000" stroke-width="1.1"/>
<path d="M198.23 193.07L196.93 191.23" fill="none" stroke="#000" stroke-width="1"/>
<path d="M211.72 183.09L209.22 178.88" fill="none" stroke="#000" stroke-width="1.1"/>
<path d="M226.52 175.52L225.67 173.44" fill="none" stroke="#000" stroke-width="1"/>
<path d="M242.4 170.26L241.04 165.55" fill="none" stroke="#000" stroke-width="1.1"/>
<path d="M258.65 166.58L258.32 164.35" fill="none" stroke="#000" stroke-width="1"/>
<path d="M275.39 164.73L274.96 159.85" fill="none" stroke="#000" stroke-width="1.1"/>
<path d="M183.51 308.57L184.01 308.37L184.61 308.14L185.3 307.86L186.08 307.56L186.93 307.23L187.83 306.87L188.79 306.49L189.79 306.1L190.82 305.69L191.86 305.27L192.92 304.85L193.97 304.42L195.01 303.99L196.03 303.57L197.02 303.15L197.97 302.75L198.89 302.35L199.8 301.95L200.7 301.55L201.61 301.14L202.51 300.73L203.41 300.31L204.31 299.9L205.21 299.48L206.11 299.05L207.02 298.63L207.94 298.2L208.86 297.77L209.78 297.34L210.72 296.9L211.66 296.47L212.62 296.03L213.59 295.58L214.57 295.14L215.56 294.69L216.56 294.23L217.57 293.78L218.58 293.32L219.6 292.85L220.63 292.39L221.67 291.92L222.71 291.44L223.75 290.96L224.8 290.48L225.86 290L226.92 289.51L227.98 289.02L229.04 288.52L230.1 288.02L231.18 287.52L232.26 287.02L233.35 286.51L234.46 286L235.56 285.48L236.68 284.96L237.79 284.43L238.91 283.9L240.02 283.37L241.14 282.83L242.25 282.29L243.36 281.74L244.46 281.19L245.55 280.63L246.64 280.07L247.71 279.5L248.77 278.93L249.83 278.36L250.88 277.78L251.92 277.2L252.96 276.61L253.99 276.03L255.02 275.43L256.04 274.84L257.07 274.24L258.09 273.64L259.12 273.04L260.15 272.44L261.17 271.83L262.21 271.22L263.25 270.61L264.28 270L265.3 269.39L266.3 268.78L267.3 268.18L268.28 267.58L269.27 266.97L270.25 266.37L271.25 265.75L272.25 265.13L273.28 264.5L274.32 263.86L275.4 263.21L276.5 262.54L277.64 261.85L278.82 261.14L280.05 260.41L281.36 259.63L282.78 258.8L284.28 257.92L285.84 257.01L287.46 256.06L289.11 255.1L290.78 254.13L292.44 253.17L294.08 252.22L295.69 251.29L297.24 250.39L298.72 249.53L300.1 248.72L301.38 247.98L302.53 247.3L303.54 246.71L304.42 246.19L305.2 245.73L305.88 245.32L306.48 244.96L307 244.64L307.45 244.37L307.84 244.13L308.18 243.92L308.47 243.73L308.72 243.57L308.93 243.43L309.13 243.31L309.3 243.19L309.46 243.09L309.61 242.99L309.79 242.88" fill="none" stroke="#000" stroke-width="1.08" stroke-linejoin="round"/>
<path d="M181.69 304.03L182.2 303.82L182.81 303.58L183.51 303.3L184.29 303L185.13 302.67L186.04 302.31L186.99 301.93L187.98 301.54L189 301.14L190.04 300.72L191.08 300.3L192.12 299.88L193.15 299.46L194.15 299.05L195.11 298.64L196.03 298.25L196.92 297.86L197.81 297.47L198.7 297.08L199.58 296.68L200.47 296.27L201.36 295.86L202.25 295.45L203.14 295.04L204.04 294.62L204.95 294.19L205.86 293.76L206.78 293.33L207.71 292.9L208.66 292.46L209.61 292.02L210.58 291.57L211.56 291.13L212.54 290.68L213.53 290.23L214.54 289.77L215.54 289.31L216.56 288.85L217.58 288.39L218.61 287.93L219.64 287.46L220.67 286.98L221.71 286.51L222.76 286.03L223.8 285.55L224.85 285.06L225.91 284.57L226.96 284.08L228.03 283.58L229.11 283.08L230.19 282.57L231.29 282.07L232.39 281.55L233.49 281.04L234.59 280.52L235.7 280L236.8 279.48L237.9 278.95L239 278.43L240.09 277.89L241.17 277.36L242.25 276.82L243.31 276.28L244.36 275.73L245.41 275.18L246.44 274.62L247.47 274.06L248.5 273.5L249.52 272.93L250.54 272.35L251.55 271.77L252.57 271.19L253.58 270.6L254.6 270.01L255.62 269.42L256.64 268.82L257.66 268.22L258.69 267.61L259.72 267L260.75 266.39L261.78 265.78L262.78 265.19L263.77 264.59L264.75 264L265.72 263.4L266.7 262.8L267.68 262.2L268.68 261.58L269.69 260.96L270.71 260.33L271.77 259.68L272.85 259.02L273.96 258.35L275.11 257.65L276.31 256.93L277.55 256.19L278.87 255.41L280.29 254.57L281.8 253.69L283.37 252.77L285 251.83L286.65 250.87L288.32 249.9L289.98 248.93L291.63 247.98L293.23 247.05L294.78 246.15L296.25 245.29L297.64 244.49L298.91 243.75L300.06 243.08L301.06 242.49L301.93 241.98L302.69 241.52L303.36 241.12L303.94 240.77L304.45 240.46L304.88 240.2L305.25 239.97L305.56 239.77L305.83 239.6L306.06 239.45L306.27 239.32L306.46 239.2L306.64 239.08L306.82 238.96L307.01 238.84L307.21 238.72" fill="none" stroke="#000" stroke-width="1.08" stroke-linejoin="round"/>
<path d="M194.68 304.13L192.82 299.59" fill="none" stroke="#000" stroke-width="1.1"/>
<path d="M210.28 297.11L209.33 295.07" fill="none" stroke="#000" stroke-width="1"/>
<path d="M225.74 290.05L223.69 285.6" fill="none" stroke="#000" stroke-width="1.1"/>
<path d="M241.18 282.81L240.19 280.79" fill="none" stroke="#000" stroke-width="1"/>
<path d="M256.31 274.68L253.85 270.45" fill="none" stroke="#000" stroke-width="1.1"/>
<path d="M270.96 265.93L269.78 264.02" fill="none" stroke="#000" stroke-width="1"/>
<path d="M285.48 257.22L283.01 252.98" fill="none" stroke="#000" stroke-width="1.1"/>
<path d="M300.18 248.68L299.05 246.73" fill="none" stroke="#000" stroke-width="1"/>
<path d="M289.54 163.95L290.56 163.93L291.4 163.99L292.17 164.13L292.88 164.34L293.54 164.62L294.16 164.97L294.75 165.4L295.31 165.91L295.85 166.52L296.37 167.24L296.87 168.06L297.33 169L297.76 170.05L298.14 171.16L312.84 224.15L313.23 225.6L313.47 226.91L313.59 228.16L313.59 229.33L313.48 230.44L313.27 231.49L312.94 232.49L312.5 233.46L311.95 234.39L311.28 235.3L310.47 236.19L309.53 237.06L308.45 237.9L307.15 238.76" fill="none" stroke="#000" stroke-width="1.08" stroke-linejoin="round"/>
<path d="M289.46 159.05L290.7 159.03L292.01 159.13L293.29 159.36L294.53 159.72L295.7 160.22L296.82 160.85L297.85 161.6L298.81 162.48L299.68 163.46L300.46 164.54L301.17 165.71L301.8 166.98L302.36 168.34L302.86 169.84L317.56 222.85L318.01 224.52L318.32 226.23L318.48 227.91L318.49 229.56L318.33 231.17L318 232.74L317.51 234.26L316.85 235.72L316.03 237.1L315.06 238.41L313.95 239.65L312.69 240.8L311.3 241.88L309.85 242.84" fill="none" stroke="#000" stroke-width="1.08" stroke-linejoin="round"/>
<path d="M511.62 62.21L511.09 62.42L510.44 62.66L509.68 62.94L508.84 63.26L507.92 63.6L506.93 63.97L505.89 64.36L504.81 64.77L503.69 65.19L502.56 65.63L501.42 66.07L500.29 66.51L499.17 66.95L498.08 67.39L497.03 67.83L496.03 68.25L495.07 68.67L494.13 69.09L493.2 69.51L492.29 69.94L491.38 70.37L490.48 70.8L489.59 71.24L488.69 71.67L487.79 72.11L486.89 72.56L485.98 73L485.06 73.45L484.12 73.9L483.16 74.35L482.19 74.81L481.19 75.27L480.15 75.74L479.09 76.21L478 76.69L476.89 77.17L475.75 77.66L474.6 78.15L473.44 78.65L472.27 79.16L471.09 79.66L469.91 80.17L468.73 80.68L467.56 81.2L466.39 81.72L465.23 82.24L464.09 82.76L462.96 83.28L461.86 83.8L460.77 84.31L459.68 84.83L458.6 85.35L457.53 85.86L456.46 86.38L455.4 86.91L454.33 87.43L453.27 87.96L452.21 88.5L451.15 89.04L450.09 89.58L449.03 90.14L447.97 90.7L446.9 91.27L445.83 91.85L444.75 92.44L443.67 93.05L442.58 93.66L441.5 94.29L440.42 94.92L439.34 95.55L438.26 96.19L437.18 96.84L436.11 97.48L435.04 98.12L433.97 98.76L432.92 99.4L431.86 100.03L430.82 100.66L429.78 101.28L428.75 101.89L427.73 102.5L426.7 103.1L425.67 103.71L424.64 104.31L423.62 104.91L422.6 105.51L421.58 106.11L420.57 106.7L419.56 107.3L418.56 107.89L417.56 108.48L416.58 109.07L415.6 109.66L414.63 110.25L413.67 110.83L412.71 111.41L411.77 112L410.85 112.58L409.93 113.15L409.02 113.73L408.12 114.3L407.23 114.87L406.35 115.44L405.48 116.01L404.61 116.57L403.75 117.13L402.9 117.69L402.04 118.25L401.2 118.8L400.35 119.35L399.51 119.9L398.67 120.44L397.8 121.01L396.9 121.59L395.98 122.19L395.04 122.81L394.09 123.43L393.14 124.05L392.2 124.66L391.28 125.26L390.39 125.85L389.54 126.41L388.73 126.94L387.97 127.44L387.28 127.89L386.65 128.3L386.11 128.65L385.66 128.95" fill="none" stroke="#000" stroke-width="1.08" stroke-linejoin="round"/>
<path d="M513.38 66.79L512.83 67L512.16 67.25L511.4 67.53L510.56 67.85L509.63 68.19L508.65 68.56L507.62 68.95L506.54 69.35L505.44 69.77L504.32 70.2L503.2 70.63L502.09 71.07L500.99 71.5L499.94 71.93L498.92 72.35L497.97 72.75L497.05 73.15L496.15 73.55L495.26 73.96L494.37 74.37L493.49 74.79L492.61 75.21L491.73 75.64L490.85 76.08L489.95 76.51L489.05 76.96L488.12 77.41L487.19 77.86L486.23 78.32L485.25 78.79L484.25 79.26L483.21 79.73L482.15 80.21L481.07 80.69L479.96 81.18L478.84 81.67L477.69 82.16L476.54 82.66L475.37 83.16L474.2 83.66L473.03 84.16L471.86 84.67L470.69 85.17L469.53 85.68L468.38 86.19L467.25 86.7L466.13 87.21L465.04 87.72L463.95 88.23L462.87 88.74L461.79 89.25L460.73 89.76L459.67 90.27L458.61 90.79L457.56 91.3L456.52 91.82L455.47 92.34L454.43 92.87L453.39 93.4L452.35 93.93L451.31 94.48L450.27 95.03L449.22 95.58L448.17 96.15L447.12 96.73L446.07 97.32L445.01 97.92L443.95 98.53L442.89 99.15L441.83 99.77L440.76 100.4L439.7 101.04L438.63 101.68L437.57 102.32L436.5 102.96L435.44 103.6L434.39 104.23L433.34 104.87L432.29 105.49L431.25 106.11L430.21 106.72L429.18 107.33L428.15 107.93L427.12 108.53L426.1 109.14L425.08 109.73L424.06 110.33L423.06 110.92L422.05 111.51L421.06 112.1L420.07 112.69L419.09 113.27L418.13 113.86L417.17 114.43L416.22 115.01L415.29 115.59L414.36 116.16L413.45 116.73L412.55 117.3L411.65 117.86L410.76 118.43L409.89 118.99L409.01 119.56L408.15 120.12L407.28 120.68L406.43 121.24L405.57 121.79L404.72 122.35L403.87 122.9L403.03 123.46L402.18 124.01L401.33 124.56L400.47 125.12L399.57 125.7L398.65 126.3L397.71 126.91L396.77 127.53L395.82 128.15L394.89 128.76L393.97 129.36L393.08 129.95L392.22 130.51L391.41 131.04L390.66 131.53L389.96 131.99L389.34 132.4L388.8 132.75L388.34 133.05" fill="none" stroke="#000" stroke-width="1.08" stroke-linejoin="round"/>
<path d="M500.39 66.47L502.17 71.04" fill="none" stroke="#000" stroke-width="1.1"/>
<path d="M484.76 73.59L485.73 75.62" fill="none" stroke="#000" stroke-width="1"/>
<path d="M469.3 80.44L471.25 84.93" fill="none" stroke="#000" stroke-width="1.1"/>
<path d="M453.79 87.7L454.79 89.72" fill="none" stroke="#000" stroke-width="1"/>
<path d="M438.71 95.92L441.21 100.14" fill="none" stroke="#000" stroke-width="1.1"/>
<path d="M424.11 104.62L425.25 106.56" fill="none" stroke="#000" stroke-width="1"/>
<path d="M409.48 113.44L412.11 117.57" fill="none" stroke="#000" stroke-width="1.1"/>
<path d="M395.19 122.7L396.42 124.59" fill="none" stroke="#000" stroke-width="1"/>
<path d="M407.6 211.05L407.72 211.04L407.82 211.04L407.92 211.04L408.04 211.03L408.17 211.03L408.32 211.03L408.5 211.02L408.7 211.02L408.94 211.01L409.21 211L409.52 210.98L409.87 210.96L410.28 210.94L410.74 210.92L411.27 210.88L411.85 210.85L412.51 210.8L413.24 210.76L414.04 210.72L414.91 210.67L415.83 210.62L416.8 210.56L417.82 210.5L418.86 210.44L419.94 210.37L421.03 210.3L422.14 210.22L423.26 210.14L424.38 210.05L425.49 209.95L426.59 209.85L427.66 209.74L428.72 209.62L429.79 209.5L430.87 209.37L431.96 209.24L433.06 209.11L434.17 208.96L435.29 208.82L436.41 208.66L437.54 208.5L438.67 208.34L439.8 208.17L440.94 207.99L442.07 207.8L443.2 207.61L444.33 207.41L445.45 207.21L446.55 207L447.66 206.8L448.78 206.59L449.9 206.38L451.03 206.16L452.16 205.94L453.3 205.7L454.43 205.46L455.57 205.21L456.71 204.95L457.84 204.67L458.98 204.38L460.11 204.07L461.24 203.74L462.37 203.39L463.49 203.02L464.6 202.63L465.69 202.23L466.79 201.81L467.87 201.38L468.95 200.93L470.03 200.47L471.1 199.99L472.16 199.5L473.22 199L474.27 198.49L475.32 197.97L476.36 197.44L477.4 196.91L478.43 196.36L479.46 195.81L480.49 195.24L481.52 194.67L482.54 194.08L483.56 193.47L484.57 192.86L485.58 192.23L486.58 191.6L487.57 190.96L488.56 190.31L489.55 189.65L490.54 188.98L491.52 188.31L492.5 187.64L493.47 186.96L494.45 186.28L495.43 185.59L496.41 184.9L497.4 184.2L498.4 183.48L499.39 182.76L500.37 182.02L501.36 181.28L502.34 180.54L503.32 179.79L504.3 179.03L505.27 178.28L506.25 177.53L507.22 176.77L508.19 176.02L509.16 175.27L510.13 174.53L511.1 173.79L512.07 173.06L513.05 172.32L514.03 171.59L515.02 170.85L516.01 170.11L517 169.37L517.99 168.63L518.98 167.89L519.97 167.15L520.96 166.42L521.94 165.68L522.93 164.95L523.9 164.23L524.88 163.5L525.84 162.79L526.8 162.08L527.76 161.37L528.71 160.66L529.69 159.95L530.67 159.23L531.66 158.5L532.66 157.78L533.66 157.05L534.64 156.34L535.62 155.62L536.59 154.92L537.53 154.24L538.44 153.57L539.33 152.91L540.18 152.28L541 151.68L541.77 151.09L542.49 150.54L543.18 150.01L543.83 149.5L544.45 149L545.05 148.52L545.61 148.05L546.14 147.61L546.64 147.19L547.11 146.78L547.56 146.4L547.97 146.05L548.35 145.72L548.7 145.41L549.01 145.13L549.3 144.88L549.55 144.67L549.78 144.47" fill="none" stroke="#000" stroke-width="1.08" stroke-linejoin="round"/>
<path d="M407.4 206.15L407.53 206.15L407.67 206.14L407.81 206.14L407.93 206.14L408.06 206.13L408.2 206.13L408.36 206.13L408.53 206.12L408.74 206.11L408.99 206.1L409.28 206.09L409.61 206.07L410 206.05L410.45 206.02L410.96 205.99L411.55 205.95L412.21 205.91L412.96 205.87L413.77 205.82L414.64 205.77L415.56 205.72L416.52 205.67L417.53 205.61L418.56 205.55L419.62 205.48L420.7 205.41L421.79 205.33L422.88 205.25L423.97 205.16L425.05 205.07L426.1 204.97L427.14 204.86L428.18 204.75L429.23 204.63L430.29 204.51L431.37 204.38L432.45 204.24L433.54 204.11L434.64 203.96L435.74 203.81L436.84 203.65L437.95 203.49L439.05 203.33L440.16 203.15L441.26 202.97L442.36 202.78L443.46 202.59L444.55 202.39L445.66 202.19L446.77 201.98L447.88 201.77L448.98 201.56L450.09 201.35L451.2 201.13L452.3 200.91L453.39 200.67L454.49 200.43L455.57 200.18L456.65 199.92L457.72 199.64L458.78 199.35L459.84 199.04L460.88 198.72L461.91 198.38L462.94 198.02L463.97 197.64L465 197.25L466.02 196.84L467.04 196.41L468.06 195.98L469.08 195.52L470.09 195.06L471.1 194.58L472.11 194.09L473.12 193.6L474.12 193.09L475.12 192.57L476.12 192.04L477.12 191.5L478.11 190.96L479.1 190.41L480.07 189.85L481.04 189.27L482.01 188.68L482.97 188.08L483.94 187.47L484.9 186.85L485.86 186.22L486.82 185.58L487.78 184.93L488.75 184.27L489.71 183.61L490.68 182.94L491.64 182.26L492.62 181.58L493.59 180.9L494.55 180.21L495.51 179.52L496.47 178.81L497.44 178.1L498.4 177.37L499.37 176.64L500.34 175.9L501.3 175.15L502.27 174.4L503.25 173.65L504.22 172.9L505.2 172.14L506.18 171.39L507.16 170.63L508.14 169.89L509.13 169.14L510.11 168.4L511.1 167.67L512.08 166.93L513.07 166.18L514.07 165.44L515.06 164.7L516.05 163.96L517.04 163.22L518.03 162.49L519.02 161.75L520 161.02L520.98 160.29L521.96 159.57L522.93 158.85L523.89 158.14L524.84 157.43L525.81 156.72L526.79 156L527.78 155.27L528.78 154.54L529.78 153.82L530.77 153.09L531.76 152.37L532.74 151.66L533.7 150.96L534.63 150.28L535.54 149.62L536.42 148.97L537.26 148.35L538.06 147.75L538.81 147.19L539.51 146.66L540.16 146.15L540.79 145.66L541.38 145.18L541.94 144.73L542.48 144.28L542.99 143.86L543.47 143.45L543.92 143.07L544.35 142.7L544.75 142.35L545.12 142.03L545.47 141.72L545.79 141.44L546.09 141.18L546.37 140.94L546.62 140.73" fill="none" stroke="#000" stroke-width="1.08" stroke-linejoin="round"/>
<path d="M417.63 210.51L417.34 205.62" fill="none" stroke="#000" stroke-width="1.1"/>
<path d="M434.73 208.89L434.43 206.66" fill="none" stroke="#000" stroke-width="1"/>
<path d="M451.64 206.04L450.69 201.23" fill="none" stroke="#000" stroke-width="1.1"/>
<path d="M468.4 201.16L467.53 199.08" fill="none" stroke="#000" stroke-width="1"/>
<path d="M483.87 193.29L481.32 189.1" fill="none" stroke="#000" stroke-width="1.1"/>
<path d="M498.12 183.68L496.81 181.86" fill="none" stroke="#000" stroke-width="1"/>
<path d="M511.69 173.35L508.74 169.44" fill="none" stroke="#000" stroke-width="1.1"/>
<path d="M525.3 163.19L523.96 161.39" fill="none" stroke="#000" stroke-width="1"/>
<path d="M539 153.15L536.1 149.21" fill="none" stroke="#000" stroke-width="1.1"/>
<path d="M385.62 128.98L384.19 129.95L382.82 131L381.55 132.09L380.38 133.21L379.33 134.38L378.37 135.59L377.54 136.84L376.81 138.14L376.21 139.48L375.73 140.85L375.37 142.26L375.14 143.7L375.03 145.16L375.16 147.22L390.96 197.24L391.54 198.97L392.21 200.63L392.97 202.19L393.84 203.64L394.8 204.98L395.85 206.2L397.01 207.29L398.26 208.25L399.61 209.07L401.03 209.75L402.54 210.29L404.11 210.68L405.74 210.93L407.33 211.04" fill="none" stroke="#000" stroke-width="1.08" stroke-linejoin="round"/>
<path d="M388.38 133.02L387.06 133.93L385.9 134.82L384.84 135.71L383.9 136.62L383.07 137.54L382.34 138.47L381.71 139.41L381.19 140.35L380.76 141.3L380.42 142.27L380.17 143.25L380.01 144.26L379.93 145.3L379.84 145.78L395.64 195.76L396.14 197.29L396.68 198.64L397.29 199.86L397.94 200.96L398.64 201.94L399.39 202.81L400.19 203.56L401.04 204.21L401.94 204.77L402.91 205.23L403.95 205.6L405.07 205.88L406.28 206.06L407.67 206.16" fill="none" stroke="#000" stroke-width="1.08" stroke-linejoin="round"/>
<path d="M308.4 26L330.6 107.8L372.6 238.9L385 260L413.4 310.2L448.6 367.5" fill="none" stroke="#a8a8a8" stroke-width="1.35" stroke-linejoin="round"/>
<path d="M319.3 26L349.4 127L369.4 190L390 250L395 260L409.3 289.3L457.8 367.5" fill="none" stroke="#a8a8a8" stroke-width="1.35" stroke-linejoin="round"/>
<path d="M335.2 26L366 127L392.6 200L406.4 240.1L416.8 260L420 267.5L482 367.5" fill="none" stroke="#a8a8a8" stroke-width="1.35" stroke-linejoin="round"/>
<path d="M343.5 26L375.3 127L398.9 202.5L413.9 240.1L427.7 260L495.4 367.5" fill="none" stroke="#a8a8a8" stroke-width="1.35" stroke-linejoin="round"/>
<path d="M296 182.6L386.82 153.82" fill="none" stroke="#000" stroke-width="1.3"/>
<path d="M298.81 191.48L389.64 162.7" fill="none" stroke="#000" stroke-width="1.3"/>
<path d="M301.63 200.36L392.45 171.58" fill="none" stroke="#000" stroke-width="1.3"/>
<path d="M304.44 209.25L395.26 180.47" fill="none" stroke="#000" stroke-width="1.3"/>
<path d="M307.26 218.13L398.08 189.35" fill="none" stroke="#000" stroke-width="1.3"/>
<path d="M296 182.6L307.26 218.15" fill="none" stroke="#000" stroke-width="1.3"/>
<path d="M386.82 153.82L398.09 189.37" fill="none" stroke="#000" stroke-width="1.3"/>
<path d="M284.58 174.68L301.49 228.05" fill="none" stroke="#000" stroke-width="1.15" stroke-dasharray="5 2"/>
<path d="M287.44 173.78L304.35 227.15" fill="none" stroke="#000" stroke-width="1.15" stroke-dasharray="5 2"/>
<path d="M291.55 173.52L294.57 183.05" fill="none" stroke="#000" stroke-width="1.15"/>
<path d="M301.49 228.05L308.64 225.79" fill="none" stroke="#000" stroke-width="1.15"/>
<path d="M317.35 173.21L330.04 213.24" fill="none" stroke="#000" stroke-width="1.25"/>
<path d="M316.11 175.91L320.11 175.28" fill="none" stroke="#000" stroke-width="1.25"/>
<path d="M327.38 211.46L331.37 210.82" fill="none" stroke="#000" stroke-width="1.25"/>
<path d="M388.08 143.25L405.36 197.76" fill="none" stroke="#000" stroke-width="1.25"/>
<path d="M392.47 141.86L409.74 196.37" fill="none" stroke="#000" stroke-width="1.25"/>
<path d="M388.08 143.25L410.86 136.03" fill="none" stroke="#000" stroke-width="1.25"/>
<path d="M410.86 136.03L428.14 190.54" fill="none" stroke="#000" stroke-width="1.25"/>
<path d="M405.06 196.81L427.83 189.59" fill="none" stroke="#000" stroke-width="1.25" stroke-dasharray="4 2"/>
<path d="M394.64 148.72L413.04 142.89" fill="none" stroke="#000" stroke-width="1.25"/>
<path d="M398.18 159.87L416.57 154.04" fill="none" stroke="#000" stroke-width="1.25"/>
<path d="M401.14 169.21L419.53 163.38" fill="none" stroke="#000" stroke-width="1.25"/>
<path d="M403.52 176.74L421.91 170.91" fill="none" stroke="#000" stroke-width="1.25"/>
<path d="M406.48 186.08L424.87 180.25" fill="none" stroke="#000" stroke-width="1.25"/>
<path d="M396.47 140.59L413.75 195.1" fill="none" stroke="#000" stroke-width="1.15"/>
<path d="M317.23 112.54L314.98 115.36M317.92 114.68L315.67 117.51M318.6 116.83L316.36 119.65M319.29 118.97L317.04 121.79M319.98 121.11L317.73 123.93M320.66 123.26L318.42 126.08M321.35 125.4L319.1 128.22M322.04 127.54L319.79 130.36M322.72 129.68L320.48 132.5M323.41 131.83L321.16 134.65M324.1 133.97L321.85 136.79M324.78 136.11L322.54 138.93M325.47 138.25L323.22 141.07M326.16 140.4L323.91 143.22M326.84 142.54L324.6 145.36M327.53 144.68L325.29 147.5M328.22 146.82L325.97 149.64M328.91 148.97L326.66 151.79M329.59 151.11L327.35 153.93M330.28 153.25L328.03 156.07M330.97 155.39L328.72 158.21M331.65 157.54L329.41 160.36M332.34 159.68L330.09 162.5M333.03 161.82L330.78 164.64M333.71 163.96L331.47 166.78M334.4 166.11L332.15 168.93M335.09 168.25L332.84 171.07M335.77 170.39L333.53 173.21M336.46 172.53L334.21 175.36M337.15 174.68L334.9 177.5M337.83 176.82L335.59 179.64M338.52 178.96L336.28 181.78M339.21 181.11L336.96 183.93M339.9 183.25L337.65 186.07M340.58 185.39L338.34 188.21M341.27 187.53L339.02 190.35M341.96 189.68L339.71 192.5M342.64 191.82L340.4 194.64M343.33 193.96L341.08 196.78M344.02 196.1L341.77 198.92M344.7 198.25L342.46 201.07M345.39 200.39L343.14 203.21M346.08 202.53L343.83 205.35M346.76 204.67L344.52 207.49M347.45 206.82L345.2 209.64M348.14 208.96L345.89 211.78M348.82 211.1L346.58 213.92M349.51 213.24L347.27 216.06M350.2 215.39L347.95 218.21M350.89 217.53L348.64 220.35M351.57 219.67L349.33 222.49M352.26 221.81L350.01 224.63M352.95 223.96L350.7 226.78M353.63 226.1L351.39 228.92M354.32 228.24L352.07 231.06M355.01 230.38L352.76 233.21M355.69 232.53L353.45 235.35M356.38 234.67L354.13 237.49M357.07 236.81L354.82 239.63M357.75 238.96L355.51 241.78M358.44 241.1L356.19 243.92M359.13 243.24L356.88 246.06M359.81 245.38L357.57 248.2M360.5 247.53L358.26 250.35M361.19 249.67L358.94 252.49M361.88 251.81L359.63 254.63M362.56 253.95L360.32 256.77M363.25 256.1L361 258.92M363.94 258.24L361.69 261.06M364.62 260.38L362.38 263.2M365.31 262.52L363.06 265.34M366 264.67L363.75 267.49M366.68 266.81L364.44 269.63M367.37 268.95L365.12 271.77M368.06 271.09L365.81 273.91M368.74 273.24L366.5 276.06M369.43 275.38L367.18 278.2M370.12 277.52L367.87 280.34M370.8 279.66L368.56 282.48M371.49 281.81L369.24 284.63M372.18 283.95L369.93 286.77M372.86 286.09L370.62 288.91M373.55 288.23L371.31 291.06M374.24 290.38L371.99 293.2M374.93 292.52L372.68 295.34M375.61 294.66L373.37 297.48M376.3 296.81L374.05 299.63M376.99 298.95L374.74 301.77M377.67 301.09L375.43 303.91M378.36 303.23L376.11 306.05M379.05 305.38L376.8 308.2" fill="none" stroke="#000" stroke-width="1.4"/>
<path d="M331.83 107.34L329.58 110.16M332.52 109.48L330.27 112.31M333.2 111.63L330.96 114.45M333.89 113.77L331.65 116.59M334.58 115.91L332.33 118.73M335.27 118.05L333.02 120.87M335.95 120.2L333.71 123.02M336.64 122.34L334.4 125.16M337.33 124.48L335.08 127.3M338.02 126.62L335.77 129.44M338.7 128.77L336.46 131.59M339.39 130.91L337.15 133.73M340.08 133.05L337.83 135.87M340.77 135.19L338.52 138.01M341.45 137.33L339.21 140.16M342.14 139.48L339.9 142.3M342.83 141.62L340.58 144.44M343.52 143.76L341.27 146.58M344.2 145.9L341.96 148.73M344.89 148.05L342.65 150.87M345.58 150.19L343.33 153.01M346.27 152.33L344.02 155.15M346.96 154.47L344.71 157.29M347.64 156.62L345.4 159.44M348.33 158.76L346.09 161.58M349.02 160.9L346.77 163.72M349.71 163.04L347.46 165.86M350.39 165.19L348.15 168.01M351.08 167.33L348.84 170.15M351.77 169.47L349.52 172.29M352.46 171.61L350.21 174.43M353.14 173.75L350.9 176.58M353.83 175.9L351.59 178.72M354.52 178.04L352.27 180.86M355.21 180.18L352.96 183M355.89 182.32L353.65 185.15M356.58 184.47L354.34 187.29M357.27 186.61L355.02 189.43M357.96 188.75L355.71 191.57M358.64 190.89L356.4 193.71M359.33 193.04L357.09 195.86M360.02 195.18L357.77 198M360.71 197.32L358.46 200.14M361.39 199.46L359.15 202.28M362.08 201.61L359.84 204.43M362.77 203.75L360.52 206.57M363.46 205.89L361.21 208.71M364.14 208.03L361.9 210.85M364.83 210.18L362.59 213M365.52 212.32L363.27 215.14M366.21 214.46L363.96 217.28M366.9 216.6L364.65 219.42M367.58 218.74L365.34 221.57M368.27 220.89L366.03 223.71M368.96 223.03L366.71 225.85M369.65 225.17L367.4 227.99M370.33 227.31L368.09 230.14M371.02 229.46L368.78 232.28M371.71 231.6L369.46 234.42M372.4 233.74L370.15 236.56M373.08 235.88L370.84 238.7M373.77 238.03L371.53 240.85M374.46 240.17L372.21 242.99M375.15 242.31L372.9 245.13M375.83 244.45L373.59 247.27M376.52 246.6L374.28 249.42M377.21 248.74L374.96 251.56M377.9 250.88L375.65 253.7M378.58 253.02L376.34 255.84M379.27 255.16L377.03 257.99M379.96 257.31L377.71 260.13M380.65 259.45L378.4 262.27M381.33 261.59L379.09 264.41M382.02 263.73L379.78 266.56M382.71 265.88L380.46 268.7M383.4 268.02L381.15 270.84M384.09 270.16L381.84 272.98M384.77 272.3L382.53 275.12M385.46 274.45L383.21 277.27M386.15 276.59L383.9 279.41M386.84 278.73L384.59 281.55M387.52 280.87L385.28 283.69M388.21 283.02L385.97 285.84M388.9 285.16L386.65 287.98M389.59 287.3L387.34 290.12M390.27 289.44L388.03 292.26M390.96 291.58L388.72 294.41M391.65 293.73L389.4 296.55M392.34 295.87L390.09 298.69M393.02 298.01L390.78 300.83M393.71 300.15L391.47 302.98" fill="none" stroke="#000" stroke-width="1.4"/>
<path d="M243.6 218.5L297.4 201.8" fill="none" stroke="#000" stroke-width="1"/>
<path d="M248.6 218.8L246.6 228.6L256.4 227.2Z" fill="#fff" stroke="#000" stroke-width="1"/>
<path d="M252.6 228.4L260 253.2" fill="none" stroke="#000" stroke-width="1"/>
<text x="238.6" y="249.6" font-size="14" text-anchor="start" fill="#000" transform="rotate(-14 238.6 249.6)" textLength="9" lengthAdjust="spacingAndGlyphs">A</text>
<path d="M398 167.8L455.4 151.6" fill="none" stroke="#000" stroke-width="1"/>
<path d="M450.5 153.1L449 164.9L458.7 162.3Z" fill="#fff" stroke="#000" stroke-width="1"/>
<path d="M453.8 163.7L460.7 184.4" fill="none" stroke="#000" stroke-width="1"/>
<text x="469" y="176.6" font-size="14" text-anchor="start" fill="#000" transform="rotate(-16 469 176.6)" textLength="9" lengthAdjust="spacingAndGlyphs">A</text>
<path d="M303.7 112.3L298 140.7L294.9 158.9" fill="none" stroke="#000" stroke-width="1.2"/>
<path d="M299.8 121.6L302.6 122.4" fill="none" stroke="#000" stroke-width="1.2"/>
<path d="M313.8 230.3L354.5 271" fill="none" stroke="#000" stroke-width="1.2"/>
<circle cx="298" cy="140.7" r="1.45" fill="#000"/>
<circle cx="294.9" cy="158.9" r="1.45" fill="#000"/>
<circle cx="315.6" cy="232.2" r="1.45" fill="#000"/>
<circle cx="333.6" cy="250.2" r="1.45" fill="#000"/>
<circle cx="347.2" cy="263.8" r="1.45" fill="#000"/>
<path d="M241 122.6L287.4 122.6L298 140.7" fill="none" stroke="#000" stroke-width="1.2"/>
<text transform="translate(241.2 121.4) scale(0.78 1)" x="0" y="0" font-size="4.2" fill="#111" textLength="47.18" lengthAdjust="spacing">Plaatsen bouwhek</text>
<path d="M307.9 90.8L324.8 85.6" fill="none" stroke="#000" stroke-width="1.5"/>
<path d="M307.9 90.8L313.97 90.13L313.3 87.94Z" fill="#000" stroke="none" stroke-width="0"/>
<path d="M324.8 85.6L319.4 88.46L318.73 86.27Z" fill="#000" stroke="none" stroke-width="0"/>
<text x="315.97" y="86.96" font-size="4.2" text-anchor="middle" fill="#222" transform="rotate(-17.1 315.97 86.96)">1.60</text>
<path d="M312.4 99.7L326.7 95.3" fill="none" stroke="#000" stroke-width="1.5"/>
<path d="M312.4 99.7L318.47 99.03L317.8 96.84Z" fill="#000" stroke="none" stroke-width="0"/>
<path d="M326.7 95.3L321.3 98.16L320.63 95.97Z" fill="#000" stroke="none" stroke-width="0"/>
<text x="319.17" y="96.26" font-size="4.2" text-anchor="middle" fill="#222" transform="rotate(-17.1 319.17 96.26)">1.60</text>
<path d="M323.3 82.1L327.4 97.9" fill="none" stroke="#000" stroke-width="1.2"/>
<path d="M307 87.5L309.5 94.7" fill="none" stroke="#000" stroke-width="1.2"/>
<path d="M311.4 95.9L313.5 103.1" fill="none" stroke="#000" stroke-width="1.2"/>
<path d="M317.7 249.3L408.5 220.7" fill="none" stroke="#000" stroke-width="1.1"/>
<path d="M318.78 252.73L316.62 245.87" fill="none" stroke="#000" stroke-width="1.1"/>
<path d="M409.58 224.13L407.42 217.27" fill="none" stroke="#000" stroke-width="1.1"/>
<path d="M317.7 249.3L323.77 248.59L323.08 246.4Z" fill="#000" stroke="none" stroke-width="0"/>
<path d="M408.5 220.7L403.12 223.6L402.43 221.41Z" fill="#000" stroke="none" stroke-width="0"/>
<text x="361.8" y="234.05" font-size="4.2" text-anchor="middle" fill="#222" transform="rotate(-17.48 361.8 234.05)">10.00</text>
<path d="M302.7 269.4L320.2 263.8" fill="none" stroke="#000" stroke-width="1.1"/>
<path d="M302.7 269.4L308.77 268.67L308.06 266.48Z" fill="#000" stroke="none" stroke-width="0"/>
<path d="M320.2 263.8L314.84 266.72L314.13 264.53Z" fill="#000" stroke="none" stroke-width="0"/>
<text x="308.43" y="266.2" font-size="4.2" text-anchor="middle" fill="#222" transform="rotate(-17.74 308.43 266.2)">1.00</text>
<path d="M319.3 261L320.9 266.6" fill="none" stroke="#000" stroke-width="1.25"/>
<path d="M326.6 258.8L328.2 264.4" fill="none" stroke="#000" stroke-width="1.25"/>
<path d="M327.4 261.6L333.6 259.6" fill="none" stroke="#000" stroke-width="1.25"/>
<path d="M390.8 241.4L403.9 237.3" fill="none" stroke="#000" stroke-width="1.1"/>
<path d="M390.8 241.4L396.65 240.78L395.96 238.58Z" fill="#000" stroke="none" stroke-width="0"/>
<path d="M403.9 237.3L398.74 240.12L398.05 237.92Z" fill="#000" stroke="none" stroke-width="0"/>
<text x="395.65" y="238.52" font-size="4.2" text-anchor="middle" fill="#222" transform="rotate(-17.38 395.65 238.52)">1.00</text>
<path d="M403.9 237.3L412.7 234.5" fill="none" stroke="#000" stroke-width="1.6"/>
<path d="M404.99 240.73L402.81 233.87" fill="none" stroke="#000" stroke-width="1.6"/>
<path d="M413.79 237.93L411.61 231.07" fill="none" stroke="#000" stroke-width="1.6"/>
<path d="M403.9 237.3L407.94 237.22L407.25 235.03Z" fill="#000" stroke="none" stroke-width="0"/>
<path d="M412.7 234.5L409.35 236.77L408.66 234.58Z" fill="#000" stroke="none" stroke-width="0"/>
<path d="M412.7 234.5L421.5 231.7" fill="none" stroke="#000" stroke-width="1.1"/>
<path d="M413.79 237.93L411.61 231.07" fill="none" stroke="#000" stroke-width="1.1"/>
<path d="M422.59 235.13L420.41 228.27" fill="none" stroke="#000" stroke-width="1.1"/>
<path d="M412.7 234.5L416.74 234.42L416.05 232.23Z" fill="#000" stroke="none" stroke-width="0"/>
<path d="M421.5 231.7L418.15 233.97L417.46 231.78Z" fill="#000" stroke="none" stroke-width="0"/>
<path d="M421.5 231.7L427.7 229.8" fill="none" stroke="#000" stroke-width="1.25"/>
<path d="M417.7 233.2L422.7 241.6L432.7 238.6" fill="none" stroke="#000" stroke-width="1.15"/>
<text x="427.3" y="238.6" font-size="4" text-anchor="middle" fill="#000" transform="rotate(-17 427.3 238.6)">1.00</text>
<path d="M409 255L445 243.5" fill="none" stroke="#000" stroke-width="1.1"/>
<path d="M410.1 258.43L407.9 251.57" fill="none" stroke="#000" stroke-width="1.1"/>
<path d="M446.1 246.93L443.9 240.07" fill="none" stroke="#000" stroke-width="1.1"/>
<path d="M409 255L415.07 254.27L414.37 252.08Z" fill="#000" stroke="none" stroke-width="0"/>
<path d="M445 243.5L439.63 246.42L438.93 244.23Z" fill="#000" stroke="none" stroke-width="0"/>
<text x="426.6" y="248.01" font-size="4.2" text-anchor="middle" fill="#222" transform="rotate(-17.72 426.6 248.01)">4.00</text>
<text transform="translate(271 111.7) scale(0.8 1)" x="-6.25" y="0" font-size="4.2" fill="#b6b6b6" textLength="12.5" lengthAdjust="spacing">-4.33</text>
<text transform="translate(228 130.5) scale(0.8 1)" x="-6.25" y="0" font-size="4.2" fill="#b6b6b6" textLength="12.5" lengthAdjust="spacing">-4.27</text>
<text transform="translate(278.8 128.6) scale(0.8 1)" x="-6.25" y="0" font-size="4.2" fill="#b6b6b6" textLength="12.5" lengthAdjust="spacing">-4.29</text>
<text transform="translate(185 150.5) scale(0.8 1)" x="-6.25" y="0" font-size="4.2" fill="#b6b6b6" textLength="12.5" lengthAdjust="spacing">-3.93</text>
<text transform="translate(235.7 148.3) scale(0.8 1)" x="-6.25" y="0" font-size="4.2" fill="#b6b6b6" textLength="12.5" lengthAdjust="spacing">-4.26</text>
<text transform="translate(286.7 145.6) scale(0.8 1)" x="-6.25" y="0" font-size="4.2" fill="#b6b6b6" textLength="12.5" lengthAdjust="spacing">-4.28</text>
<text transform="translate(143 169.3) scale(0.8 1)" x="-6.25" y="0" font-size="4.2" fill="#b6b6b6" textLength="12.5" lengthAdjust="spacing">-2.26</text>
<text transform="translate(192.7 167.5) scale(0.8 1)" x="-6.25" y="0" font-size="4.2" fill="#b6b6b6" textLength="12.5" lengthAdjust="spacing">-4.02</text>
<text transform="translate(150.4 187.3) scale(0.8 1)" x="-6.25" y="0" font-size="4.2" fill="#b6b6b6" textLength="12.5" lengthAdjust="spacing">-1.79</text>
<text transform="translate(158.3 204.9) scale(0.8 1)" x="-6.25" y="0" font-size="4.2" fill="#b6b6b6" textLength="12.5" lengthAdjust="spacing">-2.46</text>
<text transform="translate(99.5 189.3) scale(0.8 1)" x="-6.25" y="0" font-size="4.2" fill="#b6b6b6" textLength="12.5" lengthAdjust="spacing">-0.76</text>
<text transform="translate(107.3 206.7) scale(0.8 1)" x="-6.25" y="0" font-size="4.2" fill="#b6b6b6" textLength="12.5" lengthAdjust="spacing">-0.75</text>
<text transform="translate(56.4 209.4) scale(0.8 1)" x="-6.25" y="0" font-size="4.2" fill="#b6b6b6" textLength="12.5" lengthAdjust="spacing">-2.48</text>
<text transform="translate(115.3 223.2) scale(0.8 1)" x="-6.25" y="0" font-size="4.2" fill="#b6b6b6" textLength="12.5" lengthAdjust="spacing">-0.75</text>
<text transform="translate(64.4 226.5) scale(0.8 1)" x="-6.25" y="0" font-size="4.2" fill="#b6b6b6" textLength="12.5" lengthAdjust="spacing">-1.98</text>
<text transform="translate(72.2 243.8) scale(0.8 1)" x="-6.25" y="0" font-size="4.2" fill="#b6b6b6" textLength="12.5" lengthAdjust="spacing">-1.34</text>
<text transform="translate(123.3 241.7) scale(0.8 1)" x="-6.25" y="0" font-size="4.2" fill="#b6b6b6" textLength="12.5" lengthAdjust="spacing">-0.81</text>
<text transform="translate(80.2 260.5) scale(0.8 1)" x="-6.25" y="0" font-size="4.2" fill="#b6b6b6" textLength="12.5" lengthAdjust="spacing">-0.93</text>
<text transform="translate(131.1 258.5) scale(0.8 1)" x="-6.25" y="0" font-size="4.2" fill="#b6b6b6" textLength="12.5" lengthAdjust="spacing">-0.87</text>
<text transform="translate(87.7 277.6) scale(0.8 1)" x="-6.25" y="0" font-size="4.2" fill="#b6b6b6" textLength="12.5" lengthAdjust="spacing">-0.84</text>
<text transform="translate(138.6 275.6) scale(0.8 1)" x="-6.25" y="0" font-size="4.2" fill="#b6b6b6" textLength="12.5" lengthAdjust="spacing">-1.09</text>
<text transform="translate(96 295.4) scale(0.8 1)" x="-6.25" y="0" font-size="4.2" fill="#b6b6b6" textLength="12.5" lengthAdjust="spacing">-0.80</text>
<text transform="translate(146.6 292.7) scale(0.8 1)" x="-6.25" y="0" font-size="4.2" fill="#b6b6b6" textLength="12.5" lengthAdjust="spacing">-1.65</text>
<text transform="translate(104 312.4) scale(0.8 1)" x="-6.25" y="0" font-size="4.2" fill="#b6b6b6" textLength="12.5" lengthAdjust="spacing">-0.71</text>
<text transform="translate(154.1 309.7) scale(0.8 1)" x="-6.25" y="0" font-size="4.2" fill="#b6b6b6" textLength="12.5" lengthAdjust="spacing">-2.18</text>
<text transform="translate(111 329.6) scale(0.8 1)" x="-6.25" y="0" font-size="4.2" fill="#b6b6b6" textLength="12.5" lengthAdjust="spacing">-0.73</text>
<text transform="translate(162.2 327.8) scale(0.8 1)" x="-6.25" y="0" font-size="4.2" fill="#b6b6b6" textLength="12.5" lengthAdjust="spacing">-2.99</text>
<text transform="translate(119 346.6) scale(0.8 1)" x="-6.25" y="0" font-size="4.2" fill="#b6b6b6" textLength="12.5" lengthAdjust="spacing">-0.78</text>
<text transform="translate(172.9 349.3) scale(0.8 1)" x="-6.25" y="0" font-size="4.2" fill="#b6b6b6" textLength="12.5" lengthAdjust="spacing">-3.11</text>
<text transform="translate(327 231.4) scale(0.8 1)" x="-6.25" y="0" font-size="4.2" fill="#b6b6b6" textLength="12.5" lengthAdjust="spacing">-4.29</text>
<text transform="translate(282.6 251.1) scale(0.8 1)" x="-6.25" y="0" font-size="4.2" fill="#b6b6b6" textLength="12.5" lengthAdjust="spacing">-4.20</text>
<text transform="translate(336.1 248.6) scale(0.8 1)" x="-6.25" y="0" font-size="4.2" fill="#b6b6b6" textLength="12.5" lengthAdjust="spacing">-4.29</text>
<text transform="translate(291.2 268.9) scale(0.8 1)" x="-6.25" y="0" font-size="4.2" fill="#b6b6b6" textLength="12.5" lengthAdjust="spacing">-4.35</text>
<text transform="translate(344.8 271.4) scale(0.8 1)" x="-6.25" y="0" font-size="4.2" fill="#b6b6b6" textLength="12.5" lengthAdjust="spacing">-4.37</text>
<text transform="translate(301.7 291.5) scale(0.8 1)" x="-6.25" y="0" font-size="4.2" fill="#b6b6b6" textLength="12.5" lengthAdjust="spacing">-4.29</text>
<text transform="translate(241.2 270.6) scale(0.8 1)" x="-6.25" y="0" font-size="4.2" fill="#b6b6b6" textLength="12.5" lengthAdjust="spacing">-4.21</text>
<text transform="translate(247.7 288.7) scale(0.8 1)" x="-6.25" y="0" font-size="4.2" fill="#b6b6b6" textLength="12.5" lengthAdjust="spacing">-4.20</text>
<text transform="translate(205.2 307.3) scale(0.8 1)" x="-6.25" y="0" font-size="4.2" fill="#b6b6b6" textLength="12.5" lengthAdjust="spacing">-4.23</text>
<text transform="translate(258.5 310.3) scale(0.8 1)" x="-6.25" y="0" font-size="4.2" fill="#b6b6b6" textLength="12.5" lengthAdjust="spacing">-4.31</text>
<text transform="translate(215 330.3) scale(0.8 1)" x="-6.25" y="0" font-size="4.2" fill="#b6b6b6" textLength="12.5" lengthAdjust="spacing">-4.33</text>
<text transform="translate(400.4 52.5) scale(0.8 1)" x="-6.25" y="0" font-size="4.2" fill="#b6b6b6" textLength="12.5" lengthAdjust="spacing">-4.42</text>
<text transform="translate(408.4 69.8) scale(0.8 1)" x="-6.25" y="0" font-size="4.2" fill="#b6b6b6" textLength="12.5" lengthAdjust="spacing">-4.42</text>
<text transform="translate(357.7 72.6) scale(0.8 1)" x="-6.25" y="0" font-size="4.2" fill="#b6b6b6" textLength="12.5" lengthAdjust="spacing">-3.50</text>
<text transform="translate(365.3 89.9) scale(0.8 1)" x="-6.25" y="0" font-size="4.2" fill="#b6b6b6" textLength="12.5" lengthAdjust="spacing">-4.44</text>
<text transform="translate(373.6 106.9) scale(0.8 1)" x="-6.25" y="0" font-size="4.2" fill="#b6b6b6" textLength="12.5" lengthAdjust="spacing">-4.40</text>
<text transform="translate(381.1 123.6) scale(0.8 1)" x="-6.25" y="0" font-size="4.2" fill="#b6b6b6" textLength="12.5" lengthAdjust="spacing">-4.43</text>
<text transform="translate(322.6 108.6) scale(0.8 1)" x="-6.25" y="0" font-size="4.2" fill="#b6b6b6" textLength="12.5" lengthAdjust="spacing">-4.26</text>
<text transform="translate(329.3 126.6) scale(0.8 1)" x="-6.25" y="0" font-size="4.2" fill="#b6b6b6" textLength="12.5" lengthAdjust="spacing">-4.27</text>
<text transform="translate(443 32.3) scale(0.8 1)" x="-6.25" y="0" font-size="4.2" fill="#b6b6b6" textLength="12.5" lengthAdjust="spacing">-4.39</text>
<text transform="translate(451.5 50.3) scale(0.8 1)" x="-6.25" y="0" font-size="4.2" fill="#b6b6b6" textLength="12.5" lengthAdjust="spacing">-4.36</text>
<text transform="translate(459 67.3) scale(0.8 1)" x="-6.25" y="0" font-size="4.2" fill="#b6b6b6" textLength="12.5" lengthAdjust="spacing">-4.36</text>
<text transform="translate(415.5 86.3) scale(0.8 1)" x="-6.25" y="0" font-size="4.2" fill="#b6b6b6" textLength="12.5" lengthAdjust="spacing">-4.40</text>
<text transform="translate(516 193.7) scale(0.8 1)" x="-6.25" y="0" font-size="4.2" fill="#b6b6b6" textLength="12.5" lengthAdjust="spacing">-4.43</text>
<text transform="translate(473 212.7) scale(0.8 1)" x="-6.25" y="0" font-size="4.2" fill="#b6b6b6" textLength="12.5" lengthAdjust="spacing">-4.45</text>
<text transform="translate(431.4 232.2) scale(0.8 1)" x="-6.25" y="0" font-size="4.2" fill="#b6b6b6" textLength="12.5" lengthAdjust="spacing">-4.56</text>
<text transform="translate(368.8 212.6) scale(0.8 1)" x="-6.25" y="0" font-size="4.2" fill="#b6b6b6" textLength="12.5" lengthAdjust="spacing">-4.61</text>
<text transform="translate(375.3 229.6) scale(0.8 1)" x="-6.25" y="0" font-size="4.2" fill="#b6b6b6" textLength="12.5" lengthAdjust="spacing">-4.38</text>
<text transform="translate(387 251.8) scale(0.8 1)" x="-6.25" y="0" font-size="4.2" fill="#b6b6b6" textLength="12.5" lengthAdjust="spacing">-4.36</text>
<text transform="translate(110 71) rotate(90) scale(0.9 1)" x="0" y="0" font-size="4.4" fill="#333" textLength="27.78" lengthAdjust="spacing">Sportveld</text>
<text transform="translate(190.6 251.2) rotate(-18.5) scale(0.78 1)" x="0" y="0" font-size="4" fill="#555" textLength="46.79" lengthAdjust="spacing">Bodem waterloop</text>
<text transform="translate(482.7 129) rotate(-17.5) scale(0.78 1)" x="0" y="0" font-size="4" fill="#555" textLength="46.79" lengthAdjust="spacing">Bodem waterloop</text>
<path d="M-1 26.5L706.5 26.5L706.5 367.5L-1 367.5" fill="none" stroke="#000" stroke-width="1.1"/>
</g>
<g id="profiel">
<text transform="translate(262.3 410.9) scale(0.7 1)" x="0" y="0" font-size="13.2" fill="#000" textLength="62" lengthAdjust="spacing" stroke="#000" stroke-width="0.3">PROFIEL</text>
<text transform="translate(313.4 410.9) scale(0.7 1)" x="0" y="0" font-size="13.2" fill="#000" textLength="114.57" lengthAdjust="spacing" stroke="#000" stroke-width="0.3">OVERKLUIZING</text>
<path d="M262 413.8L431.3 413.8" fill="none" stroke="#000" stroke-width="1"/>
<text transform="translate(262.3 420.3) scale(0.75 1)" x="0" y="0" font-size="6.4" fill="#333" textLength="54.67" lengthAdjust="spacing">SCHAAL 1 : 50</text>
<circle cx="416.7" cy="412.6" r="14.8" fill="none" stroke="#000" stroke-width="1.05"/>
<text x="418.5" y="410.9" font-size="13.2" text-anchor="middle" fill="#000" textLength="8.4" lengthAdjust="spacingAndGlyphs">A</text>
<text transform="translate(416.7 421) scale(0.75 1)" x="-10.27" y="0" font-size="6.2" fill="#222" textLength="20.53" lengthAdjust="spacing">UO-01</text>
<path d="M164.4 433.5L542.4 433.5" fill="none" stroke="#000" stroke-width="1.05"/>
<path d="M164.4 428.9L164.4 438.1" fill="none" stroke="#000" stroke-width="1"/>
<path d="M164.4 433.5l4.2 -1.1v2.2z" fill="#000" stroke="none" stroke-width="0"/>
<path d="M542.4 428.9L542.4 438.1" fill="none" stroke="#000" stroke-width="1"/>
<path d="M542.4 433.5l-4.2 -1.1v2.2z" fill="#000" stroke="none" stroke-width="0"/>
<text transform="translate(353.4 431.8) scale(0.8 1)" x="-4.69" y="0" font-size="3.8" fill="#222" textLength="9.38" lengthAdjust="spacing">10.00</text>
<path d="M145.4 444.5L183.8 444.5" fill="none" stroke="#000" stroke-width="1.05"/>
<path d="M145.4 439.9L145.4 449.1" fill="none" stroke="#000" stroke-width="1"/>
<path d="M145.4 444.5l4.2 -1.1v2.2z" fill="#000" stroke="none" stroke-width="0"/>
<path d="M183.8 439.9L183.8 449.1" fill="none" stroke="#000" stroke-width="1"/>
<path d="M183.8 444.5l-4.2 -1.1v2.2z" fill="#000" stroke="none" stroke-width="0"/>
<text transform="translate(164.6 442.8) scale(0.8 1)" x="-4.62" y="0" font-size="4.2" fill="#222" textLength="9.25" lengthAdjust="spacing">1.00</text>
<path d="M504.5 444.5L542.4 444.5" fill="none" stroke="#000" stroke-width="1.05"/>
<path d="M504.5 439.9L504.5 449.1" fill="none" stroke="#000" stroke-width="1"/>
<path d="M504.5 444.5l4.2 -1.1v2.2z" fill="#000" stroke="none" stroke-width="0"/>
<path d="M542.4 439.9L542.4 449.1" fill="none" stroke="#000" stroke-width="1"/>
<path d="M542.4 444.5l-4.2 -1.1v2.2z" fill="#000" stroke="none" stroke-width="0"/>
<text transform="translate(523.45 442.8) scale(0.8 1)" x="-4.62" y="0" font-size="4.2" fill="#222" textLength="9.25" lengthAdjust="spacing">1.00</text>
<path d="M542.4 444.5L579.7 444.5" fill="none" stroke="#000" stroke-width="1.05"/>
<path d="M542.4 439.9L542.4 449.1" fill="none" stroke="#000" stroke-width="1"/>
<path d="M542.4 444.5l4.2 -1.1v2.2z" fill="#000" stroke="none" stroke-width="0"/>
<path d="M579.7 439.9L579.7 449.1" fill="none" stroke="#000" stroke-width="1"/>
<path d="M579.7 444.5l-4.2 -1.1v2.2z" fill="#000" stroke="none" stroke-width="0"/>
<text transform="translate(561.05 442.8) scale(0.8 1)" x="-4.62" y="0" font-size="4.2" fill="#222" textLength="9.25" lengthAdjust="spacing">1.00</text>
<path d="M504.5 455.6L655.6 455.6" fill="none" stroke="#000" stroke-width="1.05"/>
<path d="M504.5 451L504.5 460.2" fill="none" stroke="#000" stroke-width="1"/>
<path d="M504.5 455.6l4.2 -1.1v2.2z" fill="#000" stroke="none" stroke-width="0"/>
<path d="M655.6 451L655.6 460.2" fill="none" stroke="#000" stroke-width="1"/>
<path d="M655.6 455.6l-4.2 -1.1v2.2z" fill="#000" stroke="none" stroke-width="0"/>
<text transform="translate(580.05 453.9) scale(0.8 1)" x="-4.62" y="0" font-size="4.2" fill="#222" textLength="9.25" lengthAdjust="spacing">4.00</text>
<path d="M-2 495.4L0.1 495.08L2.9 494.65L6.24 494.15L9.94 493.58L13.83 492.99L17.76 492.39L21.54 491.82L25 491.3L28.22 490.82L31.38 490.34L34.51 489.87L37.61 489.4L40.69 488.94L43.78 488.49L46.87 488.04L50 487.6L53.15 487.16L56.32 486.71L59.49 486.26L62.67 485.82L65.84 485.4L69.01 485L72.16 484.63L75.3 484.3L78.39 484.01L81.44 483.75L84.46 483.53L87.48 483.32L90.52 483.14L93.61 482.98L96.76 482.84L100 482.7L103.28 482.58L106.57 482.49L109.89 482.41L113.27 482.35L116.74 482.3L120.33 482.26L124.08 482.23L128 482.2L132.4 482.18L137.36 482.16L142.63 482.16L147.95 482.17L153.05 482.18L157.66 482.19L161.53 482.2L164.4 482.2L164.4 491L163.03 490.99L161.27 490.98L159.2 490.97L156.84 490.96L154.27 490.94L151.52 490.93L148.64 490.91L145.7 490.9L142.62 490.88L139.34 490.85L135.88 490.81L132.27 490.78L128.55 490.75L124.74 490.74L120.88 490.76L117 490.8L113.05 490.87L108.99 490.94L104.83 491.03L100.61 491.14L96.35 491.28L92.07 491.45L87.82 491.65L83.6 491.9L79.35 492.2L75.01 492.54L70.64 492.93L66.27 493.34L61.98 493.78L57.8 494.22L53.79 494.67L50 495.1L46.48 495.53L43.19 495.96L40.08 496.41L37.09 496.86L34.14 497.31L31.19 497.77L28.16 498.23L25 498.7L21.54 499.2L17.76 499.75L13.83 500.31L9.94 500.88L6.24 501.41L2.9 501.89L0.1 502.3L-2 502.6Z" fill="url(#gran)" stroke="none" stroke-width="0"/>
<path d="M-2 502.6L0.1 502.3L2.9 501.89L6.24 501.41L9.94 500.88L13.83 500.31L17.76 499.75L21.54 499.2L25 498.7L28.16 498.23L31.19 497.77L34.14 497.31L37.09 496.86L40.08 496.41L43.19 495.96L46.48 495.53L50 495.1L53.79 494.67L57.8 494.22L61.98 493.78L66.27 493.34L70.64 492.93L75.01 492.54L79.35 492.2L83.6 491.9L87.82 491.65L92.07 491.45L96.35 491.28L100.61 491.14L104.83 491.03L108.99 490.94L113.05 490.87L117 490.8L120.88 490.76L124.74 490.74L128.55 490.75L132.27 490.78L135.88 490.81L139.34 490.85L142.62 490.88L145.7 490.9L148.64 490.91L151.52 490.93L154.27 490.94L156.84 490.96L159.2 490.97L161.27 490.98L163.03 490.99L164.4 491L164.4 510.2L201.2 510.2L201.2 522.3L31 522.5L-2 505.4Z" fill="url(#sand)" stroke="none" stroke-width="0"/>
<path d="M542.4 482.2L544.97 482.2L548.44 482.2L552.57 482.2L557.14 482.19L561.9 482.19L566.62 482.19L571.07 482.2L575 482.2L578.52 482.2L581.9 482.2L585.15 482.19L588.29 482.19L591.33 482.19L594.28 482.21L597.17 482.24L600 482.3L602.75 482.38L605.4 482.47L607.96 482.57L610.45 482.69L612.88 482.83L615.27 482.97L617.64 483.13L620 483.3L622.19 483.46L624.14 483.62L625.97 483.78L627.8 483.95L629.77 484.16L632.01 484.41L634.64 484.72L637.8 485.1L641.7 485.59L646.3 486.19L651.37 486.85L656.67 487.56L661.97 488.27L667.01 488.96L671.57 489.58L675.4 490.1L678.31 490.5L680.44 490.81L682.06 491.05L683.44 491.26L684.86 491.47L686.58 491.73L688.87 492.06L692 492.5L696.3 493.09L701.64 493.83L707.63 494.65L713.89 495.5L720.01 496.33L725.62 497.1L730.31 497.74L733.7 498.2L733.7 505.2L730.4 504.79L725.91 504.23L720.56 503.56L714.66 502.83L708.54 502.07L702.51 501.32L696.89 500.61L692 500L687.83 499.47L684.06 499L680.58 498.56L677.25 498.13L673.95 497.71L670.56 497.27L666.95 496.81L663 496.3L658.62 495.72L653.9 495.07L648.95 494.38L643.92 493.68L638.91 493L634.06 492.38L629.48 491.83L625.3 491.4L621.54 491.08L618.1 490.86L614.89 490.7L611.86 490.61L608.92 490.55L606.01 490.5L603.06 490.46L600 490.4L596.91 490.33L593.91 490.27L590.94 490.22L587.96 490.19L584.92 490.17L581.78 490.16L578.49 490.17L575 490.2L571.07 490.26L566.62 490.35L561.9 490.46L557.14 490.59L552.57 490.71L548.44 490.83L544.97 490.93L542.4 491Z" fill="url(#gran)" stroke="none" stroke-width="0"/>
<path d="M542.4 491L544.97 490.93L548.44 490.83L552.57 490.71L557.14 490.59L561.9 490.46L566.62 490.35L571.07 490.26L575 490.2L578.49 490.17L581.78 490.16L584.92 490.17L587.96 490.19L590.94 490.22L593.91 490.27L596.91 490.33L600 490.4L603.06 490.46L606.01 490.5L608.92 490.55L611.86 490.61L614.89 490.7L618.1 490.86L621.54 491.08L625.3 491.4L629.48 491.83L634.06 492.38L638.91 493L643.92 493.68L648.95 494.38L653.9 495.07L658.62 495.72L663 496.3L666.95 496.81L670.56 497.27L673.95 497.71L677.25 498.13L680.58 498.56L684.06 499L687.83 499.47L692 500L696.89 500.61L702.51 501.32L708.54 502.07L714.66 502.83L720.56 503.56L725.91 504.23L730.4 504.79L733.7 505.2L728.3 505.6L675 531.5L504.5 531.5L504.5 510.2L542.4 510.2Z" fill="url(#sand)" stroke="none" stroke-width="0"/>
<path d="M0 505.6L126.8 505.6" fill="none" stroke="#9a9a9a" stroke-width="1"/>
<path d="M126.8 505.8L201.2 506.6" fill="none" stroke="#9a9a9a" stroke-width="1"/>
<path d="M201.2 506.6C209.33 506.63 234.87 506.83 250 506.8C265.13 506.77 279.5 506.9 292 506.4C304.5 505.9 314.58 504.5 325 503.8C335.42 503.1 345.33 502.3 354.5 502.2C363.67 502.1 373.58 502.8 380 503.2C386.42 503.6 390.83 504.37 393 504.6" fill="none" stroke="#969696" stroke-width="1.1"/>
<path d="M393 504.6L397.8 505.8L418.9 530L436.7 538.2L474.4 538.2L496.7 530L505.6 524.4L520 517.5L537.8 511.8L560 509" fill="none" stroke="#969696" stroke-width="1.1" stroke-linejoin="round"/>
<path d="M560 509C566.67 508.73 583.33 507.8 600 507.4C616.67 507 639.17 506.83 660 506.6C680.83 506.37 714.17 506.1 725 506" fill="none" stroke="#a8a8a8" stroke-width="0.9"/>
<rect x="504.5" y="510.5" width="150.9" height="9.7" fill="#fff" stroke="#000" stroke-width="1.1"/>
<path d="M504.5 513.5L655.4 513.5" fill="none" stroke="#333" stroke-width="0.7"/>
<path d="M504.5 516.45L655.4 516.45" fill="none" stroke="#333" stroke-width="0.7"/>
<path d="M504.5 518.4L655.4 518.4" fill="none" stroke="#333" stroke-width="0.7"/>
<path d="M505.6 524.4L512 520.3L520 517.5L537.8 511.8L545 510.6" fill="none" stroke="#969696" stroke-width="1"/>
<rect x="145.7" y="491.6" width="37.6" height="9.7" fill="#fff"/>
<rect x="145.7" y="491.6" width="37.6" height="9.7" fill="url(#hR)" stroke="none"/>
<rect x="126.8" y="501.3" width="37.6" height="8.9" fill="#fff"/>
<rect x="126.8" y="501.3" width="37.6" height="8.9" fill="url(#hL)" stroke="none"/>
<rect x="164.4" y="501.3" width="36.8" height="8.9" fill="#fff"/>
<rect x="164.4" y="501.3" width="36.8" height="8.9" fill="url(#hR)" stroke="none"/>
<rect x="145.7" y="491.6" width="37.6" height="9.7" fill="none" stroke="#000" stroke-width="1.15"/>
<rect x="126.8" y="501.3" width="74.4" height="8.9" fill="none" stroke="#000" stroke-width="1.15"/>
<rect x="523.3" y="491.6" width="19.1" height="9.5" fill="#fff"/>
<rect x="523.3" y="491.6" width="19.1" height="9.5" fill="url(#hR)" stroke="none"/>
<rect x="542.4" y="491.6" width="19.3" height="9.5" fill="#fff"/>
<rect x="542.4" y="491.6" width="19.3" height="9.5" fill="url(#hR)" stroke="none"/>
<rect x="504.5" y="501.1" width="37.9" height="9.1" fill="#fff"/>
<rect x="504.5" y="501.1" width="37.9" height="9.1" fill="url(#hR)" stroke="none"/>
<rect x="542.4" y="501.1" width="37.3" height="9.1" fill="#fff"/>
<rect x="542.4" y="501.1" width="37.3" height="9.1" fill="url(#hL)" stroke="none"/>
<rect x="523.3" y="491.6" width="38.4" height="9.5" fill="none" stroke="#000" stroke-width="1.15"/>
<rect x="504.5" y="501.1" width="75.2" height="9.1" fill="none" stroke="#000" stroke-width="1.15"/>
<path d="M-2 495.4L0.1 495.08L2.9 494.65L6.24 494.15L9.94 493.58L13.83 492.99L17.76 492.39L21.54 491.82L25 491.3L28.22 490.82L31.38 490.34L34.51 489.87L37.61 489.4L40.69 488.94L43.78 488.49L46.87 488.04L50 487.6L53.15 487.16L56.32 486.71L59.49 486.26L62.67 485.82L65.84 485.4L69.01 485L72.16 484.63L75.3 484.3L78.39 484.01L81.44 483.75L84.46 483.53L87.48 483.32L90.52 483.14L93.61 482.98L96.76 482.84L100 482.7L103.28 482.58L106.57 482.49L109.89 482.41L113.27 482.35L116.74 482.3L120.33 482.26L124.08 482.23L128 482.2L132.4 482.18L137.36 482.16L142.63 482.16L147.95 482.17L153.05 482.18L157.66 482.19L161.53 482.2L164.4 482.2" fill="none" stroke="#000" stroke-width="1.1"/>
<path d="M-2 502.6L0.1 502.3L2.9 501.89L6.24 501.41L9.94 500.88L13.83 500.31L17.76 499.75L21.54 499.2L25 498.7L28.16 498.23L31.19 497.77L34.14 497.31L37.09 496.86L40.08 496.41L43.19 495.96L46.48 495.53L50 495.1L53.79 494.67L57.8 494.22L61.98 493.78L66.27 493.34L70.64 492.93L75.01 492.54L79.35 492.2L83.6 491.9L87.82 491.65L92.07 491.45L96.35 491.28L100.61 491.14L104.83 491.03L108.99 490.94L113.05 490.87L117 490.8L120.88 490.76L124.74 490.74L128.55 490.75L132.27 490.78L135.88 490.81L139.34 490.85L142.62 490.88L145.7 490.9" fill="none" stroke="#000" stroke-width="1.05"/>
<path d="M201.2 510.2L201.2 522.3L31 522.5L-2 505.4" fill="none" stroke="#000" stroke-width="1.1"/>
<path d="M542.4 482.2L544.97 482.2L548.44 482.2L552.57 482.2L557.14 482.19L561.9 482.19L566.62 482.19L571.07 482.2L575 482.2L578.52 482.2L581.9 482.2L585.15 482.19L588.29 482.19L591.33 482.19L594.28 482.21L597.17 482.24L600 482.3L602.75 482.38L605.4 482.47L607.96 482.57L610.45 482.69L612.88 482.83L615.27 482.97L617.64 483.13L620 483.3L622.19 483.46L624.14 483.62L625.97 483.78L627.8 483.95L629.77 484.16L632.01 484.41L634.64 484.72L637.8 485.1L641.7 485.59L646.3 486.19L651.37 486.85L656.67 487.56L661.97 488.27L667.01 488.96L671.57 489.58L675.4 490.1L678.31 490.5L680.44 490.81L682.06 491.05L683.44 491.26L684.86 491.47L686.58 491.73L688.87 492.06L692 492.5L696.3 493.09L701.64 493.83L707.63 494.65L713.89 495.5L720.01 496.33L725.62 497.1L730.31 497.74L733.7 498.2" fill="none" stroke="#000" stroke-width="1.1"/>
<path d="M575 490.2L578.49 490.17L581.78 490.16L584.92 490.17L587.96 490.19L590.94 490.22L593.91 490.27L596.91 490.33L600 490.4L603.06 490.46L606.01 490.5L608.92 490.55L611.86 490.61L614.89 490.7L618.1 490.86L621.54 491.08L625.3 491.4L629.48 491.83L634.06 492.38L638.91 493L643.92 493.68L648.95 494.38L653.9 495.07L658.62 495.72L663 496.3L666.95 496.81L670.56 497.27L673.95 497.71L677.25 498.13L680.58 498.56L684.06 499L687.83 499.47L692 500L696.89 500.61L702.51 501.32L708.54 502.07L714.66 502.83L720.56 503.56L725.91 504.23L730.4 504.79L733.7 505.2" fill="none" stroke="#000" stroke-width="1.05"/>
<path d="M733.7 505.2L728.3 505.6L675 531.5L504.5 531.5L504.5 510.2" fill="none" stroke="#000" stroke-width="1.1"/>
<path d="M164.4 482.5L542.4 482.5" fill="none" stroke="#000" stroke-width="1.2"/>
<path d="M164.4 485.45L542.4 485.45" fill="none" stroke="#000" stroke-width="0.68"/>
<path d="M164.4 487.45L542.4 487.45" fill="none" stroke="#000" stroke-width="0.68"/>
<path d="M164.4 489.4L542.4 489.4" fill="none" stroke="#000" stroke-width="0.68"/>
<path d="M164.4 491.45L542.4 491.45" fill="none" stroke="#000" stroke-width="1.2"/>
<path d="M164.4 476.5L164.4 491.6" fill="none" stroke="#000" stroke-width="1.2"/>
<path d="M164.4 501.3L164.4 510.2" fill="none" stroke="#000" stroke-width="1.2"/>
<path d="M542.4 476.5L542.4 491.6" fill="none" stroke="#000" stroke-width="1.2"/>
<path d="M542.4 501.1L542.4 510.2" fill="none" stroke="#000" stroke-width="1.2"/>
<path d="M353.5 451.2L353.5 574.8" fill="none" stroke="#000" stroke-width="1" stroke-dasharray="7.7 1.5" stroke-dashoffset="3.6"/>
<circle cx="353.5" cy="574.5" r="34.4" fill="none" stroke="#000" stroke-width="1.15"/>
<circle cx="353.5" cy="574.5" r="29" fill="none" stroke="#000" stroke-width="1.15"/>
<path d="M201.2 510.2L334.2 643.2" fill="none" stroke="#000" stroke-width="1.05" stroke-dasharray="12 1.3 1.2 1.3"/>
<path d="M504.5 510.2L371.5 643.2" fill="none" stroke="#000" stroke-width="1.05" stroke-dasharray="12 1.3 1.2 1.3"/>
<path d="M733.7 439.2L733.7 572.4" fill="none" stroke="#000" stroke-width="1" stroke-dasharray="16 2 1.5 2"/>
<path d="M418 530.4L496.5 530.4" fill="none" stroke="#1b7df0" stroke-width="1.1"/>
<path d="M442.6 531.5L472.7 531.5" fill="none" stroke="#1b7df0" stroke-width="1"/>
<path d="M450 533.4L465 533.4" fill="none" stroke="#1b7df0" stroke-width="0.9"/>
<path d="M455.6 535.3L459.6 535.3" fill="none" stroke="#1b7df0" stroke-width="0.8"/>
<path d="M457.6 533.4L457.6 538" fill="none" stroke="#1b7df0" stroke-width="0.6"/>
<path d="M160.3 476.6h4.9l-1.2 5.6z" fill="#000" stroke="#000" stroke-width="0.3"/>
<path d="M160.3 476.6L175.6 476.6" fill="none" stroke="#000" stroke-width="0.9"/>
<text transform="translate(165.3 475.7) scale(0.8 1)" x="0" y="0" font-size="4" fill="#222" textLength="12" lengthAdjust="spacing">-3.75</text>
<path d="M349.4 476.6h4.9l-1.2 5.6z" fill="#000" stroke="#000" stroke-width="0.3"/>
<path d="M349.4 476.6L364.7 476.6" fill="none" stroke="#000" stroke-width="0.9"/>
<text transform="translate(354.4 475.7) scale(0.8 1)" x="0" y="0" font-size="4" fill="#222" textLength="12" lengthAdjust="spacing">-3.75</text>
<path d="M538.3 476.6h4.9l-1.2 5.6z" fill="#000" stroke="#000" stroke-width="0.3"/>
<path d="M538.3 476.6L553.6 476.6" fill="none" stroke="#000" stroke-width="0.9"/>
<text transform="translate(543.3 475.7) scale(0.8 1)" x="0" y="0" font-size="4" fill="#222" textLength="12" lengthAdjust="spacing">-3.75</text>
<path d="M349.4 534.4h4.9l-1.2 5.6z" fill="#000" stroke="#000" stroke-width="0.3"/>
<path d="M349.4 534.4L364.7 534.4" fill="none" stroke="#000" stroke-width="0.9"/>
<text transform="translate(354.4 533.5) scale(0.8 1)" x="0" y="0" font-size="4" fill="#222" textLength="12" lengthAdjust="spacing">-5.28</text>
<path d="M349.4 613.6h6.6l-3.2 -4.6z" fill="#000" stroke="#000" stroke-width="0.3"/>
<path d="M349.4 613.6L364.7 613.6" fill="none" stroke="#000" stroke-width="0.9"/>
<text transform="translate(356.1 612.8) scale(0.8 1)" x="0" y="0" font-size="4" fill="#222" textLength="12" lengthAdjust="spacing">-7.08</text>
<path d="M453.5 524.4h4.9l-1.2 5.6z" fill="#8a8a8a" stroke="#8a8a8a" stroke-width="0.3"/>
<path d="M453.5 524.4L469.5 524.4" fill="none" stroke="#8a8a8a" stroke-width="0.9"/>
<text transform="translate(458.5 523.5) scale(0.8 1)" x="0" y="0" font-size="4" fill="#8a8a8a" textLength="12" lengthAdjust="spacing">-5.02</text>
<path d="M452.7 544h6.6l-3.2 -4.6z" fill="#8a8a8a" stroke="#8a8a8a" stroke-width="0.3"/>
<path d="M452.7 544L468.7 544" fill="none" stroke="#8a8a8a" stroke-width="0.9"/>
<text transform="translate(459.4 543.2) scale(0.8 1)" x="0" y="0" font-size="4" fill="#8a8a8a" textLength="12" lengthAdjust="spacing">-5.25</text>
<path d="M366 507.4h5l-0.3 -5.6z" fill="#8a8a8a" stroke="#8a8a8a" stroke-width="0.3"/>
<path d="M366 507.4L381.9 507.4" fill="none" stroke="#8a8a8a" stroke-width="0.9"/>
<text transform="translate(372.2 506.4) scale(0.8 1)" x="0" y="0" font-size="3.8" fill="#9a9a9a" textLength="11.5" lengthAdjust="spacing">-4.27</text>
<path d="M363.5 487.7L363.5 517.9" fill="none" stroke="#000" stroke-width="1.1"/>
<path d="M363.5 491.6l-1.1 4.6h2.2zM363.5 502.3l-1.1 -4.6h2.2z" fill="#000" stroke="none" stroke-width="0"/>
<path d="M361.3 502.4L365.7 502.4" fill="none" stroke="#000" stroke-width="1"/>
<text transform="translate(362.2 516.8) rotate(-90) scale(0.8 1)" x="0" y="0" font-size="3.8" fill="#333" textLength="10.38" lengthAdjust="spacing">0.71</text>
<path d="M83.7 510.4l1.6 -5.4l1.6 5.4z" fill="#5a5a5a" stroke="#5a5a5a" stroke-width="0.5"/>
<path d="M86.3 510.2L98.3 510.2" fill="none" stroke="#808080" stroke-width="1"/>
<path d="M667.4 512.6l1.6 -5.4l1.6 5.4z" fill="#5a5a5a" stroke="#5a5a5a" stroke-width="0.5"/>
<path d="M670 512.4L682 512.4" fill="none" stroke="#808080" stroke-width="1"/>
<circle cx="292.5" cy="532.5" r="2.9" fill="#fff" stroke="#000" stroke-width="0.95"/>
<text transform="translate(295.6 537.8) scale(0.8 1)" x="0" y="0" font-size="4" fill="#333" textLength="12" lengthAdjust="spacing">Data</text>
<circle cx="389.6" cy="537.4" r="2.9" fill="#fff" stroke="#000" stroke-width="0.95"/>
<text transform="translate(392.6 542.8) scale(0.8 1)" x="0" y="0" font-size="4" fill="#333" textLength="6.5" lengthAdjust="spacing">HV</text>
<path d="M312 598L330.3 587.2" fill="none" stroke="#000" stroke-width="1.1"/>
<path d="M313.3 610.3L329.5 596.4" fill="none" stroke="#000" stroke-width="1.1"/>
<path d="M330.3 587.2l-4.6 1.5l1.2 2z" fill="#000" stroke="none" stroke-width="0"/>
<path d="M329.5 596.4l-4.4 2.2l1.5 1.8z" fill="#000" stroke="none" stroke-width="0"/>
<text transform="translate(311.9 596.2) rotate(-30) scale(0.8 1)" x="0" y="0" font-size="4" fill="#222" textLength="12.5" lengthAdjust="spacing">ø1.50</text>
<text transform="translate(313.2 608) rotate(-40) scale(0.8 1)" x="0" y="0" font-size="4" fill="#222" textLength="12.5" lengthAdjust="spacing">ø1.80</text>
<path d="M386.6 584L409.6 608.3" fill="none" stroke="#000" stroke-width="1.1"/>
<path d="M385.8 587L390.2 583" fill="none" stroke="#000" stroke-width="1.1"/>
<path d="M406.4 609.4L410.8 605.2" fill="none" stroke="#000" stroke-width="1.1"/>
<path d="M387.9 585.2l3.8 2.2l-1.7 1.6z" fill="#000" stroke="none" stroke-width="0"/>
<path d="M408.6 607.3l-3.8 -2.2l1.7 -1.6z" fill="#000" stroke="none" stroke-width="0"/>
<text transform="translate(394.6 589.8) rotate(46.5) scale(0.8 1)" x="0" y="0" font-size="4" fill="#222" textLength="21.88" lengthAdjust="spacing">ca. 0.70</text>
<path d="M25 544.4L105.9 544.4L140.2 485.1" fill="none" stroke="#000" stroke-width="1"/>
<path d="M140.2 485.1L137.58 487.74L139.22 488.69Z" fill="#000" stroke="none" stroke-width="0"/>
<text transform="translate(25.4 542.1) scale(0.78 1)" x="0" y="0" font-size="4" fill="#222" textLength="55.13" lengthAdjust="spacing" stroke="#222" stroke-width="0.15">Menggranulaat 0.20m</text>
<path d="M25 551.4L117.6 551.4L139 513.5" fill="none" stroke="#000" stroke-width="1"/>
<path d="M139 513.5L136.4 516.17L138.06 517.1Z" fill="#000" stroke="none" stroke-width="0"/>
<text transform="translate(25.4 549.1) scale(0.78 1)" x="0" y="0" font-size="4" fill="#222" textLength="92.31" lengthAdjust="spacing" stroke="#222" stroke-width="0.15">Minimaal 0,30m zand voor zandbed</text>
<path d="M25 557.4L129.3 557.4L165.3 495.1" fill="none" stroke="#000" stroke-width="1"/>
<path d="M165.3 495.1L162.68 497.74L164.32 498.69Z" fill="#000" stroke="none" stroke-width="0"/>
<text transform="translate(25.4 555.1) scale(0.78 1)" x="0" y="0" font-size="4" fill="#222" textLength="115.38" lengthAdjust="spacing" stroke="#222" stroke-width="0.15">3x Draglineschot Afmeting: 6,00x1,00x0.25m</text>
<path d="M706.8 563.4L620.3 563.4L574.4 485" fill="none" stroke="#000" stroke-width="1"/>
<path d="M574.4 485L575.4 488.59L577.04 487.63Z" fill="#000" stroke="none" stroke-width="0"/>
<text transform="translate(706.2 561.1) scale(0.78 1)" x="-55.13" y="0" font-size="4" fill="#222" textLength="55.13" lengthAdjust="spacing" stroke="#222" stroke-width="0.15">Menggranulaat 0.20m</text>
<path d="M706.8 570.4L610.3 570.4L578.2 515.1" fill="none" stroke="#000" stroke-width="1"/>
<path d="M578.2 515.1L579.19 518.69L580.83 517.74Z" fill="#000" stroke="none" stroke-width="0"/>
<text transform="translate(706.2 568.1) scale(0.78 1)" x="-115.38" y="0" font-size="4" fill="#222" textLength="115.38" lengthAdjust="spacing" stroke="#222" stroke-width="0.15">6x Draglineschot Afmeting: 6,00x1,00x0.25m</text>
<path d="M706.8 577.4L563.9 577.4L523 505" fill="none" stroke="#000" stroke-width="1"/>
<path d="M523 505L523.94 508.6L525.6 507.67Z" fill="#000" stroke="none" stroke-width="0"/>
<text transform="translate(706.2 575.1) scale(0.78 1)" x="-115.38" y="0" font-size="4" fill="#222" textLength="115.38" lengthAdjust="spacing" stroke="#222" stroke-width="0.15">3x Draglineschot Afmeting: 6,00x1,00x0.25m</text>
<path d="M706.8 584.5L553.9 584.5L520 525.1" fill="none" stroke="#000" stroke-width="1"/>
<path d="M520 525.1L520.96 528.7L522.61 527.76Z" fill="#000" stroke="none" stroke-width="0"/>
<text transform="translate(706.2 582.2) scale(0.78 1)" x="-92.31" y="0" font-size="4" fill="#222" textLength="92.31" lengthAdjust="spacing" stroke="#222" stroke-width="0.15">Minimaal 0,30m zand voor zandbed</text>
<path d="M706.8 591.4L461.7 591.4L399.5 486.3" fill="none" stroke="#000" stroke-width="1"/>
<path d="M399.5 486.3L400.52 489.88L402.15 488.91Z" fill="#000" stroke="none" stroke-width="0"/>
<text transform="translate(706.2 589.1) scale(0.78 1)" x="-119.23" y="0" font-size="4" fill="#222" textLength="119.23" lengthAdjust="spacing" stroke="#222" stroke-width="0.15">4x Draglineschot Afmeting: 10,00x1,00x0.25m</text>
<path d="M587.7 577.4L541.4 495" fill="none" stroke="#000" stroke-width="1"/>
<path d="M541.4 495L542.34 498.6L543.99 497.67Z" fill="#000" stroke="none" stroke-width="0"/>
<path d="M601.5 577.4L560.2 505.1" fill="none" stroke="#000" stroke-width="1"/>
<path d="M560.2 505.1L561.16 508.7L562.81 507.75Z" fill="#000" stroke="none" stroke-width="0"/>
<rect x="676.2" y="612" width="76.6" height="5" fill="#000"/>
<path d="M677.1 615.4L694.8 615.4" fill="none" stroke="#fff" stroke-width="1"/>
<path d="M696.2 613.3L714 613.3" fill="none" stroke="#fff" stroke-width="1"/>
<path d="M715.4 615.4L733.2 615.4" fill="none" stroke="#fff" stroke-width="1"/>
<path d="M734.6 613.3L752.3 613.3" fill="none" stroke="#fff" stroke-width="1"/>
<text transform="translate(676.4 610.7) scale(0.95 1)" x="-1.37" y="0" font-size="4.5" fill="#222" textLength="2.74" lengthAdjust="spacing">0</text>
<text transform="translate(695.5 610.7) scale(0.95 1)" x="-1.37" y="0" font-size="4.5" fill="#222" textLength="2.74" lengthAdjust="spacing">2</text>
<text transform="translate(714.7 610.7) scale(0.95 1)" x="-1.37" y="0" font-size="4.5" fill="#222" textLength="2.74" lengthAdjust="spacing">4</text>
<text transform="translate(733.9 610.7) scale(0.95 1)" x="-1.37" y="0" font-size="4.5" fill="#222" textLength="2.74" lengthAdjust="spacing">6</text>
<text transform="translate(753 610.7) scale(0.95 1)" x="-3.37" y="0" font-size="4.5" fill="#222" textLength="6.74" lengthAdjust="spacing">8m</text>
<text transform="translate(680.1 624.9) scale(0.78 1)" x="0" y="0" font-size="4.2" fill="#3a3a3a" textLength="65.13" lengthAdjust="spacing">ALGEMENE OPMERKINGEN</text>
<text transform="translate(680.1 632) scale(0.78 1)" x="0" y="0" font-size="4" fill="#b0b0b0" textLength="94.36" lengthAdjust="spacing">Hoogtematen in meters t.o.v. N.A.P.</text>
<text transform="translate(680.1 635.9) scale(0.78 1)" x="0" y="0" font-size="4" fill="#b0b0b0" textLength="61.41" lengthAdjust="spacing">Lengtematen in meters</text>
<text transform="translate(680.1 639.8) scale(0.78 1)" x="0" y="0" font-size="4" fill="#b0b0b0" textLength="119.23" lengthAdjust="spacing">Handmatige wijzigingen zijn niet toegestaan</text>
</g>
</svg>
</body>
</html>
